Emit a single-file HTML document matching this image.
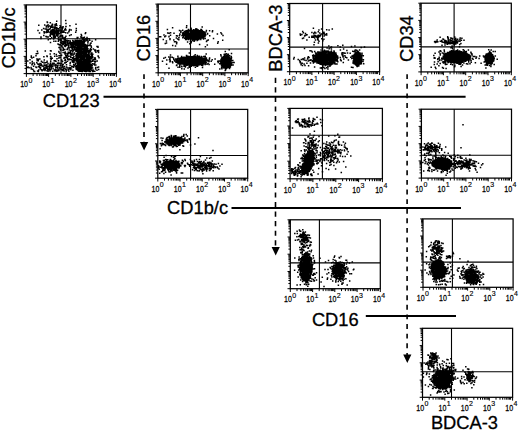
<!DOCTYPE html><html><head><meta charset="utf-8"><style>html,body{margin:0;padding:0;background:#fff;}svg{display:block}text{font-family:"Liberation Sans",sans-serif;fill:#000}</style></head><body>
<svg width="520" height="430" viewBox="0 0 520 430">
<rect x="26.4" y="4.9" width="90" height="68.7" fill="none" stroke="#000" stroke-width="1.25"/>
<path d="M61 4.9V73.6M26.4 38.8H116.4" stroke="#000" stroke-width="1.1"/>
<path d="M26.4 73.6v3.3M26.4 73.6h-2.8M33.1 73.6v2.4M26.4 68.4h-1.9M37 73.6v2.4M26.4 65.4h-1.9M39.8 73.6v2.4M26.4 63.3h-1.9M42 73.6v2.4M26.4 61.6h-1.9M43.7 73.6v2.4M26.4 60.2h-1.9M45.2 73.6v2.4M26.4 59.1h-1.9M46.5 73.6v2.4M26.4 58.1h-1.9M47.6 73.6v2.4M26.4 57.2h-1.9M48.6 73.6v3.3M26.4 56.4h-2.8M55.3 73.6v2.4M26.4 51.3h-1.9M59.3 73.6v2.4M26.4 48.2h-1.9M62 73.6v2.4M26.4 46.1h-1.9M64.2 73.6v2.4M26.4 44.4h-1.9M66 73.6v2.4M26.4 43.1h-1.9M67.5 73.6v2.4M26.4 41.9h-1.9M68.7 73.6v2.4M26.4 40.9h-1.9M69.9 73.6v2.4M26.4 40h-1.9M70.9 73.6v3.3M26.4 39.2h-2.8M77.6 73.6v2.4M26.4 34.1h-1.9M81.5 73.6v2.4M26.4 31.1h-1.9M84.3 73.6v2.4M26.4 28.9h-1.9M86.5 73.6v2.4M26.4 27.2h-1.9M88.2 73.6v2.4M26.4 25.9h-1.9M89.7 73.6v2.4M26.4 24.7h-1.9M91 73.6v2.4M26.4 23.7h-1.9M92.1 73.6v2.4M26.4 22.9h-1.9M93.2 73.6v3.3M26.4 22.1h-2.8M99.8 73.6v2.4M26.4 16.9h-1.9M103.8 73.6v2.4M26.4 13.9h-1.9M106.5 73.6v2.4M26.4 11.7h-1.9M108.7 73.6v2.4M26.4 10.1h-1.9M110.5 73.6v2.4M26.4 8.7h-1.9M112 73.6v2.4M26.4 7.6h-1.9M113.2 73.6v2.4M26.4 6.6h-1.9M114.4 73.6v2.4M26.4 5.7h-1.9M116.4 73.6v3.3M26.4 4.9h-2.8" stroke="#000" stroke-width="1"/>
<text transform="translate(28.0 87.3) scale(0.8 1)" font-size="8.8" text-anchor="end" stroke="#000" stroke-width="0.25">10</text>
<text x="28.4" y="82.7" font-size="7" stroke="#000" stroke-width="0.15">0</text>
<text transform="translate(50.2 87.3) scale(0.8 1)" font-size="8.8" text-anchor="end" stroke="#000" stroke-width="0.25">10</text>
<text x="50.6" y="82.7" font-size="7" stroke="#000" stroke-width="0.15">1</text>
<text transform="translate(72.5 87.3) scale(0.8 1)" font-size="8.8" text-anchor="end" stroke="#000" stroke-width="0.25">10</text>
<text x="72.9" y="82.7" font-size="7" stroke="#000" stroke-width="0.15">2</text>
<text transform="translate(94.8 87.3) scale(0.8 1)" font-size="8.8" text-anchor="end" stroke="#000" stroke-width="0.25">10</text>
<text x="95.2" y="82.7" font-size="7" stroke="#000" stroke-width="0.15">3</text>
<text transform="translate(117.0 87.3) scale(0.8 1)" font-size="8.8" text-anchor="end" stroke="#000" stroke-width="0.25">10</text>
<text x="117.4" y="82.7" font-size="7" stroke="#000" stroke-width="0.15">4</text>
<rect x="158.2" y="4.1" width="90" height="68.7" fill="none" stroke="#000" stroke-width="1.25"/>
<path d="M190.5 4.1V72.8M158.2 49H248.2" stroke="#000" stroke-width="1.1"/>
<path d="M158.2 72.8v3.3M158.2 72.8h-2.8M164.9 72.8v2.4M158.2 67.6h-1.9M168.8 72.8v2.4M158.2 64.6h-1.9M171.6 72.8v2.4M158.2 62.5h-1.9M173.8 72.8v2.4M158.2 60.8h-1.9M175.5 72.8v2.4M158.2 59.4h-1.9M177 72.8v2.4M158.2 58.3h-1.9M178.3 72.8v2.4M158.2 57.3h-1.9M179.4 72.8v2.4M158.2 56.4h-1.9M180.4 72.8v3.3M158.2 55.6h-2.8M187.1 72.8v2.4M158.2 50.5h-1.9M191.1 72.8v2.4M158.2 47.4h-1.9M193.8 72.8v2.4M158.2 45.3h-1.9M196 72.8v2.4M158.2 43.6h-1.9M197.8 72.8v2.4M158.2 42.3h-1.9M199.3 72.8v2.4M158.2 41.1h-1.9M200.5 72.8v2.4M158.2 40.1h-1.9M201.7 72.8v2.4M158.2 39.2h-1.9M202.7 72.8v3.3M158.2 38.4h-2.8M209.4 72.8v2.4M158.2 33.3h-1.9M213.3 72.8v2.4M158.2 30.3h-1.9M216.1 72.8v2.4M158.2 28.1h-1.9M218.3 72.8v2.4M158.2 26.4h-1.9M220 72.8v2.4M158.2 25.1h-1.9M221.5 72.8v2.4M158.2 23.9h-1.9M222.8 72.8v2.4M158.2 22.9h-1.9M223.9 72.8v2.4M158.2 22.1h-1.9M224.9 72.8v3.3M158.2 21.3h-2.8M231.6 72.8v2.4M158.2 16.1h-1.9M235.6 72.8v2.4M158.2 13.1h-1.9M238.3 72.8v2.4M158.2 10.9h-1.9M240.5 72.8v2.4M158.2 9.3h-1.9M242.3 72.8v2.4M158.2 7.9h-1.9M243.8 72.8v2.4M158.2 6.8h-1.9M245 72.8v2.4M158.2 5.8h-1.9M246.2 72.8v2.4M158.2 4.9h-1.9M248.2 72.8v3.3M158.2 4.1h-2.8" stroke="#000" stroke-width="1"/>
<text transform="translate(159.8 86.5) scale(0.8 1)" font-size="8.8" text-anchor="end" stroke="#000" stroke-width="0.25">10</text>
<text x="160.2" y="81.9" font-size="7" stroke="#000" stroke-width="0.15">0</text>
<text transform="translate(182.0 86.5) scale(0.8 1)" font-size="8.8" text-anchor="end" stroke="#000" stroke-width="0.25">10</text>
<text x="182.4" y="81.9" font-size="7" stroke="#000" stroke-width="0.15">1</text>
<text transform="translate(204.3 86.5) scale(0.8 1)" font-size="8.8" text-anchor="end" stroke="#000" stroke-width="0.25">10</text>
<text x="204.7" y="81.9" font-size="7" stroke="#000" stroke-width="0.15">2</text>
<text transform="translate(226.5 86.5) scale(0.8 1)" font-size="8.8" text-anchor="end" stroke="#000" stroke-width="0.25">10</text>
<text x="226.9" y="81.9" font-size="7" stroke="#000" stroke-width="0.15">3</text>
<text transform="translate(248.8 86.5) scale(0.8 1)" font-size="8.8" text-anchor="end" stroke="#000" stroke-width="0.25">10</text>
<text x="249.2" y="81.9" font-size="7" stroke="#000" stroke-width="0.15">4</text>
<rect x="289.7" y="3.5" width="89.9" height="68.2" fill="none" stroke="#000" stroke-width="1.25"/>
<path d="M322.6 3.5V71.7M289.7 47.1H379.6" stroke="#000" stroke-width="1.1"/>
<path d="M289.7 71.7v3.3M289.7 71.7h-2.8M296.4 71.7v2.4M289.7 66.6h-1.9M300.3 71.7v2.4M289.7 63.6h-1.9M303.1 71.7v2.4M289.7 61.4h-1.9M305.2 71.7v2.4M289.7 59.8h-1.9M307 71.7v2.4M289.7 58.4h-1.9M308.5 71.7v2.4M289.7 57.3h-1.9M309.8 71.7v2.4M289.7 56.3h-1.9M310.9 71.7v2.4M289.7 55.4h-1.9M311.9 71.7v3.3M289.7 54.7h-2.8M318.6 71.7v2.4M289.7 49.5h-1.9M322.5 71.7v2.4M289.7 46.5h-1.9M325.3 71.7v2.4M289.7 44.4h-1.9M327.5 71.7v2.4M289.7 42.7h-1.9M329.2 71.7v2.4M289.7 41.4h-1.9M330.7 71.7v2.4M289.7 40.2h-1.9M332 71.7v2.4M289.7 39.3h-1.9M333.1 71.7v2.4M289.7 38.4h-1.9M334.1 71.7v3.3M289.7 37.6h-2.8M340.8 71.7v2.4M289.7 32.5h-1.9M344.8 71.7v2.4M289.7 29.5h-1.9M347.5 71.7v2.4M289.7 27.3h-1.9M349.7 71.7v2.4M289.7 25.7h-1.9M351.4 71.7v2.4M289.7 24.3h-1.9M352.9 71.7v2.4M289.7 23.2h-1.9M354.2 71.7v2.4M289.7 22.2h-1.9M355.4 71.7v2.4M289.7 21.3h-1.9M356.4 71.7v3.3M289.7 20.5h-2.8M363.1 71.7v2.4M289.7 15.4h-1.9M367 71.7v2.4M289.7 12.4h-1.9M369.8 71.7v2.4M289.7 10.3h-1.9M371.9 71.7v2.4M289.7 8.6h-1.9M373.7 71.7v2.4M289.7 7.3h-1.9M375.2 71.7v2.4M289.7 6.1h-1.9M376.4 71.7v2.4M289.7 5.2h-1.9M377.6 71.7v2.4M289.7 4.3h-1.9M379.6 71.7v3.3M289.7 3.5h-2.8" stroke="#000" stroke-width="1"/>
<text transform="translate(291.3 85.4) scale(0.8 1)" font-size="8.8" text-anchor="end" stroke="#000" stroke-width="0.25">10</text>
<text x="291.7" y="80.8" font-size="7" stroke="#000" stroke-width="0.15">0</text>
<text transform="translate(313.5 85.4) scale(0.8 1)" font-size="8.8" text-anchor="end" stroke="#000" stroke-width="0.25">10</text>
<text x="313.9" y="80.8" font-size="7" stroke="#000" stroke-width="0.15">1</text>
<text transform="translate(335.8 85.4) scale(0.8 1)" font-size="8.8" text-anchor="end" stroke="#000" stroke-width="0.25">10</text>
<text x="336.1" y="80.8" font-size="7" stroke="#000" stroke-width="0.15">2</text>
<text transform="translate(358.0 85.4) scale(0.8 1)" font-size="8.8" text-anchor="end" stroke="#000" stroke-width="0.25">10</text>
<text x="358.4" y="80.8" font-size="7" stroke="#000" stroke-width="0.15">3</text>
<text transform="translate(380.2 85.4) scale(0.8 1)" font-size="8.8" text-anchor="end" stroke="#000" stroke-width="0.25">10</text>
<text x="380.6" y="80.8" font-size="7" stroke="#000" stroke-width="0.15">4</text>
<rect x="421.1" y="3.2" width="90.2" height="68.7" fill="none" stroke="#000" stroke-width="1.25"/>
<path d="M454.1 3.2V71.9M421.1 46.9H511.3" stroke="#000" stroke-width="1.1"/>
<path d="M421.1 71.9v3.3M421.1 71.9h-2.8M427.8 71.9v2.4M421.1 66.7h-1.9M431.7 71.9v2.4M421.1 63.7h-1.9M434.5 71.9v2.4M421.1 61.6h-1.9M436.7 71.9v2.4M421.1 59.9h-1.9M438.5 71.9v2.4M421.1 58.5h-1.9M439.9 71.9v2.4M421.1 57.4h-1.9M441.2 71.9v2.4M421.1 56.4h-1.9M442.4 71.9v2.4M421.1 55.5h-1.9M443.4 71.9v3.3M421.1 54.7h-2.8M450.1 71.9v2.4M421.1 49.6h-1.9M454 71.9v2.4M421.1 46.5h-1.9M456.8 71.9v2.4M421.1 44.4h-1.9M459 71.9v2.4M421.1 42.7h-1.9M460.8 71.9v2.4M421.1 41.4h-1.9M462.2 71.9v2.4M421.1 40.2h-1.9M463.5 71.9v2.4M421.1 39.2h-1.9M464.7 71.9v2.4M421.1 38.3h-1.9M465.7 71.9v3.3M421.1 37.6h-2.8M472.4 71.9v2.4M421.1 32.4h-1.9M476.3 71.9v2.4M421.1 29.4h-1.9M479.1 71.9v2.4M421.1 27.2h-1.9M481.3 71.9v2.4M421.1 25.5h-1.9M483.1 71.9v2.4M421.1 24.2h-1.9M484.5 71.9v2.4M421.1 23h-1.9M485.8 71.9v2.4M421.1 22h-1.9M487 71.9v2.4M421.1 21.2h-1.9M488 71.9v3.3M421.1 20.4h-2.8M494.7 71.9v2.4M421.1 15.2h-1.9M498.6 71.9v2.4M421.1 12.2h-1.9M501.4 71.9v2.4M421.1 10h-1.9M503.6 71.9v2.4M421.1 8.4h-1.9M505.4 71.9v2.4M421.1 7h-1.9M506.8 71.9v2.4M421.1 5.9h-1.9M508.1 71.9v2.4M421.1 4.9h-1.9M509.3 71.9v2.4M421.1 4h-1.9M511.3 71.9v3.3M421.1 3.2h-2.8" stroke="#000" stroke-width="1"/>
<text transform="translate(422.7 85.6) scale(0.8 1)" font-size="8.8" text-anchor="end" stroke="#000" stroke-width="0.25">10</text>
<text x="423.1" y="81.0" font-size="7" stroke="#000" stroke-width="0.15">0</text>
<text transform="translate(445.0 85.6) scale(0.8 1)" font-size="8.8" text-anchor="end" stroke="#000" stroke-width="0.25">10</text>
<text x="445.4" y="81.0" font-size="7" stroke="#000" stroke-width="0.15">1</text>
<text transform="translate(467.3 85.6) scale(0.8 1)" font-size="8.8" text-anchor="end" stroke="#000" stroke-width="0.25">10</text>
<text x="467.7" y="81.0" font-size="7" stroke="#000" stroke-width="0.15">2</text>
<text transform="translate(489.6 85.6) scale(0.8 1)" font-size="8.8" text-anchor="end" stroke="#000" stroke-width="0.25">10</text>
<text x="490.0" y="81.0" font-size="7" stroke="#000" stroke-width="0.15">3</text>
<text transform="translate(511.9 85.6) scale(0.8 1)" font-size="8.8" text-anchor="end" stroke="#000" stroke-width="0.25">10</text>
<text x="512.3" y="81.0" font-size="7" stroke="#000" stroke-width="0.15">4</text>
<rect x="157.8" y="109.4" width="89.9" height="68.8" fill="none" stroke="#000" stroke-width="1.25"/>
<path d="M190.6 109.4V178.2M157.8 155.5H247.7" stroke="#000" stroke-width="1.1"/>
<path d="M157.8 178.2v3.3M157.8 178.2h-2.8M164.5 178.2v2.4M157.8 173h-1.9M168.4 178.2v2.4M157.8 170h-1.9M171.2 178.2v2.4M157.8 167.8h-1.9M173.3 178.2v2.4M157.8 166.2h-1.9M175.1 178.2v2.4M157.8 164.8h-1.9M176.6 178.2v2.4M157.8 163.7h-1.9M177.9 178.2v2.4M157.8 162.7h-1.9M179 178.2v2.4M157.8 161.8h-1.9M180 178.2v3.3M157.8 161h-2.8M186.7 178.2v2.4M157.8 155.8h-1.9M190.6 178.2v2.4M157.8 152.8h-1.9M193.4 178.2v2.4M157.8 150.6h-1.9M195.6 178.2v2.4M157.8 149h-1.9M197.3 178.2v2.4M157.8 147.6h-1.9M198.8 178.2v2.4M157.8 146.5h-1.9M200.1 178.2v2.4M157.8 145.5h-1.9M201.2 178.2v2.4M157.8 144.6h-1.9M202.2 178.2v3.3M157.8 143.8h-2.8M208.9 178.2v2.4M157.8 138.6h-1.9M212.9 178.2v2.4M157.8 135.6h-1.9M215.6 178.2v2.4M157.8 133.4h-1.9M217.8 178.2v2.4M157.8 131.8h-1.9M219.5 178.2v2.4M157.8 130.4h-1.9M221 178.2v2.4M157.8 129.3h-1.9M222.3 178.2v2.4M157.8 128.3h-1.9M223.5 178.2v2.4M157.8 127.4h-1.9M224.5 178.2v3.3M157.8 126.6h-2.8M231.2 178.2v2.4M157.8 121.4h-1.9M235.1 178.2v2.4M157.8 118.4h-1.9M237.9 178.2v2.4M157.8 116.2h-1.9M240 178.2v2.4M157.8 114.6h-1.9M241.8 178.2v2.4M157.8 113.2h-1.9M243.3 178.2v2.4M157.8 112.1h-1.9M244.5 178.2v2.4M157.8 111.1h-1.9M245.7 178.2v2.4M157.8 110.2h-1.9M247.7 178.2v3.3M157.8 109.4h-2.8" stroke="#000" stroke-width="1"/>
<text transform="translate(159.4 191.9) scale(0.8 1)" font-size="8.8" text-anchor="end" stroke="#000" stroke-width="0.25">10</text>
<text x="159.8" y="187.3" font-size="7" stroke="#000" stroke-width="0.15">0</text>
<text transform="translate(181.6 191.9) scale(0.8 1)" font-size="8.8" text-anchor="end" stroke="#000" stroke-width="0.25">10</text>
<text x="182.0" y="187.3" font-size="7" stroke="#000" stroke-width="0.15">1</text>
<text transform="translate(203.8 191.9) scale(0.8 1)" font-size="8.8" text-anchor="end" stroke="#000" stroke-width="0.25">10</text>
<text x="204.2" y="187.3" font-size="7" stroke="#000" stroke-width="0.15">2</text>
<text transform="translate(226.1 191.9) scale(0.8 1)" font-size="8.8" text-anchor="end" stroke="#000" stroke-width="0.25">10</text>
<text x="226.5" y="187.3" font-size="7" stroke="#000" stroke-width="0.15">3</text>
<text transform="translate(248.3 191.9) scale(0.8 1)" font-size="8.8" text-anchor="end" stroke="#000" stroke-width="0.25">10</text>
<text x="248.7" y="187.3" font-size="7" stroke="#000" stroke-width="0.15">4</text>
<rect x="290.1" y="108.4" width="92.3" height="70.4" fill="none" stroke="#000" stroke-width="1.25"/>
<path d="M322.4 108.4V178.8M290.1 135.3H382.4" stroke="#000" stroke-width="1.1"/>
<path d="M290.1 178.8v3.3M290.1 178.8h-2.8M297 178.8v2.4M290.1 173.5h-1.9M301 178.8v2.4M290.1 170.4h-1.9M303.8 178.8v2.4M290.1 168.2h-1.9M306.1 178.8v2.4M290.1 166.5h-1.9M307.9 178.8v2.4M290.1 165.1h-1.9M309.4 178.8v2.4M290.1 163.9h-1.9M310.7 178.8v2.4M290.1 162.9h-1.9M311.9 178.8v2.4M290.1 162h-1.9M312.9 178.8v3.3M290.1 161.2h-2.8M319.8 178.8v2.4M290.1 155.9h-1.9M323.8 178.8v2.4M290.1 152.8h-1.9M326.7 178.8v2.4M290.1 150.6h-1.9M328.9 178.8v2.4M290.1 148.9h-1.9M330.7 178.8v2.4M290.1 147.5h-1.9M332.2 178.8v2.4M290.1 146.3h-1.9M333.5 178.8v2.4M290.1 145.3h-1.9M334.7 178.8v2.4M290.1 144.4h-1.9M335.8 178.8v3.3M290.1 143.6h-2.8M342.6 178.8v2.4M290.1 138.3h-1.9M346.6 178.8v2.4M290.1 135.2h-1.9M349.5 178.8v2.4M290.1 133h-1.9M351.7 178.8v2.4M290.1 131.3h-1.9M353.5 178.8v2.4M290.1 129.9h-1.9M355 178.8v2.4M290.1 128.7h-1.9M356.4 178.8v2.4M290.1 127.7h-1.9M357.5 178.8v2.4M290.1 126.8h-1.9M358.6 178.8v3.3M290.1 126h-2.8M365.4 178.8v2.4M290.1 120.7h-1.9M369.5 178.8v2.4M290.1 117.6h-1.9M372.3 178.8v2.4M290.1 115.4h-1.9M374.5 178.8v2.4M290.1 113.7h-1.9M376.3 178.8v2.4M290.1 112.3h-1.9M377.9 178.8v2.4M290.1 111.1h-1.9M379.2 178.8v2.4M290.1 110.1h-1.9M380.4 178.8v2.4M290.1 109.2h-1.9M382.4 178.8v3.3M290.1 108.4h-2.8" stroke="#000" stroke-width="1"/>
<text transform="translate(291.7 192.5) scale(0.8 1)" font-size="8.8" text-anchor="end" stroke="#000" stroke-width="0.25">10</text>
<text x="292.1" y="187.9" font-size="7" stroke="#000" stroke-width="0.15">0</text>
<text transform="translate(314.5 192.5) scale(0.8 1)" font-size="8.8" text-anchor="end" stroke="#000" stroke-width="0.25">10</text>
<text x="314.9" y="187.9" font-size="7" stroke="#000" stroke-width="0.15">1</text>
<text transform="translate(337.4 192.5) scale(0.8 1)" font-size="8.8" text-anchor="end" stroke="#000" stroke-width="0.25">10</text>
<text x="337.8" y="187.9" font-size="7" stroke="#000" stroke-width="0.15">2</text>
<text transform="translate(360.2 192.5) scale(0.8 1)" font-size="8.8" text-anchor="end" stroke="#000" stroke-width="0.25">10</text>
<text x="360.6" y="187.9" font-size="7" stroke="#000" stroke-width="0.15">3</text>
<text transform="translate(383.0 192.5) scale(0.8 1)" font-size="8.8" text-anchor="end" stroke="#000" stroke-width="0.25">10</text>
<text x="383.4" y="187.9" font-size="7" stroke="#000" stroke-width="0.15">4</text>
<rect x="421.4" y="109.2" width="90.1" height="68.9" fill="none" stroke="#000" stroke-width="1.25"/>
<path d="M454.2 109.2V178.1M421.4 155.3H511.5" stroke="#000" stroke-width="1.1"/>
<path d="M421.4 178.1v3.3M421.4 178.1h-2.8M428.1 178.1v2.4M421.4 172.9h-1.9M432 178.1v2.4M421.4 169.9h-1.9M434.8 178.1v2.4M421.4 167.7h-1.9M437 178.1v2.4M421.4 166.1h-1.9M438.7 178.1v2.4M421.4 164.7h-1.9M440.2 178.1v2.4M421.4 163.5h-1.9M441.5 178.1v2.4M421.4 162.5h-1.9M442.7 178.1v2.4M421.4 161.7h-1.9M443.7 178.1v3.3M421.4 160.9h-2.8M450.4 178.1v2.4M421.4 155.7h-1.9M454.3 178.1v2.4M421.4 152.7h-1.9M457.1 178.1v2.4M421.4 150.5h-1.9M459.2 178.1v2.4M421.4 148.8h-1.9M461 178.1v2.4M421.4 147.5h-1.9M462.5 178.1v2.4M421.4 146.3h-1.9M463.8 178.1v2.4M421.4 145.3h-1.9M464.9 178.1v2.4M421.4 144.4h-1.9M465.9 178.1v3.3M421.4 143.7h-2.8M472.7 178.1v2.4M421.4 138.5h-1.9M476.6 178.1v2.4M421.4 135.4h-1.9M479.4 178.1v2.4M421.4 133.3h-1.9M481.5 178.1v2.4M421.4 131.6h-1.9M483.3 178.1v2.4M421.4 130.2h-1.9M484.8 178.1v2.4M421.4 129.1h-1.9M486.1 178.1v2.4M421.4 128.1h-1.9M487.2 178.1v2.4M421.4 127.2h-1.9M488.2 178.1v3.3M421.4 126.4h-2.8M494.9 178.1v2.4M421.4 121.2h-1.9M498.9 178.1v2.4M421.4 118.2h-1.9M501.6 178.1v2.4M421.4 116.1h-1.9M503.8 178.1v2.4M421.4 114.4h-1.9M505.6 178.1v2.4M421.4 113h-1.9M507 178.1v2.4M421.4 111.9h-1.9M508.3 178.1v2.4M421.4 110.9h-1.9M509.5 178.1v2.4M421.4 110h-1.9M511.5 178.1v3.3M421.4 109.2h-2.8" stroke="#000" stroke-width="1"/>
<text transform="translate(423.0 191.8) scale(0.8 1)" font-size="8.8" text-anchor="end" stroke="#000" stroke-width="0.25">10</text>
<text x="423.4" y="187.2" font-size="7" stroke="#000" stroke-width="0.15">0</text>
<text transform="translate(445.3 191.8) scale(0.8 1)" font-size="8.8" text-anchor="end" stroke="#000" stroke-width="0.25">10</text>
<text x="445.7" y="187.2" font-size="7" stroke="#000" stroke-width="0.15">1</text>
<text transform="translate(467.6 191.8) scale(0.8 1)" font-size="8.8" text-anchor="end" stroke="#000" stroke-width="0.25">10</text>
<text x="467.9" y="187.2" font-size="7" stroke="#000" stroke-width="0.15">2</text>
<text transform="translate(489.8 191.8) scale(0.8 1)" font-size="8.8" text-anchor="end" stroke="#000" stroke-width="0.25">10</text>
<text x="490.2" y="187.2" font-size="7" stroke="#000" stroke-width="0.15">3</text>
<text transform="translate(512.1 191.8) scale(0.8 1)" font-size="8.8" text-anchor="end" stroke="#000" stroke-width="0.25">10</text>
<text x="512.5" y="187.2" font-size="7" stroke="#000" stroke-width="0.15">4</text>
<rect x="290.3" y="219.8" width="90" height="68.9" fill="none" stroke="#000" stroke-width="1.25"/>
<path d="M319.4 219.8V288.7M290.3 262.9H380.3" stroke="#000" stroke-width="1.1"/>
<path d="M290.3 288.7v3.3M290.3 288.7h-2.8M297 288.7v2.4M290.3 283.5h-1.9M300.9 288.7v2.4M290.3 280.5h-1.9M303.7 288.7v2.4M290.3 278.3h-1.9M305.9 288.7v2.4M290.3 276.7h-1.9M307.6 288.7v2.4M290.3 275.3h-1.9M309.1 288.7v2.4M290.3 274.1h-1.9M310.4 288.7v2.4M290.3 273.1h-1.9M311.5 288.7v2.4M290.3 272.3h-1.9M312.6 288.7v3.3M290.3 271.5h-2.8M319.2 288.7v2.4M290.3 266.3h-1.9M323.2 288.7v2.4M290.3 263.3h-1.9M325.9 288.7v2.4M290.3 261.1h-1.9M328.1 288.7v2.4M290.3 259.4h-1.9M329.9 288.7v2.4M290.3 258.1h-1.9M331.4 288.7v2.4M290.3 256.9h-1.9M332.6 288.7v2.4M290.3 255.9h-1.9M333.8 288.7v2.4M290.3 255h-1.9M334.8 288.7v3.3M290.3 254.2h-2.8M341.5 288.7v2.4M290.3 249.1h-1.9M345.4 288.7v2.4M290.3 246h-1.9M348.2 288.7v2.4M290.3 243.9h-1.9M350.4 288.7v2.4M290.3 242.2h-1.9M352.1 288.7v2.4M290.3 240.8h-1.9M353.6 288.7v2.4M290.3 239.7h-1.9M354.9 288.7v2.4M290.3 238.7h-1.9M356 288.7v2.4M290.3 237.8h-1.9M357.1 288.7v3.3M290.3 237h-2.8M363.7 288.7v2.4M290.3 231.8h-1.9M367.7 288.7v2.4M290.3 228.8h-1.9M370.4 288.7v2.4M290.3 226.7h-1.9M372.6 288.7v2.4M290.3 225h-1.9M374.4 288.7v2.4M290.3 223.6h-1.9M375.9 288.7v2.4M290.3 222.5h-1.9M377.1 288.7v2.4M290.3 221.5h-1.9M378.3 288.7v2.4M290.3 220.6h-1.9M380.3 288.7v3.3M290.3 219.8h-2.8" stroke="#000" stroke-width="1"/>
<text transform="translate(291.9 302.4) scale(0.8 1)" font-size="8.8" text-anchor="end" stroke="#000" stroke-width="0.25">10</text>
<text x="292.3" y="297.8" font-size="7" stroke="#000" stroke-width="0.15">0</text>
<text transform="translate(314.2 302.4) scale(0.8 1)" font-size="8.8" text-anchor="end" stroke="#000" stroke-width="0.25">10</text>
<text x="314.6" y="297.8" font-size="7" stroke="#000" stroke-width="0.15">1</text>
<text transform="translate(336.4 302.4) scale(0.8 1)" font-size="8.8" text-anchor="end" stroke="#000" stroke-width="0.25">10</text>
<text x="336.8" y="297.8" font-size="7" stroke="#000" stroke-width="0.15">2</text>
<text transform="translate(358.7 302.4) scale(0.8 1)" font-size="8.8" text-anchor="end" stroke="#000" stroke-width="0.25">10</text>
<text x="359.1" y="297.8" font-size="7" stroke="#000" stroke-width="0.15">3</text>
<text transform="translate(380.9 302.4) scale(0.8 1)" font-size="8.8" text-anchor="end" stroke="#000" stroke-width="0.25">10</text>
<text x="381.3" y="297.8" font-size="7" stroke="#000" stroke-width="0.15">4</text>
<rect x="423" y="218.9" width="90.1" height="68.4" fill="none" stroke="#000" stroke-width="1.25"/>
<path d="M452.4 218.9V287.3M423 262.1H513.1" stroke="#000" stroke-width="1.1"/>
<path d="M423 287.3v3.3M423 287.3h-2.8M429.7 287.3v2.4M423 282.2h-1.9M433.6 287.3v2.4M423 279.1h-1.9M436.4 287.3v2.4M423 277h-1.9M438.6 287.3v2.4M423 275.3h-1.9M440.3 287.3v2.4M423 274h-1.9M441.8 287.3v2.4M423 272.8h-1.9M443.1 287.3v2.4M423 271.9h-1.9M444.3 287.3v2.4M423 271h-1.9M445.3 287.3v3.3M423 270.2h-2.8M452 287.3v2.4M423 265.1h-1.9M455.9 287.3v2.4M423 262h-1.9M458.7 287.3v2.4M423 259.9h-1.9M460.8 287.3v2.4M423 258.2h-1.9M462.6 287.3v2.4M423 256.9h-1.9M464.1 287.3v2.4M423 255.7h-1.9M465.4 287.3v2.4M423 254.8h-1.9M466.5 287.3v2.4M423 253.9h-1.9M467.6 287.3v3.3M423 253.1h-2.8M474.3 287.3v2.4M423 248h-1.9M478.2 287.3v2.4M423 244.9h-1.9M481 287.3v2.4M423 242.8h-1.9M483.1 287.3v2.4M423 241.1h-1.9M484.9 287.3v2.4M423 239.8h-1.9M486.4 287.3v2.4M423 238.6h-1.9M487.7 287.3v2.4M423 237.7h-1.9M488.8 287.3v2.4M423 236.8h-1.9M489.8 287.3v3.3M423 236h-2.8M496.5 287.3v2.4M423 230.9h-1.9M500.5 287.3v2.4M423 227.8h-1.9M503.2 287.3v2.4M423 225.7h-1.9M505.4 287.3v2.4M423 224h-1.9M507.2 287.3v2.4M423 222.7h-1.9M508.6 287.3v2.4M423 221.5h-1.9M509.9 287.3v2.4M423 220.6h-1.9M511.1 287.3v2.4M423 219.7h-1.9M513.1 287.3v3.3M423 218.9h-2.8" stroke="#000" stroke-width="1"/>
<text transform="translate(424.6 301.0) scale(0.8 1)" font-size="8.8" text-anchor="end" stroke="#000" stroke-width="0.25">10</text>
<text x="425.0" y="296.4" font-size="7" stroke="#000" stroke-width="0.15">0</text>
<text transform="translate(446.9 301.0) scale(0.8 1)" font-size="8.8" text-anchor="end" stroke="#000" stroke-width="0.25">10</text>
<text x="447.3" y="296.4" font-size="7" stroke="#000" stroke-width="0.15">1</text>
<text transform="translate(469.2 301.0) scale(0.8 1)" font-size="8.8" text-anchor="end" stroke="#000" stroke-width="0.25">10</text>
<text x="469.6" y="296.4" font-size="7" stroke="#000" stroke-width="0.15">2</text>
<text transform="translate(491.4 301.0) scale(0.8 1)" font-size="8.8" text-anchor="end" stroke="#000" stroke-width="0.25">10</text>
<text x="491.8" y="296.4" font-size="7" stroke="#000" stroke-width="0.15">3</text>
<text transform="translate(513.7 301.0) scale(0.8 1)" font-size="8.8" text-anchor="end" stroke="#000" stroke-width="0.25">10</text>
<text x="514.1" y="296.4" font-size="7" stroke="#000" stroke-width="0.15">4</text>
<rect x="422.5" y="328.3" width="90.1" height="69" fill="none" stroke="#000" stroke-width="1.25"/>
<path d="M451.5 328.3V397.3M422.5 371.8H512.6" stroke="#000" stroke-width="1.1"/>
<path d="M422.5 397.3v3.3M422.5 397.3h-2.8M429.2 397.3v2.4M422.5 392.1h-1.9M433.1 397.3v2.4M422.5 389.1h-1.9M435.9 397.3v2.4M422.5 386.9h-1.9M438.1 397.3v2.4M422.5 385.2h-1.9M439.8 397.3v2.4M422.5 383.9h-1.9M441.3 397.3v2.4M422.5 382.7h-1.9M442.6 397.3v2.4M422.5 381.7h-1.9M443.8 397.3v2.4M422.5 380.8h-1.9M444.8 397.3v3.3M422.5 380.1h-2.8M451.5 397.3v2.4M422.5 374.9h-1.9M455.4 397.3v2.4M422.5 371.8h-1.9M458.2 397.3v2.4M422.5 369.7h-1.9M460.3 397.3v2.4M422.5 368h-1.9M462.1 397.3v2.4M422.5 366.6h-1.9M463.6 397.3v2.4M422.5 365.5h-1.9M464.9 397.3v2.4M422.5 364.5h-1.9M466 397.3v2.4M422.5 363.6h-1.9M467.1 397.3v3.3M422.5 362.8h-2.8M473.8 397.3v2.4M422.5 357.6h-1.9M477.7 397.3v2.4M422.5 354.6h-1.9M480.5 397.3v2.4M422.5 352.4h-1.9M482.6 397.3v2.4M422.5 350.7h-1.9M484.4 397.3v2.4M422.5 349.4h-1.9M485.9 397.3v2.4M422.5 348.2h-1.9M487.2 397.3v2.4M422.5 347.2h-1.9M488.3 397.3v2.4M422.5 346.3h-1.9M489.3 397.3v3.3M422.5 345.6h-2.8M496 397.3v2.4M422.5 340.4h-1.9M500 397.3v2.4M422.5 337.3h-1.9M502.7 397.3v2.4M422.5 335.2h-1.9M504.9 397.3v2.4M422.5 333.5h-1.9M506.7 397.3v2.4M422.5 332.1h-1.9M508.1 397.3v2.4M422.5 331h-1.9M509.4 397.3v2.4M422.5 330h-1.9M510.6 397.3v2.4M422.5 329.1h-1.9M512.6 397.3v3.3M422.5 328.3h-2.8" stroke="#000" stroke-width="1"/>
<text transform="translate(424.1 411.0) scale(0.8 1)" font-size="8.8" text-anchor="end" stroke="#000" stroke-width="0.25">10</text>
<text x="424.5" y="406.4" font-size="7" stroke="#000" stroke-width="0.15">0</text>
<text transform="translate(446.4 411.0) scale(0.8 1)" font-size="8.8" text-anchor="end" stroke="#000" stroke-width="0.25">10</text>
<text x="446.8" y="406.4" font-size="7" stroke="#000" stroke-width="0.15">1</text>
<text transform="translate(468.7 411.0) scale(0.8 1)" font-size="8.8" text-anchor="end" stroke="#000" stroke-width="0.25">10</text>
<text x="469.1" y="406.4" font-size="7" stroke="#000" stroke-width="0.15">2</text>
<text transform="translate(490.9 411.0) scale(0.8 1)" font-size="8.8" text-anchor="end" stroke="#000" stroke-width="0.25">10</text>
<text x="491.3" y="406.4" font-size="7" stroke="#000" stroke-width="0.15">3</text>
<text transform="translate(513.2 411.0) scale(0.8 1)" font-size="8.8" text-anchor="end" stroke="#000" stroke-width="0.25">10</text>
<text x="513.6" y="406.4" font-size="7" stroke="#000" stroke-width="0.15">4</text>
<path transform="scale(0.1)" d="M791 470h0m42-30h0m-4 89h0m-60 52h0m-6-22h0m70 110h0m-67-174h0m100 206h0m-30-163h0m35-37h0m-54 167h0m-28-68h0m55-71h0m-26-90h0m34 106h0m-44 54h0m7-88h0m64 112h0m-81-26h0m51 84h0m4-178h0m-24 145h0m-48-74h0m-8 55h0m97-42h0m4-80h0m-13 87h0m-22-39h0m-6 64h0m-55 19h0m88-138h0m-45 122h0m-59-54h0m6-66h0m62 180h0m-60-119h0m83 120h0m36-11h0m-93-123h0m30 138h0m-52-190h0m18 74h0m40-73h0m-17 94h0m86 26h0m-64-13h0m-1-171h0m61 211h0m-3 6h0m-83-109h0m-30 76h0m-5-143h0m13-35h0m-20 97h0m62-74h0m-42 66h0m6-68h0m30 105h0m-27-63h0m63-40h0m-42 1h0m-3-35h0m38 283h0m35-91h0m-98-86h0m4 122h0m51-5h0m-51-161h0m97 163h0m-8-19h0m-91-54h0m-3-148h0m15 199h0m86-87h0m-4-24h0m-107-27h0m-4-6h0m88 199h0m12-130h0m-12 99h0m-85-30h0m120 20h0m-35-87h0m-66 103h0m21 1h0m72-133h0m-56 175h0m12-237h0m-52 206h0m16-87h0m91 18h0m-50 93h0m-16-16h0m27-204h0m-76 35h0m11 88h0m-5-50h0m15 9h0m50 128h0m-22 8h0m-4-117h0m-19-152h0m-5 50h0m-25 92h0m81 13h0m-57-3h0m43 74h0m-72-57h0m8-87h0m82 58h0m-19 79h0m36-101h0m-39 24h0m-6 58h0m-15-46h0m20 121h0m28-24h0m-16 23h0m5-245h0m-87 104h0m-15-59h0m18 128h0m108 53h0m-95-41h0m46-180h0m-22 107h0m-35-12h0m45-34h0m-45 0h0m55 29h0m13 20h0m-83-63h0m18-44h0m53 230h0m28-202h0m-16 136h0m5-84h0m8 113h0m-44-134h0m38 173h0m-73-232h0m41 28h0m-27 24h0m61-13h0m-40-29h0m47 107h0m-78-12h0m85-25h0m-28 126h0m-28-96h0m7 98h0m42-66h0m-54-79h0m-29 123h0m1-175h0m106 138h0m-99-115h0m11 64h0m-20-1h0m117 14h0m-99-44h0m29 40h0m-38 6h0m-20-29h0m23-54h0m51 83h0m28 35h0m5 66h0m-69-157h0m60 87h0m23-8h0m-15 58h0m-94-74h0m64 85h0m41-8h0m-28 24h0m5-61h0m-90-88h0m70 71h0m12 14h0m-47-198h0m74 215h0m-50-58h0m2-142h0m18 54h0m-91 17h0m88-31h0m-25 57h0m11 90h0m37-25h0m-40-158h0m-61 62h0m85 3h0m-37-83h0m-60 86h0m103 114h0m-16-120h0m-15 55h0m-22-102h0m63 16h0m-111 94h0m52-65h0m-20 98h0m-12-16h0m94-18h0m17 57h0m-83 70h0m-1-264h0m-47 148h0m54-65h0m-41 19h0m45 144h0m79-50h0m-21-125h0m-69 41h0m0 10h0m10 153h0m-33-199h0m34-27h0m12 230h0m65-53h0m-31 35h0m28-114h0m-33-25h0m11 57h0m-89-168h0m38 84h0m-8 121h0m31-137h0m-9 30h0m-64-62h0m48 11h0m-10-23h0m-17-12h0m-7 51h0m72 181h0m5-145h0m-42 40h0m-13-55h0m-46-12h0m76 96h0m32-129h0m-80 21h0m26 56h0m70-2h0m-51 145h0m57-30h0m-49-45h0m59 3h0m-39 19h0m-35-60h0m-16 114h0m32-191h0m-74-5h0m89 122h0m-20-32h0m-34-104h0m21-67h0m-23 139h0m99 42h0m-18-49h0m-99-55h0m54 122h0m-28-123h0m62 194h0m-67-143h0m39-73h0m38 158h0m-63-153h0m45 2h0m-61 169h0m18 55h0m-4-231h0m-28 74h0m84 149h0m-95-155h0m-12 2h0m118-36h0m-35 20h0m-43-9h0m-12 8h0m31 138h0m48-124h0m-106 27h0m64 126h0m-48-161h0m49 128h0m47-174h0m3 194h0m-83-179h0m100 91h0m-92 43h0m-11-132h0m98 95h0m-101-34h0m12-70h0m16 71h0m62 66h0m4 10h0m-48-128h0m-39 15h0m0 119h0m-31-56h0m12-144h0m-6 126h0m83-27h0m-67 0h0m64 69h0m25 49h0m-42-214h0m32 48h0m-35 29h0m16-55h0m-66 23h0m50 18h0m-14-27h0m59 120h0m-39 55h0m-76-180h0m135 100h0m-15-61h0m-5 24h0m-71 109h0m40-53h0m-63-68h0m-17-47h0m32 115h0m39-125h0m3-6h0m-50 13h0m81 93h0m-55 8h0m14-141h0m-40 189h0m16-128h0m14 201h0m-15-115h0m0-45h0m-9-65h0m51-5h0m-16 189h0m0 19h0m-23-215h0m-45 124h0m102 94h0m-89-75h0m34-40h0m-40-61h0m79 183h0m-76-121h0m-3-110h0m37-27h0m75 90h0m7 70h0m-30-135h0m-3 19h0m-27 193h0m31-206h0m-75 77h0m41-11h0m-61-33h0m111 182h0m-109-87h0m77-14h0m-6-73h0m-18 86h0m4 23h0m-6-66h0m-51 62h0m48-123h0m61 156h0m-67-172h0m-1-22h0m-34 103h0m-5 4h0m41-128h0m19 10h0m43 205h0m-61-211h0m12 97h0m50 125h0m-27 47h0m-84-172h0m87-70h0m25 31h0m-17-37h0m-11 237h0m-68-190h0m43 11h0m48 168h0m-75-23h0m-18-74h0m65-61h0m41 53h0m-27 103h0m-13-146h0m17-42h0m40 89h0m-79 68h0m-13-176h0m55 16h0m-15 126h0m-6-69h0m5 139h0m-80-191h0m1 39h0m26 65h0m35-120h0m16 80h0m-66-89h0m0 148h0m113 28h0m-86-145h0m25 22h0m16 26h0m52 81h0m-88 64h0m-44-107h0m38-94h0m-41 101h0m28 13h0m44 4h0m23-145h0m-65 47h0m83 114h0m-15-73h0m-1-4h0m-86-93h0m42 189h0m53 22h0m-21-173h0m-15 54h0m36 21h0m-68 46h0m-17-121h0m71 18h0m19-2h0m-65 184h0m45-71h0m-16 47h0m32 0h0m-41-34h0m1-126h0m-37 100h0m-1-145h0m68 139h0m5 31h0m-93-32h0m50 62h0m-61-177h0m128 166h0m-29 8h0m-23-160h0m14-27h0m-51 74h0m7 87h0m-5-119h0m90 43h0m-10 36h0m-123-45h0m72 99h0m-16-18h0m6-149h0m38-19h0m-100 111h0m80 81h0m-55-83h0m37 97h0m-35-183h0m70 77h0m-76 52h0m87 33h0m-27-126h0m-30 16h0m-33-36h0m107 58h0m-57 123h0m-38-122h0m54 81h0m26-36h0m-69-88h0m-5 158h0m66-40h0m-81-81h0m89 30h0m-94-22h0m95-81h0m-93 32h0m94 151h0m-105-193h0m20 48h0m31-54h0m-26 12h0m-23 62h0m90 3h0m-66 71h0m-31-127h0m32-56h0m33 224h0m29-92h0m-10-9h0m-62 51h0m42 35h0m57-102h0m-33 102h0m-43-152h0m69 188h0m-1-55h0m10-8h0m-38-62h0m-39 58h0m-38-58h0m107 74h0m-40-135h0m-20 65h0m25-17h0m29 153h0m-79-72h0m71-90h0m-16 179h0m-80-119h0m27 68h0m97-93h0m-114 33h0m67 34h0m-7-23h0m39-41h0m-41 135h0m-38-75h0m28 20h0m-35-209h0m4 104h0m-36 10h0m68 75h0m-27-127h0m2 144h0m90-78h0m-88 96h0m-1-178h0m-13 172h0m89-55h0m-51-15h0m-13 25h0m72 44h0m-70-148h0m4-52h0m49 62h0m-1-26h0m-66 5h0m4-21h0m-2 171h0m3 29h0m21 18h0m36-33h0m40 51h0m-40-64h0m-68 63h0m18-75h0m42 76h0m-65-11h0m53 6h0m4-57h0m-52-15h0m42-10h0m-4 10h0m4 43h0m-4 8h0m-15-18h0m42 26h0m-97-3h0m77-15h0m33 17h0m-56-18h0m25 35h0m-50-40h0m34 14h0m64-31h0m0 13h0m-51-15h0m-28 5h0m-5 32h0m54 24h0m40-29h0m-134-29h0m139 37h0m-42 22h0m41-22h0m-47 2h0m12-3h0m-2-46h0m-2 29h0m15-43h0m-17 32h0m27 50h0m-42-63h0m-42 20h0m3 1h0m-42 16h0m121 1h0m17-15h0m-145-8h0m155 11h0m-91-45h0m37 13h0m12 4h0m2-7h0m0-12h0m-16 75h0m-51 3h0m28-81h0m-19 62h0m11 12h0m-12-4h0m43-27h0m-39 44h0m29-59h0m-38 38h0m43-36h0m-36 45h0m69-48h0m-61 36h0m24-37h0m-37-23h0m-23 80h0m65-9h0m-23-56h0m-33 65h0m86-35h0m-3-27h0m18 35h0m-66 8h0m-46-48h0m-1 61h0m29-16h0m6-6h0m-47 14h0m109-57h0m-30 22h0m-13-39h0m56 56h0m-48-27h0m34 20h0m-93-29h0m64 26h0m-55 20h0m66-21h0m-35-28h0m-31 23h0m85 43h0m-18-49h0m-13 55h0m-78-52h0m24-24h0m36 5h0m-39-3h0m77 6h0m-93 31h0m113 21h0m-63-34h0m60 16h0m-31-40h0m13 49h0m-71-17h0m-18-16h0m109 7h0m-107 19h0m80-34h0m-31 9h0m-35-10h0m-25 11h0m100 0h0m13 6h0m4 22h0m-103-11h0m116-26h0m-55-9h0m-62 75h0m85-68h0m-17 35h0m-53-34h0m54 60h0m32-15h0m-13-21h0m-2-42h0m15 33h0m-51-38h0m67 55h0m-6-25h0m-81-12h0m0 51h0m-58-9h0m70 0h0m-52 24h0m32-1h0m10 5h0m92-31h0m-71 5h0m4-62h0m26 21h0m-109 49h0m89-9h0m20-51h0m27 74h0m-60-26h0m-34-45h0m20 1h0m-41 53h0m95-49h0m-57 30h0m72 13h0m-10-22h0m-86-1h0m-29 22h0m31-11h0m61-7h0m-16-36h0m-16 53h0m81 15h0m-47-44h0m6 1h0m-10-3h0m-16 22h0m69-17h0m-103 43h0m-30-7h0m134-9h0m-110-6h0m42-38h0m-38 31h0m-1-20h0m-32 37h0m120 7h0m-43 5h0m-59 7h0m42-19h0m24-10h0m-48-27h0m-15 32h0m26 9h0m77-41h0m-49 30h0m-42 34h0m92-40h0m-129-6h0m60 41h0m-53-61h0m8 13h0m31 41h0m75-19h0m-13 27h0m4-32h0m4 28h0m-3-15h0m-31-20h0m5-4h0m-25 9h0m-55-268h0m-41 57h0m18-10h0m53-85h0m-81 72h0m88 8h0m29 3h0m-76-24h0m67-19h0m10-37h0m-16 46h0m-149 61h0m129-52h0m-84 0h0m151-37h0m-295 51h0m138-2h0m44-32h0m-16 63h0m-31 33h0m37-100h0m87 35h0m-107 25h0m-56-41h0m179-11h0m-139 48h0m128-39h0m-163 19h0m138 9h0m79-45h0m-137 31h0m95-44h0m-3-55h0m-19 67h0m-13 44h0m-101-6h0m87 5h0m-77-35h0m-40 115h0m87-100h0m-70 48h0m59 5h0m74-56h0m-13-32h0m-59 26h0m-53 28h0m74 30h0m-201-29h0m145-19h0m84 12h0m-28-22h0m32 19h0m-141 6h0m23-32h0m96 21h0m-7-27h0m-19 2h0m43 41h0m84 3h0m-160-24h0m-4 24h0m175-19h0m-258-14h0m63 43h0m76-20h0m99-52h0m-141 110h0m56-94h0m-144 3h0m-16 51h0m152 2h0m-20-48h0m-22 83h0m-69-40h0m108-6h0m-26 1h0m68-32h0m-75 12h0m-30 5h0m41 5h0m103 16h0m-109-3h0m44-3h0m-18-11h0m-35-26h0m90 47h0m-17-23h0m-28-22h0m-115 54h0m111-56h0m-59 66h0m-47 23h0m147-8h0m-93-56h0m14 3h0m13-30h0m75-14h0m-86 56h0m-7-29h0m53-8h0m-93 25h0m70 43h0m-56-13h0m12-42h0m30 13h0m78 32h0m-91 3h0m94-32h0m-103 21h0m35-23h0m-7 10h0m84 0h0m-79 10h0m88-75h0m-1-12h0m-45 67h0m54-19h0m-122-12h0m-37 55h0m52-55h0m45-9h0m-55 19h0m133 35h0m-123-71h0m35 44h0m7 14h0m-38 18h0m65-33h0m-78-8h0m62-30h0m-48 20h0m-66 52h0m78-31h0m45-54h0m-46 62h0m46-50h0m-1 40h0m43 21h0m-42 38h0m-46-71h0m-23-11h0m14-31h0m8 68h0m60-34h0m22-13h0m-97-20h0m-31 39h0m138 15h0m-150 27h0m88-39h0m15 152h0m-39-143h0m135 146h0m-149 6h0m112 55h0m-101 1h0m26 15h0m-14-194h0m32 218h0m-80-84h0m136-27h0m-3 137h0m-170-150h0m50-15h0m76-123h0m31 242h0m-74-2h0m83-22h0m-85-14h0m-4 84h0m8-54h0m37-40h0m107-14h0m-20 88h0m-7-96h0m-26 89h0m-105-47h0m33-29h0m97-67h0m-202-98h0m83 106h0m32 117h0m118-25h0m-88-101h0m60-117h0m-35 44h0m-77 201h0m49-135h0m-88 171h0m61-64h0m-91-86h0m136-85h0m94 7h0m-222 139h0m114 67h0m-57-91h0m9-35h0m-158 147h0m191-77h0m-59 9h0m41-31h0m75-158h0m-57 63h0m-90 92h0m33 101h0m-26-253h0m101 128h0m-56 138h0m-39-140h0m70 76h0m-45 59h0m186-138h0m-25-164h0m-31 170h0m-86 0h0m-52-90h0m120 90h0m-112-34h0m80 78h0m-78-109h0m121 173h0m-152 20h0m-10-33h0m9-102h0m98 82h0m35-122h0m-69 125h0m-51-60h0m-37 24h0m153 69h0m-88-100h0m1 43h0m-107 53h0m25-123h0m106 0h0m111 40h0m-6 122h0m-139-75h0m120-70h0m-81-22h0m-2 20h0m2 130h0m88-83h0m-80 69h0m-33-184h0m94 12h0m-12-3h0m60-7h0m-178-69h0m104 236h0m-63-309h0m10 213h0m-21 1h0m-95-26h0m96-14h0m51 170h0m22-214h0m-38 125h0m86 102h0m-126-77h0m91-126h0m-109-81h0m58 164h0m-33 53h0m-120-50h0m148-24h0m-36-64h0m-11 99h0m80-92h0m28-15h0m-11 139h0m-74-57h0m50 99h0m-122-57h0m40 35h0m142-56h0m-99 13h0m-192 56h0m237-58h0m-65-86h0m-146 26h0m191 43h0m-130-63h0m196-60h0m-151 19h0m30 167h0m77-257h0m58 138h0m-103-62h0m-38 49h0m-25 38h0m127 66h0m-126-23h0m69 62h0m-24-29h0m164-35h0m-215 23h0m19-68h0m67 68h0m-32 49h0m6-206h0m72 90h0m23-28h0m-44 93h0m-219-173h0m54 231h0m200-40h0m-28-96h0m-46 70h0m29 46h0m-42-135h0m-24 106h0m-74-159h0m84 67h0m10-203h0m-5 232h0m75-166h0m-73 236h0m54 69h0m38-216h0m-28 69h0m-85-50h0m15 0h0m95 119h0m26 3h0m-135 61h0m-3-145h0m33 48h0m91-62h0m-56 55h0m-109-102h0m70 144h0m37 7h0m-19-89h0m26-54h0m-120 65h0m-5-18h0m46-3h0m47-24h0m-26-88h0m39 80h0m17-188h0m-81 296h0m-111-58h0m171 45h0m-107 12h0m111-116h0m40 89h0m-49-38h0m36 52h0m40 35h0m-119-66h0m104-13h0m-36 85h0m-38-275h0m21 246h0m0-94h0m73 60h0m-124-56h0m66-36h0m65 207h0m3-44h0m-8-11h0m9-95h0m-84 123h0m-15 31h0m12-39h0m0-210h0m-100 47h0m-21 175h0m-84-155h0m36 177h0m-58-66h0m79-72h0m-4 135h0m-66 0h0m27-32h0m90-189h0m-101-49h0m-52 279h0m25-55h0m-9-179h0m105-25h0m-62 261h0m68-11h0m47-268h0m-134 240h0m82-238h0m-33 61h0m-14-40h0m-20 244h0m-35-123h0m2-19h0m8 81h0m-5 17h0m63-198h0m-26 121h0m101-46h0m-6 120h0m-110-174h0m-1-34h0m-40 138h0m65 15h0m-8-172h0m59 203h0m-26-33h0m59 53h0m-85-126h0m-2 21h0m4-76h0m106-43h0m-71 290h0m-63-100h0m22-116h0m-32-39h0m116 210h0m12-231h0m-39 86h0m-9 71h0m-116 62h0m154-74h0m-112 37h0m92-79h0m-6 5h0m-33 69h0m27-92h0m-9 70h0m-73 22h0m8 93h0m37-59h0m9-77h0m-54-105h0m127 122h0m-73-1h0m52-91h0m-115 184h0m52-57h0m66 80h0m7-268h0m-87 248h0m78-223h0m-119 40h0m-9 33h0m126 52h0m-63-136h0m43 114h0m-39 109h0m51-204h0m-15 69h0m-28-41h0m-27 32h0m2-101h0m-33 174h0m-26-124h0m119 30h0m-71-10h0m92-47h0m-35 242h0m-79-138h0m107 62h0m-76-181h0m13 102h0m48-23h0m-55 111h0m73-93h0m-77 71h0m97-122h0m9 164h0m-108-14h0m-8-188h0m77 98h0m-41 36h0m67 82h0m-157-51h0m78-41h0m68-15h0m-66 149h0m-6-125h0m13 105h0m29-27h0m-49-220h0m50 161h0m16 69h0m-117-173h0m-7 188h0m4-230h0m118 150h0m-126 37h0m118-63h0m-118 66h0m65-34h0m105 73h0m-23-211h0m-97 117h0m-11-80h0m7-3h0m99 95h0m-63-43h0m-83-36h0m147 157h0m-2-172h0m-118-65h0m61 102h0m-13 36h0m21-39h0m39-52h0m21 112h0m-156-76h0m87 30h0m6-27h0m-53 149h0m3-27h0m92-37h0m-62 107h0m-2-17h0m-70-140h0m105-122h0m40 8h0m-48 34h0m59 120h0m-22-20h0m-23 56h0m-68-147h0m98-20h0m14 19h0m-147-35h0m57 178h0m-205 21h0m150 43h0m35-2h0m-183 8h0m-51-45h0m21 8h0m116-10h0m-40 0h0m49-88h0m-95 114h0m-76 32h0m178-14h0m-97-67h0m-6 24h0m41 0h0m244-44h0m-164 44h0m-123 54h0m21-83h0m36 39h0m-215 16h0m87-37h0m134 41h0m-6-36h0m-15 19h0m-213-56h0m176 50h0m-33 49h0m39-24h0m-28-21h0m-112-15h0m67-3h0m189 35h0m0 23h0m-26 6h0m-133-8h0m25-51h0m100-13h0m-48 47h0m9-28h0m-144 15h0m186 29h0m-18 12h0m-143-44h0m116 41h0m-16-19h0m-203-21h0m404 10h0m-374-4h0m35-31h0m164 52h0m48-18h0m-162-12h0m103-7h0m-87-3h0m-72-25h0m122 25h0m34 13h0m-128-41h0m135 8h0m4-7h0m-25 38h0m74-12h0m-118 24h0m10-30h0m-6 39h0m48 9h0m139-28h0m-264 7h0m141-92h0m-35 29h0m89-1h0m30 93h0m-151-16h0m162-32h0m-132-9h0m101-61h0m23 46h0m-43-26h0m-161 40h0m153-39h0m-20 38h0m56 12h0m-66 5h0m113-7h0m-148 40h0m-71-18h0m-132-4h0m140-62h0m-67 102h0m160-102h0m120 31h0m-189 36h0m-66-71h0m180 1h0m22 62h0m-61 1h0m-7-41h0m-115 12h0m47 51h0m-23-47h0m116 40h0m-90-58h0m-58-21h0m186 104h0m63-23h0m-133 10h0m53-39h0m-229-44h0m64 83h0m186-42h0m-45 11h0m-32-19h0m-28 21h0m-155 21h0m157 16h0m92-7h0m-22-67h0m35 0h0m7 63h0m-198 19h0m27-74h0m-75 21h0m222-18h0m72 53h0m-207-74h0m-95 69h0m255-63h0m-78-121h0m-127 24h0m188 177h0m-243-71h0m130-127h0m-55 165h0m74-110h0m37 2h0m-66 31h0m130 53h0m-52 7h0m-28 3h0m-130-124h0m90 156h0m65-112h0m-196 39h0m221-83h0m-41 2h0m-128-27h0m-5 77h0m-33-17h0m227-27h0m-187 57h0m-63-42h0m85 30h0m171-28h0m-228 151h0m74-17h0m56-14h0m-97-147h0m133 75h0m-59 47h0m58-93h0m-67 3h0m30-7h0m42-51h0m17 123h0m-168-76h0m-59 72h0m205 30h0m-102 31h0m-91-118h0m157 91h0m42-70h0m50 81h0m-179-82h0m139-10h0m-186 123h0m104-83h0m41 90h0m-161-132h0m-20 17h0m131 103h0m49-64h0m-79-1h0m116-258h0m34-132h0m18 107h0m-38-83h0m76-4h0m-81-20h0m-51 7h0m103 98h0m-66-86h0m15 59h0m-64-52h0m63 63h0m7-9h0m-58-100h0m69 54h0m-19 18h0m26-13h0m42 27h0m-40 20h0m23-7h0m-123-35h0m159 37h0m-57 0h0m-53-39h0m0 63h0m44 21h0m6 4h0m-2-106h0m57 53h0m-25-5h0m-66-1h0m-35-47h0m10 23h0m-21 14h0m73 74h0m68-72h0m-42-6h0m-22 7h0m-41 4h0m-41 12h0m52-52h0m-3 56h0m-14-3h0m55 38h0m-73-58h0m71 56h0m-11-26h0m-77-46h0m139 10h0m22-15h0m-108-30h0m40 64h0m62-3h0m-101-55h0m7 82h0m37 9h0m5-44h0m-11 8h0m-86 53h0m76-95h0m0 46h0m27 40h0m-179-31h0m203-52h0m-151 43h0m98 2h0m-64-28h0m58 42h0m89-16h0m-125-92h0m75 77h0m-53-29h0m38-28h0m-28 66h0m8 41h0m-17-42h0m42-57h0m-51 56h0m56-30h0m-7 41h0m-102-64h0m2 56h0m73 20h0m28-44h0m11 47h0m-27-11h0m-78-4h0m11-54h0m30 46h0m14-16h0m-43 17h0m12-55h0m37 100h0m-22-88h0m80 97h0m-75-67h0m22 110h0m-3-68h0m14-98h0m-69 20h0m68 47h0m61-13h0m-66 12h0m-8 78h0m7-30h0m45-72h0m-27 8h0m-26 19h0m-4-22h0m69 7h0m-11 104h0m-5-29h0m53 3h0m23-113h0m17 65h0m-259-30h0m25 28h0m-7-44h0m125 52h0m-77-18h0m49 14h0m7-13h0m61-62h0m-95 78h0m6-31h0m-3 34h0m118-17h0m-106 24h0m2-103h0m36 70h0m-59 45h0m43-53h0m-155-52h0m153 72h0m30 15h0m-64-67h0m-44 51h0m-3 40h0m-13-115h0m79 1h0m128 35h0m-118 34h0m-53-69h0m-73 119h0m201 58h0m-173-72h0m101 13h0m-35-6h0m99-5h0m38-35h0m7-24h0m9-92h0m-116 88h0m-1 82h0m50-42h0m69-70h0m-176 134h0m80-161h0m1 40h0m79 104h0m-141 7h0m-20-17h0m99-47h0m-141-7h0m-60-12h0m30 80h0m62-164h0m109 126h0m-76 78h0m89-92h0m43-22h0m21 139h0m-38-96h0m39 9h0m-28 68h0m101 31h0m-89-26h0m90 7h0m-161-91h0m-1-3h0m57 67h0m21 1h0m-37-6h0m75 46h0m52-11h0m-136 3h0m45-22h0m-42-1h0m21-55h0m15 25h0m56 28h0m-47-16h0m19-5h0m58 1h0m-103-25h0m56 51h0m-6-15h0m-66-57h0m17 28h0m27 42h0m50 8h0m-97-77h0m33 63h0m122 51h0m-33 40h0m-170-101h0m137 68h0m-68-44h0m-17-42h0m9 65h0m-5-29h0m39-37h0m-6 42h0m-60-29h0m19-41h0m51 45h0m-59-73h0m40 80h0m-30-15h0m-70-27h0m125 55h0m-63-36h0m35 49h0m19-18h0m-71-13h0m138 19h0m-44 6h0m-24-63h0m122 37h0m-111-2h0m54 23h0m-83-4h0m41-19h0m2 32h0m31-16h0m-67-27h0m-58-6h0m64 69h0m-34-50h0m100 30h0m-72-25h0m-33-53h0m99 85h0m-57-74h0m-18 71h0m-55-93h0m114 129h0m53-40h0m-58-34h0m-9 8h0m235 202h0m67-144h0m-68-13h0m22 29h0m-25 171h0m39 53h0m-18-73h0m-17-56h0m39-73h0m21-4h0m17 71h0m-68-14h0m2 73h0m-32-82h0m14 127h0m-16-62h0m26-43h0m30 72h0m-42-132h0m1-29h0m37 125h0m37-147h0m-66 31h0m36 80h0m-18 122h0m25-8h0m30-166h0m-2 39h0m-89 142h0m5-251h0m19 76h0m68 163h0m-55-96h0m43 78h0m-20-82h0m-53-76h0m54 96h0m14 88h0m16-198h0m-88 197h0m49-200h0m12 21h0m-45 31h0m28 87h0m-45 18h0m55-76h0m5 92h0m-66-91h0m67 66h0m-3-149h0m31 170h0m-73-99h0m73-63h0m-6 7h0m-349-248h0m-79-18h0m137 69h0m-32 9h0m36-23h0m-140 16h0m204 2h0m6-38h0m-219 59h0m39-35h0m38-7h0m-8-20h0m-148 84h0m195-131h0m-109 27h0m16-49h0m129 144h0m-80-30h0m83-69h0m61-15h0m-176 46h0m179 16h0m-135-32h0m21 29h0m63 47h0m0-47h0m-87 54h0m35-56h0m156 55h0m-120-58h0m1204 51h0m-3-10h0m38-16h0m35 44h0m-87 9h0m112-45h0m-57-15h0m105 37h0m-57-17h0m6-16h0m19 57h0m-168-21h0m23 12h0m147 8h0m-138-70h0m104 48h0m-126-38h0m107-8h0m12 13h0m-90 18h0m66 30h0m-75-43h0m101 40h0m-6 21h0m-99-59h0m110-5h0m-121-3h0m147 60h0m6-52h0m-115 41h0m-63-11h0m110-46h0m-12 5h0m-82 31h0m96-15h0m47 17h0m14-42h0m-169 28h0m99-14h0m44-3h0m-84 26h0m95 29h0m-82-32h0m59-35h0m-39 54h0m-78-17h0m118-17h0m-133 45h0m169-31h0m-164-5h0m-9-10h0m172-15h0m-145 39h0m161-36h0m-158 59h0m60-42h0m-72-10h0m32 50h0m51 22h0m32-67h0m-33 43h0m64-59h0m-95 12h0m-20 22h0m144-15h0m-164 42h0m41-55h0m18 63h0m107-25h0m-61 33h0m82-57h0m-24 49h0m-140-45h0m26-2h0m1-24h0m-36 80h0m44-27h0m114 12h0m-154 16h0m116-17h0m20-50h0m-38 13h0m45-25h0m-73 21h0m68 1h0m6 50h0m-41-20h0m-31-19h0m-50 32h0m107 9h0m-137-53h0m9-24h0m131 13h0m-13-3h0m-67 20h0m-37 23h0m141-16h0m1 26h0m-141 14h0m63-76h0m3 72h0m-17-35h0m-24 40h0m60-67h0m-73 15h0m143 34h0m-222-11h0m96 13h0m-1-63h0m23 73h0m63-46h0m-136 38h0m139-52h0m-88 16h0m66 55h0m-122-63h0m31 43h0m-34-18h0m75 12h0m71-49h0m27 37h0m-36 32h0m-95 5h0m34-2h0m2 3h0m11-79h0m17 66h0m-49-20h0m-40-32h0m39 23h0m11-42h0m60 66h0m-115-49h0m67-8h0m21 72h0m-97-31h0m125 16h0m-2-4h0m-106 13h0m162-40h0m-36 24h0m-157-22h0m47 31h0m-22-57h0m-20 21h0m109-11h0m-109-8h0m37 28h0m-32-2h0m62 49h0m11-3h0m-4-74h0m29-6h0m-45 21h0m5 0h0m64 4h0m-29-38h0m67 72h0m-119-10h0m136-23h0m-117-10h0m29 36h0m-98-29h0m169 42h0m-62-11h0m-60 26h0m50-54h0m-88-28h0m171 68h0m-100-30h0m-28 40h0m-3-37h0m139 11h0m-109-31h0m-21 28h0m96-35h0m-100 13h0m-2 52h0m42-63h0m-49 54h0m-42-13h0m-3-46h0m141 49h0m-44 20h0m-28-73h0m76 67h0m-87-77h0m117 66h0m-67 23h0m27-35h0m-127-2h0m44 37h0m17-59h0m-43-16h0m108-5h0m-126-3h0m41 59h0m-70-21h0m91 26h0m33-34h0m74 15h0m-131-20h0m139 16h0m-186-38h0m58 51h0m97-18h0m-90 16h0m38 6h0m-39 23h0m50-64h0m-58-5h0m127 52h0m-28 3h0m-113-6h0m-13-15h0m-25 25h0m79-58h0m-81 48h0m102 15h0m3-48h0m45-33h0m-120 1h0m143 33h0m-35-18h0m1 39h0m-152-16h0m150-28h0m-16 7h0m-68 64h0m13-35h0m92 19h0m-85 10h0m-13 9h0m17-83h0m67 2h0m-17-9h0m74 49h0m-59-41h0m-25 25h0m-93 43h0m-52-33h0m103-1h0m61 26h0m-90 20h0m-38-79h0m152-2h0m-151 38h0m36-34h0m142 31h0m-34-22h0m30-3h0m-1 39h0m-67-8h0m54-9h0m-12 24h0m-14-45h0m-68 59h0m-72-14h0m94-27h0m-93-27h0m73 35h0m-49-12h0m69 39h0m8-60h0m72 21h0m-179 21h0m198-19h0m-101-8h0m-101-3h0m121 28h0m77 13h0m-141 26h0m65-41h0m55 13h0m-121-7h0m47-39h0m-11-9h0m79 55h0m-37 26h0m-152-50h0m159 2h0m-58 3h0m-105 35h0m17-63h0m135 32h0m9 49h0m63-10h0m-126 20h0m-39-64h0m113-3h0m-67-5h0m89-63h0m-6 106h0m-80-15h0m-54 16h0m242-61h0m-100 26h0m-104-13h0m9-23h0m-70 88h0m80-33h0m20-3h0m-111-42h0m130 58h0m-107-47h0m5 37h0m85-19h0m-60 9h0m41-32h0m18 2h0m37 39h0m-98-1h0m45-39h0m-59-29h0m-13 60h0m140-29h0m-62 29h0m37 3h0m27 10h0m-120-11h0m-95-17h0m142 22h0m-19 8h0m97-50h0m-112 33h0m62-4h0m21-39h0m-3 70h0m20-22h0m-81-1h0m10-60h0m-32 47h0m5-27h0m17 17h0m18 10h0m6 31h0m-2-18h0m-81-100h0m49 108h0m4-39h0m-54 46h0m42-20h0m100 9h0m67-20h0m-78 25h0m-96-20h0m5-32h0m52 8h0m83 1h0m-134 25h0m2-1h0m-5-45h0m-109 4h0m236 52h0m-82-27h0m-18 23h0m-74-33h0m30 62h0m-10-3h0m35 47h0m23-81h0m86 25h0m-25-58h0m12 82h0m-74-65h0m-59 46h0m83-31h0m-92 49h0m127-50h0m36-28h0m-36-1h0m32 22h0m-12-4h0m-49 46h0m-78-31h0m4 23h0m14-37h0m24 46h0m-50-36h0m42-15h0m-27 11h0m59-41h0m2 10h0m-13 104h0m-59-70h0m43 31h0m-13-83h0m-69 59h0m112 27h0m-47-12h0m-32 19h0m60-59h0m15 72h0m-62-89h0m-10 2h0m58 46h0m-7-5h0m81-15h0m-146-60h0m90 49h0m-30 32h0m43-59h0m-85 49h0m48 32h0m-21-96h0m100 13h0m-128 61h0m-6 63h0m78-59h0m-40 51h0m58-89h0m43-29h0m-110 60h0m43-38h0m87 73h0m-151-33h0m18-24h0m97 17h0m-66-1h0m-63 34h0m25 2h0m18-53h0m116 20h0m-127-22h0m74 72h0m1-68h0m-104-8h0m60 27h0m-32 31h0m-18-59h0m87 35h0m-53 15h0m-61 20h0m215 10h0m-124 0h0m-4-19h0m-15-34h0m43-58h0m-43 104h0m-163-40h0m230-2h0m-43 32h0m8-99h0m-77 48h0m66-4h0m-15 63h0m-170-15h0m232-17h0m-55-16h0m21 5h0m-65 16h0m-7-24h0m29-34h0m57 33h0m-106 0h0m-13 45h0m114 17h0m-65-39h0m-24-47h0m53 38h0m60-20h0m11 37h0m-118-34h0m-3 56h0m22-25h0m88-34h0m-84 18h0m-17-48h0m-12 48h0m69 43h0m-120-38h0m40 20h0m111-31h0m46-15h0m-120-20h0m-7 34h0m79 35h0m-56-60h0m-4 9h0m-8 1h0m-51 15h0m28-5h0m-69 13h0m156 20h0m-90-71h0m-59-2h0m52 35h0m-90 39h0m19-54h0m65 60h0m203-47h0m-168-2h0m6 9h0m212-36h0m-205 12h0m37 10h0m18-22h0m121 51h0m-307 20h0m103-74h0m72 26h0m23-2h0m14 28h0m-44 0h0m-57-20h0m65 42h0m-68 60h0m166-133h0m-48 42h0m-68-28h0m113-2h0m-137 4h0m159 79h0m-257-68h0m133 1h0m-57-25h0m48-1h0m46 138h0m-92-30h0m55-91h0m-253 3h0m32 74h0m56-43h0m-146 9h0m198 16h0m-120-105h0m-26 116h0m-35 36h0m26-98h0m-1 34h0m109-21h0m-192 22h0m159 71h0m-113-2h0m124-46h0m-100-59h0m-13 80h0m81 6h0m110-46h0m-128 84h0m-87-105h0m65 3h0m35-20h0m70-23h0m-136-14h0m-41 100h0m140-35h0m15 36h0m-98-29h0m65 91h0m-55-72h0m68 37h0m-9-7h0m-102-58h0m-60 9h0m457 99h0m42-160h0m131 96h0m-53-64h0m56 16h0m-13-14h0m-35 76h0m-47-31h0m-70 30h0m144-88h0m-32 104h0m-104 19h0m-234 122h0m2 0h0m76 15h0m-61 19h0m23 29h0m112-61h0m-126 0h0m118 60h0m-91 14h0m-6-56h0m38 12h0m-24 29h0m126-26h0m-209-6h0m228 0h0m-74 13h0m-63 2h0m-70-2h0m40 29h0m83-22h0m69-15h0m-228-15h0m186 39h0m-163-8h0m145 1h0m-203-19h0m97 14h0m4-42h0m107 14h0m38 2h0m-78 45h0m-138-7h0m81-50h0m8 29h0m7-34h0m34 16h0m143 7h0m-171-13h0m68 54h0m-81-7h0m-37-58h0m-75 30h0m266-22h0m-139 51h0m-53-55h0m78 24h0m-90 12h0m57-47h0m9 79h0m-45-29h0m130-47h0m-131 58h0m-90-30h0m35 9h0m125-31h0m97 26h0m-182-16h0m157-13h0m64 28h0m-111 41h0m31-25h0m9-28h0m-72-8h0m-19 8h0m47 2h0m-99 31h0m71-37h0m-122 25h0m124 19h0m-41-28h0m166-12h0m-204 48h0m114-55h0m63 32h0m-203-27h0m141-6h0m-49 47h0m-117-5h0m2-16h0m175 19h0m99-27h0m-171-1h0m87 33h0m-15-31h0m-26 10h0m136-4h0m-49-20h0m-31 42h0m43-40h0m-29 19h0m-152-10h0m156 43h0m14-16h0m-216-46h0m128 5h0m-74-10h0m-58 56h0m22 11h0m33 0h0m-8-52h0m29-23h0m13 33h0m-107 30h0m154-19h0m-107-19h0m231 8h0m-51 29h0m-83 10h0m-127-24h0m36-13h0m-24 28h0m122 6h0m18-16h0m-20-25h0m116 4h0m-264-3h0m193 54h0m-19-24h0m-64-18h0m100-13h0m-208 27h0m224-34h0m-40 58h0m-61-50h0m-15 41h0m59-55h0m-178 25h0m-18 2h0m126 43h0m0-10h0m118-23h0m-174-26h0m81 9h0m50 9h0m-104 10h0m32 20h0m133-22h0m-82-52h0m-63 23h0m76-18h0m-25 28h0m-17 2h0m-124 30h0m223-12h0m-219 0h0m244 6h0m-193 23h0m-9-31h0m42-25h0m123 28h0m-138-6h0m191 2h0m-5 0h0m-145-1h0m52-7h0m4 5h0m23 37h0m-19-13h0m-131-38h0m-4 29h0m97-8h0m-65-2h0m61-18h0m-54 37h0m-55-22h0m102 34h0m-106-8h0m75-27h0m-22-35h0m-62 13h0m181 25h0m-185 20h0m123-59h0m101 61h0m-4-53h0m-14 49h0m-42 5h0m-103-13h0m119 14h0m-38-51h0m-100 24h0m204-27h0m-62 39h0m-184 9h0m206-42h0m-214-3h0m216 17h0m14-28h0m-227 17h0m-11 37h0m6-8h0m-2-38h0m185 57h0m-81-39h0m-121-9h0m67 40h0m152 0h0m-59-8h0m-129-28h0m53-10h0m143-6h0m-133 6h0m172 32h0m-122-23h0m-10 17h0m132-28h0m-193-14h0m78 60h0m-111-30h0m267 4h0m-195 33h0m163-42h0m-245 23h0m197 26h0m-26-55h0m-46-2h0m-22 16h0m153 1h0m-1 15h0m-16-21h0m-8 37h0m-151 1h0m-52-7h0m82-31h0m-87 35h0m171-64h0m-114 29h0m64 43h0m118-23h0m-185-47h0m-95 37h0m165-7h0m127-3h0m-202 1h0m77 11h0m-53-26h0m-35 21h0m42 44h0m37-69h0m-69 51h0m174-49h0m-35 19h0m-78 8h0m42 14h0m-92 21h0m140-56h0m-241 23h0m188-30h0m-195 24h0m186-19h0m-57-4h0m-84-5h0m202 25h0m-32-10h0m29 23h0m-49-19h0m-29-18h0m-10 40h0m-138-27h0m42 46h0m-70-36h0m274 30h0m-48-43h0m-156 36h0m22 2h0m16 3h0m71 5h0m-9-38h0m72-7h0m-179 43h0m109-3h0m-19-65h0m90 17h0m-164 40h0m162-3h0m-103 9h0m72-47h0m-43 35h0m62-36h0m-134 13h0m-68 0h0m202 21h0m-178 14h0m-18 2h0m44-22h0m5 34h0m214-54h0m-60 37h0m-60-40h0m-77-5h0m35 63h0m150-56h0m-220-14h0m50 0h0m-60 12h0m127 17h0m-87 7h0m150 18h0m-138 18h0m143-32h0m-101-21h0m43-21h0m-119 39h0m191-16h0m-108 28h0m-97-4h0m74 32h0m-76-24h0m109-48h0m85-7h0m-55 68h0m-158-57h0m204 22h0m53-12h0m-171 56h0m-17 1h0m175-69h0m-110 67h0m73-18h0m-56-58h0m59 56h0m-149-3h0m29 6h0m-8 4h0m28 1h0m-55-24h0m-88-5h0m209-6h0m8 27h0m-31-64h0m102 38h0m-106 34h0m105-49h0m-228-11h0m220 47h0m-100-48h0m-55 73h0m137-19h0m-255-3h0m144-19h0m-112 2h0m211-34h0m23 26h0m-195-16h0m62 36h0m35 22h0m-18-34h0m-64-35h0m34-8h0m161 41h0m-14 19h0m-47 5h0m-137-2h0m-31-16h0m125 20h0m-137-39h0m210 41h0m-197-62h0m165 57h0m-25 3h0m-42-19h0m130 7h0m-85-5h0m-52 15h0m25-56h0m-47 26h0m2 12h0m-22-15h0m21-2h0m-11 7h0m63-7h0m-98 9h0m13-37h0m-27 18h0m146 49h0m-73-37h0m-75 37h0m-38-19h0m110-40h0m-128 53h0m194-23h0m-16-34h0m-9 29h0m-108 46h0m154-73h0m-161 20h0m110-2h0m-42 44h0m-83-8h0m48 20h0m199-56h0m-111-19h0m-63 46h0m73-25h0m-25-16h0m-81 41h0m190-10h0m-207 7h0m7 17h0m-38-46h0m90 58h0m-87-65h0m-11 2h0m64 17h0m137 0h0m-91 0h0m96 45h0m-112 2h0m32-22h0m-46-37h0m-7 39h0m32-16h0m-81-31h0m42 45h0m66-61h0m53 39h0m-205-16h0m46 51h0m108-45h0m-96-3h0m10 5h0m163 40h0m-30 9h0m-14-70h0m-126 38h0m180 5h0m-125-31h0m-29-18h0m100 28h0m75-5h0m-78 34h0m-116-36h0m-76 30h0m98-38h0m28 67h0m-61-69h0m122 44h0m-38-43h0m-107 6h0m108 21h0m13 22h0m109-23h0m-240 12h0m204-42h0m-156 65h0m127-67h0m-1 61h0m-89-57h0m80 15h0m-168-14h0m79 38h0m-48 15h0m-1-32h0m99-2h0m-113 68h0m234-104h0m-122 12h0m16 0h0m24 49h0m99 19h0m-190-7h0m0-29h0m-4-45h0m97-7h0m-74 69h0m31-57h0m-67 62h0m154 24h0m-257-30h0m118 8h0m-106-25h0m210-14h0m-94-9h0m130-9h0m-178 27h0m52 67h0m52-81h0m27 32h0m-26-11h0m16-30h0m-147 20h0m9 31h0m268 15h0m-132-25h0m-99-44h0m108-5h0m-21 36h0m39 5h0m-57-17h0m-160 7h0m212 38h0m60-56h0m-203 46h0m42 51h0m68-111h0m-77 84h0m-111-39h0m38 40h0m83-72h0m-111 9h0m-75 6h0m417 16h0m-215-35h0m53 19h0m-105 51h0m114-62h0m91 23h0m-86 5h0m60 13h0m-135 3h0m-3-16h0m178-33h0m-235 18h0m47 47h0m-96 27h0m279-75h0m-123 2h0m43 28h0m7 3h0m104-26h0m-108 0h0m-59 11h0m-8 3h0m-70-13h0m22-28h0m-9 18h0m49-29h0m-10 12h0m-49 36h0m170 3h0m-141-20h0m161-32h0m-18 3h0m-156 42h0m37 44h0m63-46h0m40 2h0m-155 30h0m203 4h0m-235 17h0m66-31h0m142 44h0m-247-93h0m246 42h0m-131-94h0m66 75h0m-269 78h0m10-88h0m220 21h0m66-13h0m-145-3h0m-106-21h0m359 12h0m-181 71h0m100-49h0m-28-10h0m-145 34h0m92 17h0m-35-54h0m53 5h0m-57-19h0m49 33h0m139-10h0m-316 14h0m357-25h0m-273 7h0m-181-4h0m235-32h0m68 17h0m-214 4h0m219 73h0m54-48h0m-155-12h0m130-7h0m-48 40h0m-117-42h0m120 16h0m-51-14h0m5 65h0m126-95h0m-116 47h0m-1-41h0m-14 42h0m-49 5h0m-155-50h0m224 52h0m-24-24h0m31 43h0m63-32h0m-120 31h0m89-5h0m-72-48h0m41 7h0m85 40h0m-295-5h0m311 10h0m-160-52h0m128 52h0m-81-60h0m-140 39h0m62-26h0m112 48h0m-221-47h0m297 17h0m-145 19h0m-71-52h0m103 77h0m88-43h0m-1-11h0m-193-35h0m128 71h0m9-26h0m-68 31h0m31-69h0m125 21h0m-86 18h0m58 7h0m15-1h0m-149-20h0m99-9h0m24 16h0m-164-17h0m69 73h0m81-48h0m-148 51h0m55-52h0m-12 37h0m53-50h0m0-14h0m-109 23h0m-161 36h0m430-62h0m-189-13h0m28 49h0m50-43h0m-118 19h0m31 81h0m4-64h0m-27 23h0m272 10h0m-92-61h0m-41 30h0m17 28h0m-53-75h0m-46 32h0m28 15h0m53-45h0m-158 42h0m93-9h0m-31 13h0m96-5h0m-72-47h0m-253 10h0m264-23h0m4 60h0m-36-17h0m-37 43h0m69-24h0m-75 7h0m148-7h0m-137-31h0m41 7h0m-136 49h0m72-80h0m-9 107h0m55-87h0m-89 56h0m134-14h0m-53 7h0m153 0h0m-151-51h0m54 81h0m18-78h0m-41 71h0m-72-22h0m163 31h0m-248-93h0m174 67h0m-64-20h0m-5 34h0m-160-26h0m83-26h0m-23-6h0m134 26h0m160-7h0m-127 16h0m-8 30h0m-11-36h0m-22-4h0m5 27h0m7-25h0m-6 19h0m-38 5h0m-9-7h0m221-13h0m-178-39h0m74 33h0m15-18h0m-35 68h0m-10-59h0m-152 9h0m174 17h0m-157-45h0m12 0h0m63 35h0m195-2h0m-42-51h0m8 68h0m-98 1h0m16 30h0m17-101h0m-227 93h0m148-8h0m-23-55h0m0 27h0m47-26h0m31 34h0m-130-48h0m-92 23h0m175-11h0m-55 15h0m57 20h0m71-4h0m25-39h0m-45 37h0m-147-29h0m132 21h0m-151-17h0m248 38h0m-129 14h0m-88-42h0m166-4h0m-184 25h0m241-86h0m-128 35h0m-41-4h0m258 20h0m-227-1h0m-92 7h0m106 61h0m8-5h0m-121-41h0m56-45h0m371 36h0m-310-14h0m-73-8h0m142 18h0m-104 16h0m-96 1h0m94 6h0m-79-6h0m80 31h0m-107 0h0m-27-38h0m100 11h0m-234-37h0m206 62h0m-47 19h0m-97-46h0m208-2h0m-25 29h0m-95-11h0m167-27h0m-301-31h0m130 4h0m114 9h0m183 45h0m-337-28h0m252 31h0m-227 12h0m49 38h0m-7-53h0m99-33h0m-64 52h0m58-40h0m-4 59h0m43-41h0m-54-67h0m-17 35h0m53-4h0m-25-14h0m40 10h0m-83 43h0m-26-19h0m123 58h0m-255-87h0m221 60h0m-102-28h0m25 71h0m-1-113h0m-120-3h0m254 29h0m57 34h0m-139 0h0m36 9h0m-157-48h0m38 21h0m27-43h0m-40 98h0m251-86h0m-155 27h0m-109 24h0m69 31h0m47-64h0m-276 7h0m310-20h0m4 45h0m-236-28h0m186 31h0m-15-25h0m-45-9h0m31-26h0m57 24h0m-11-6h0m-9 21h0m42 11h0m4-20h0m-88-4h0m-107 5h0m209 29h0m-173-15h0m143-54h0m-36 55h0m36-3h0m-222-74h0m331 53h0m-63 54h0m-105-78h0m114 36h0m-76 17h0m311 3h0m55 33h0m-40 1h0m-17-10h0m87-30h0m-32 7h0m18-13h0m-72-38h0m59-19h0m-60 23h0m76 38h0m-49 54h0m25-94h0m-2 80h0m-21-55h0m23 72h0m6-104h0m-6 18h0m-12 51h0m-50-27h0m33 12h0m55-17h0m-21-23h0m-41 28h0m31-37h0m25 36h0m-45-32h0m-31 49h0m67-38h0m-26 45h0m-31-42h0m69 41h0m-23-75h0m-40 20h0m-21 50h0m60 37h0m-2-1h0m-9-52h0m-21-7h0m72 3h0m-81 18h0m34-19h0m21 16h0m-5-13h0m-68-6h0m88 19h0m8-7h0m-82 21h0m53 13h0m-61-45h0m79-16h0m-82 28h0m98 8h0m-42-56h0m-26-5h0m14-13h0m21 78h0m28 16h0m-40 22h0m-6-111h0m23 12h0m31 47h0m-9-6h0m-63 22h0m42-26h0m-48-5h0m49-25h0m-62 33h0m55-54h0m-43 91h0m5-89h0m19 102h0m24-32h0m-24 5h0m4-62h0m20-7h0m-43 94h0m29-45h0m15-2h0m-36 8h0m58 13h0m-83 26h0m14-6h0m41-26h0m10-44h0m10 36h0m-9 38h0m-55-56h0m12-43h0m56 79h0m-42-18h0m-15 18h0m20-24h0m-31-36h0m46 15h0m-17-30h0m-17-4h0m15 114h0m29-77h0m-54 74h0m75-37h0m-62-29h0m24 13h0m19 16h0m-14-74h0m-32 51h0m30-53h0m-8 88h0m-45 3h0m62-28h0m12 34h0m-22-18h0m-49-43h0m16 68h0m50-74h0m-79 5h0m32 7h0m55 19h0m-25-12h0m-18 67h0m-20-56h0m22-50h0m-37 48h0m72-10h0m-83 28h0m11-50h0m30 64h0m2-44h0m-4 14h0m-23-51h0m39 29h0m14 1h0m28-8h0m-54 2h0m11-4h0m15 17h0m4-16h0m-28 34h0m29 13h0m-32-74h0m-27 13h0m53 20h0m27-14h0m-73-6h0m-11 65h0m48-56h0m25 55h0m-42-9h0m25-22h0m-62-10h0m94 2h0m-34-38h0m15 101h0m-44-64h0m15-15h0m-33-16h0m53 49h0m20 14h0m-28-23h0m-21-38h0m13 17h0m3 78h0m-31-39h0m-2 33h0m-7-24h0m38-42h0m-52 21h0m49 43h0m-36-82h0m12 80h0m-8-22h0m52-17h0m-66-4h0m91-10h0m-42 4h0m-5-49h0m41 69h0m-59-38h0m55 12h0m-27 23h0m15-51h0m-19-19h0m10 78h0m-15-78h0m48 62h0m-13-2h0m-68-9h0m-16 23h0m16 15h0m-5-1h0m49 3h0m37-55h0m-30 14h0m9 26h0m-55 40h0m8-11h0m38 2h0m13-50h0m-45 44h0m29-33h0m-71-10h0m24-43h0m58 71h0m-38-10h0m16 45h0m-5-53h0m-5-16h0m25-40h0m0 107h0m8-50h0m-45-58h0m-29 57h0m10 27h0m69-35h0m5-38h0m-57 43h0m43-9h0m-47 55h0m10-58h0m-18 8h0m53-16h0m-5 17h0m-41 7h0m-15 40h0m40-106h0m-27 61h0m-11-26h0m81 18h0m-74 20h0m-14-10h0m59-56h0m-11 28h0m22 40h0m18-1h0m-80-55h0m57 81h0m-70-51h0m24 7h0m65 12h0m-14 26h0m-51-19h0m10-18h0m17 25h0m-39 22h0m-1-68h0m22 83h0m44-103h0m-70 25h0m-5 15h0m29 35h0m-59-26h0m88-25h0m45-22h0m-89 23h0m47 50h0m-9-5h0m-24-49h0m24-29h0m2 37h0m14-24h0m-35 17h0m5-17h0m3-13h0m23 78h0m-16-33h0m-25-30h0m19 2h0m-28 42h0m34-23h0m-23 14h0m3-14h0m26 44h0m17-51h0m13-22h0m-41 95h0m75-45h0m-80-19h0m-25 8h0m23-23h0m47-1h0m15 63h0m-31-56h0m-33-54h0m22 67h0m4-16h0m3-32h0m-78 76h0m95-140h0m6 109h0m-42-46h0m-25 87h0m8-29h0m17 78h0m30-128h0m-39 7h0m-27 18h0m72 28h0m-12-7h0m-32 8h0m10 72h0m55-60h0m-35-92h0m-41 109h0m59-47h0m-42-3h0m30 19h0m20 45h0m-53-70h0m3-10h0m-6 31h0m38-58h0m-66 31h0m32 48h0m-14 40h0m7-66h0m17 53h0m7-44h0m-24 6h0m27-20h0m-12-58h0m-15 117h0m57-49h0m-104 74h0m50-32h0m-5 14h0m51-94h0m-40-6h0m14 32h0m-51-26h0m50-18h0m25 76h0m-37 37h0m-21-27h0m-13-40h0m58-8h0m-22 46h0m47 26h0m-30-61h0m-55 77h0m96-151h0m-30 82h0m-4 14h0m-26-12h0m4 45h0m-6-66h0m26 46h0m-6-14h0m30 32h0m-37-51h0m13-65h0m-34 46h0m20 12h0m66 44h0m-71-41h0m36 44h0m-9 15h0m-37-73h0m-10 30h0m49-45h0m-44-11h0m73 83h0m-51-78h0m-36 22h0m30-24h0m-7 96h0m7-43h0m-61-15h0m56-16h0m-36 24h0m11-18h0m-17 17h0m73-29h0m-17-26h0m7 80h0m-28 13h0m-14-32h0m74-3h0m-81 46h0m48-56h0m-68-62h0m8 131h0m53-91h0m24 90h0m-57-38h0m-23-4h0m100-70h0m-51 30h0m-4 28h0m10 32h0m7 6h0m15 2h0m-49-27h0m9-49h0m67 44h0m-55-93h0m-17 120h0m2-65h0m72 12h0m-78 10h0m4 56h0m35-54h0m-40-8h0m88-4h0m-44-62h0m-15 111h0m41-19h0m-30 1h0m-16-56h0m17 35h0m2 43h0m-21-59h0m7-40h0m-2 18h0m8 49h0m-29-65h0m12 26h0m-9 67h0m47-97h0m0 129h0m8-52h0m-52 71h0m-10-159h0m17 88h0m-48-73h0m130 65h0m-52-34h0m-99 19h0m123-24h0m-135 25h0m65 9h0m-32-16h0m21 58h0m30 0h0m-9-147h0m991 112h0m-83-46h0m155 37h0m-89-85h0m143 61h0m-77-37h0m-135 32h0m73 45h0m65-19h0m-24-1h0m3-21h0m31 18h0m-9-66h0m-45 72h0m38 19h0m-138-19h0m112-98h0m-29 84h0m22 17h0m108-63h0m-183-28h0m3 39h0m122 72h0m-37 2h0m-33-41h0m95-76h0m-127 58h0m56-70h0m-103 91h0m73-82h0m19 39h0m18 82h0m56-118h0m-59 34h0m16-14h0m-42 38h0m-14 5h0m-72-20h0m224-3h0m-121 49h0m77-2h0m-108-3h0m-45-14h0m-6-37h0m110 69h0m81-55h0m-40 28h0m-1-70h0m-173 52h0m131 23h0m-107-16h0m123-18h0m-63 3h0m-35-41h0m155 27h0m-6 28h0m-41-16h0m-117 16h0m17 37h0m-67-27h0m74-30h0m51 79h0m-4-59h0m-83 31h0m72-3h0m109-20h0m-56-10h0m-141-13h0m212-11h0m-211 8h0m-19 24h0m42-55h0m102 100h0m-13-62h0m-41-66h0m-17 71h0m-3 45h0m118-7h0m-80-41h0m0-7h0m-22 6h0m-75 36h0m104-82h0m-82 44h0m19 44h0m17 19h0m-7-11h0m-51-25h0m95-63h0m-91 3h0m154 47h0m-151-41h0m156 26h0m-137-30h0m-4 52h0m101-15h0m44 1h0m-114 20h0m43-74h0m65 40h0m23 34h0m30-13h0m-91 55h0m52-89h0m32 46h0m4-8h0m-51-2h0m0-20h0m-155 15h0m35-41h0m153 50h0m-32 27h0m-78-51h0m-1-13h0m87 74h0m-120-24h0m96 9h0m9-64h0m10 73h0m-81-80h0m-15 36h0m38-33h0m-117 47h0m164 9h0m-80 23h0m-94-42h0m126-46h0m0-31h0m33 70h0m-29 47h0m25 14h0m10-4h0m-90 1h0m109-74h0m-58 55h0m-117-35h0m128 26h0m-56-16h0m98-32h0m-14 73h0m-78-52h0m29 43h0m-54-77h0m31 51h0m28 11h0m-23-98h0m-7 76h0m51-16h0m-63 27h0m-40-23h0m24 11h0m104-6h0m16 14h0m-167 5h0m100 14h0m113-57h0m-21-17h0m-7 30h0m-92 8h0m-21-38h0m80 56h0m60-48h0m-160 41h0m20 52h0m-37-109h0m55 16h0m58 84h0m-141-81h0m5 17h0m58 42h0m14-12h0m-72-5h0m2-62h0m190 75h0m-70-95h0m29 108h0m-29-60h0m-73 63h0m160-63h0m-135 11h0m-29 39h0m168-35h0m-32-10h0m-108 56h0m70 4h0m-43-62h0m-131 20h0m88 36h0m78-16h0m-46-81h0m86 94h0m-89-28h0m82-10h0m-82-1h0m65 35h0m-100 6h0m10-15h0m0 32h0m1-77h0m13 36h0m-100-9h0m215 4h0m-43 25h0m-75-88h0m75 13h0m-55 42h0m-34-3h0m23 68h0m43 0h0m36-84h0m-44 26h0m36-37h0m-16 10h0m27 17h0m28 4h0m-62 43h0m61-62h0m24 1h0m-65 61h0m-91-57h0m1-11h0m11 71h0m95-41h0m-37-36h0m30 80h0m-96-52h0m-40-35h0m158 55h0m-101 0h0m-23-9h0m-43-5h0m35-39h0m104 14h0m1 54h0m-92-101h0m117 73h0m-66 19h0m-8 31h0m17-70h0m-5-56h0m7 57h0m-13 58h0m-65-81h0m-11 39h0m5-22h0m88-2h0m7-29h0m-156 60h0m170-62h0m-169 75h0m161-72h0m-71-14h0m-80 41h0m166 40h0m-42-17h0m18-2h0m-65 47h0m-24-60h0m95 78h0m-84-74h0m14-32h0m-11 82h0m-42-44h0m24 14h0m122-65h0m-71 10h0m40 69h0m-107-63h0m21 14h0m122 9h0m-84-27h0m1 105h0m-92-78h0m26 63h0m26-50h0m-62 29h0m116 15h0m51-8h0m-114-69h0m83-28h0m85 94h0m-111-50h0m-104 27h0m174-62h0m-168 80h0m92 15h0m-14 27h0m115-93h0m-84 37h0m-21 33h0m63 0h0m-113-44h0m73 11h0m-24-60h0m102 56h0m-29 26h0m-29 24h0m-142-81h0m27 42h0m-7-65h0m101 40h0m-19-62h0m16 33h0m-94 21h0m4 9h0m-1 38h0m178-58h0m-198 46h0m168-23h0m-9 59h0m-71-55h0m103-19h0m-161-33h0m181 23h0m-144 93h0m85-75h0m-147-10h0m47 82h0m32 3h0m92-53h0m-126 34h0m36 21h0m33-6h0m93-79h0m-60 49h0m-1 5h0m-155-31h0m166-16h0m-137 0h0m106 61h0m71-76h0m-51 46h0m29 23h0m-45 1h0m11-102h0m-125 77h0m35 41h0m-7-63h0m56 64h0m-50-7h0m105-45h0m6-4h0m-24-60h0m-2 33h0m-64 66h0m113-10h0m-98-30h0m40-64h0m-123 81h0m20 13h0m123-82h0m28 43h0m-26-54h0m-81 87h0m-2-76h0m23-3h0m5-6h0m63 16h0m-24 60h0m-108-2h0m87-2h0m-91-19h0m163 20h0m-148-40h0m59 25h0m-6-31h0m-1-34h0m77 21h0m-111-17h0m0 62h0m109-2h0m-46-65h0m-108 88h0m105-11h0m-109-36h0m62 56h0m104-6h0m-151-32h0m42 21h0m86-21h0m-41 53h0m-108-34h0m55 22h0m100-48h0m-141 49h0m137-28h0m-114 18h0m141-60h0m24 7h0m13 38h0m-44-30h0m-80 30h0m86-24h0m24-28h0m-95-10h0m-87 21h0m-31 39h0m143-25h0m44 21h0m-28-64h0m-131 107h0m-6-36h0m60 11h0m124 22h0m-118 22h0m91-99h0m-109 34h0m141 21h0m-75-37h0m-53 0h0m84 5h0m-1 61h0m26-66h0m-97 27h0m-35 39h0m116-87h0m-87 22h0m76-18h0m-88 31h0m-30-11h0m128 11h0m-173-22h0m129-17h0m-46 46h0m-6-52h0m47 50h0m-36 12h0m119-43h0m-1 39h0m-31-29h0m-108 42h0m61 31h0m-102-80h0m133 79h0m-56-17h0m-90-20h0m55 7h0m-8-71h0m-7 75h0m111 27h0m-75-119h0m99 27h0m-23 32h0m-68-64h0m-54 101h0m58 18h0m87-48h0m-102 0h0m-63 6h0m31-28h0m48-12h0m-73 52h0m114-82h0m-101 28h0m35 30h0m53 18h0m-80-37h0m47 74h0m83-57h0m-177-17h0m187 11h0m-106 28h0m-88 2h0m161-75h0m-67 104h0m-38-46h0m20 3h0m12-29h0m133 49h0m-114-46h0m100 0h0m-47-26h0m-34 13h0m92 13h0m10 28h0m-153-2h0m148 20h0m-27-18h0m-51-59h0m53 70h0m-46-47h0m29 31h0m2 21h0m17 2h0m-114 37h0m130-40h0m-117-24h0m99 13h0m-92 30h0m-111-57h0m58 29h0m26 0h0m135-28h0m-15 9h0m-99-62h0m-30 62h0m63-35h0m18 58h0m-87-75h0m-2 16h0m-3 74h0m134 7h0m-197-29h0m207 7h0m-62-29h0m55 15h0m-118-6h0m30-43h0m50 91h0m-67-10h0m-68-36h0m138 4h0m5-52h0m-26 50h0m31-57h0m37 10h0m-38 27h0m-5 45h0m-73 35h0m8-68h0m69-44h0m45 26h0m-193 36h0m29-21h0m-10 39h0m134-5h0m-38-85h0m33 66h0m-15 39h0m-37-75h0m-112 57h0m151-9h0m-38-25h0m102-11h0m-40 72h0m56-64h0m-207 8h0m84-15h0m74-19h0m-126 81h0m-13-15h0m10-44h0m49-22h0m-111 27h0m179 15h0m-14-40h0m-71-28h0m-2 96h0m-19-79h0m56 99h0m26-110h0m-53 17h0m95 27h0m-92 64h0m-37-60h0m61 28h0m-51-3h0m21 28h0m34-14h0m4-4h0m-46-77h0m-6 25h0m40 21h0m45-58h0m-145 91h0m96 35h0m88-78h0m-129 4h0m106 4h0m-5 7h0m-1-3h0m-41-10h0m-3 19h0m-116 1h0m168-43h0m-16 3h0m-29 70h0m-18-75h0m-54 44h0m108-53h0m-26 31h0m32 46h0m-99-19h0m-56 2h0m126-52h0m5-14h0m76 58h0m-12 17h0m-177 9h0m100-50h0m19 53h0m-3-75h0m-61 99h0m-61-96h0m74-14h0m-63 83h0m-54-17h0m97 13h0m-37-32h0m151-16h0m-142 120h0m-14-60h0m106-5h0m47-95h0m-29-32h0m-61 106h0m66 33h0m-133-60h0m52-19h0m-45 2h0m134 89h0m-27 14h0m-45-122h0m-50 57h0m114 44h0m-131-11h0m25-16h0m99 39h0m-99-54h0m65-30h0m-23 45h0m-118-55h0m269 49h0m-195-101h0m-27 104h0m111-3h0m-6-47h0m69-23h0m-74 38h0m-151 52h0m97-9h0m106-24h0m-132-17h0m40 74h0m63 6h0m-6-104h0m11 77h0m-71-23h0m-14-76h0m16 90h0m-19-133h0m-29 147h0m69 1h0m-66-68h0m-17-15h0m103 40h0m-68 7h0m-56-30h0m-13-49h0m9 17h0m200 110h0m-21-87h0m-44-24h0m-79 61h0m-72-2h0m151-101h0m-208 80h0m158 18h0m-69 19h0m85-57h0m104 43h0m-62 71h0m-84-92h0m-84 0h0m148 121h0m8-102h0m-124-47h0m-40-23h0m133 74h0m-69-23h0m7 37h0m98-52h0m-74-29h0m-1 151h0m31-59h0m40 27h0m-61-105h0m93 81h0m-116 8h0m44-51h0m126 26h0m-104-38h0m-8 61h0m18-81h0m-1 29h0m-9-4h0m-170-63h0m123-26h0m-77 188h0m150-111h0m-25-79h0m-5 144h0m-4-102h0m53 34h0m-105 33h0m18 82h0m11 5h0m41-151h0m-31 57h0m98 55h0m76-87h0m-204 134h0m-31-88h0m171-61h0m-134 12h0m60 51h0m-39 11h0m-51-46h0m86 107h0m-35-87h0m93 0h0m-1 8h0m-10-3h0m-142-46h0m92 122h0m98-98h0m44-36h0m-229 92h0m-46-1h0m130-13h0m-109-11h0m147-19h0m6 3h0m-47-15h0m-116 7h0m127-27h0m-168-35h0m224 59h0m-143 65h0m41-122h0m-18 27h0m17-1h0m18 62h0m-44-30h0m28 46h0m-38-3h0m135-43h0m-152-5h0m-56-10h0m40 16h0m56 31h0m34-4h0m-11-6h0m-75 17h0m167 20h0m-181-31h0m-20 15h0m98-55h0m-37 10h0m51-32h0m4 55h0m32-14h0m-36 106h0m69-89h0m-164 13h0m134-147h0m-50 136h0m14-13h0m-14 58h0m37-75h0m-42 107h0m-43-118h0m81 31h0m-1 54h0m57-42h0m-75-22h0m-19 48h0m-71-92h0m56 4h0m-20 97h0m-104-28h0m65-37h0m51-34h0m-63 48h0m-102-98h0m177 144h0m155-62h0m-183 0h0m87 55h0m-98-21h0m64 30h0m-26-60h0m-31-51h0m78 92h0m59-20h0m-110-53h0m-48 8h0m103 37h0m-181-9h0m138-42h0m19 71h0m-70-85h0m49 73h0m4 58h0m28-115h0m44 16h0m-6 33h0m37-49h0m-35 64h0m-112 13h0m219-16h0m-210-23h0m143 19h0m13-41h0m-12-42h0m-102 58h0m-23 68h0m-7-39h0m170 21h0m-157-70h0m-111 50h0m201 33h0m-45 47h0m37-201h0m-115 140h0m34 2h0m205-72h0m-24 30h0m-256 8h0m165-30h0m47-13h0m-123 81h0m-1-67h0m13 55h0m122 31h0m10-62h0m-246-1h0m87-43h0m-7 42h0m39 44h0m-67 11h0m67-19h0m83-89h0m25 24h0m-84 81h0m37-119h0m-53 121h0m-20-55h0m14 78h0m-43-116h0m-39 18h0m60 40h0m11-93h0m-104 108h0m160-92h0m15-49h0m97 137h0m-278-4h0m113-43h0m-23 10h0m-179 29h0m-23 34h0m54-44h0m-51 67h0m61 2h0m-104-62h0m-40-21h0m89 21h0m-35 8h0m45 35h0m37-59h0m46 32h0m-124 7h0m30-31h0m98 19h0m-108 25h0m114-1h0m-129-1h0m100-1h0m-23-20h0m-36-28h0m-32 13h0m36 60h0m-113-64h0m66 28h0m105-16h0m-97 46h0m58-16h0m23-29h0m-31 2h0m511-52h0m30 51h0m-37-30h0m-16-25h0m43 15h0m-53 10h0m32 84h0m-6-82h0m6 0h0m-21-35h0m23 69h0m-33-23h0m6 17h0m15 9h0m39-36h0m-36-46h0m-15 76h0m54-68h0m-40 56h0m28-29h0m-28 55h0m11-40h0m7-45h0m-9 25h0m-27 32h0m48 1h0m-18 20h0m-7 43h0m13-40h0m-17-41h0m-3-22h0m40 87h0m-46-42h0m16-61h0m25 56h0m15-37h0m-71 76h0m0-17h0m6 3h0m62-27h0m-37 64h0m30-104h0m-7 22h0m-22-10h0m-22-2h0m5-16h0m54 27h0m-29 61h0m11-92h0m15 24h0m-1 44h0m-72-37h0m60 23h0m-32 51h0m-23-57h0m32-60h0m17 100h0m-37-76h0m49 40h0m16-35h0m-59 24h0m54 50h0m-45-20h0m-2-4h0m44-63h0m-70 14h0m45 52h0m-26-20h0m4 9h0m-20 6h0m9-9h0m-2-16h0m7 28h0m46 28h0m18-54h0m-39-15h0m-23 22h0m41-26h0m-13-8h0m11 32h0m-37-6h0m8 31h0m3-12h0m15-70h0m-8 93h0m25-2h0m-10-85h0m-24 53h0m-28 8h0m15-56h0m62 64h0m-20-2h0m-15 37h0m-45-69h0m14 31h0m15 45h0m-14-91h0m62 63h0m-44-49h0m27-31h0m-1 11h0m-39 80h0m26-77h0m10 23h0m3-24h0m-27 62h0m-5-60h0m14 97h0m-38-98h0m34 103h0m15-119h0m-39 0h0m26 120h0m42-88h0m-6 45h0m-35-24h0m-30-4h0m52 10h0m20-3h0m-22 9h0m13-37h0m-37 67h0m-19-62h0m53 39h0m-32-89h0m25 56h0m-48-4h0m-9 64h0m49-95h0m-48 1h0m12 63h0m14-63h0m-30 49h0m22-3h0m-21-20h0m35-38h0m0 106h0m8-100h0m4-6h0m-9 13h0m-23-8h0m36 96h0m-21-31h0m-10 33h0m32-104h0m1 9h0m-20 6h0m1 66h0m22-46h0m-61 17h0m77 14h0m-26 30h0m1 26h0m16-113h0m-49 80h0m28 21h0m18-75h0m-55 46h0m-5-23h0m15-13h0m34 33h0m-3-81h0m24 91h0m2-13h0m-24 38h0m9-35h0m-2 30h0m-30-90h0m5 89h0m28-100h0m-50 11h0m49 6h0m13 23h0m-63 0h0m-15 0h0m32-53h0m43 54h0m0 43h0m-26-30h0m13 12h0m17 22h0m-41 13h0m-14-64h0m26 81h0m-30-17h0m37 10h0m-32-36h0m36 25h0m-6-41h0m-40-4h0m-13-30h0m18 75h0m-6-11h0m2-59h0m34-10h0m9-2h0m25 10h0m-1 43h0m-3 15h0m-48-76h0m46 65h0m-49-83h0m27-2h0m-43 97h0m10 7h0m41-22h0m-12-70h0m-6 6h0m-40 10h0m17 38h0m45-31h0m3 64h0m-15-103h0m-4 85h0m-2-70h0m19 44h0m-38 48h0m-3 20h0m0-43h0m-7 13h0m15 10h0m-2-129h0m21 104h0m0 54h0m-34-139h0m30 33h0m-11 31h0m-21 49h0m21 31h0m11-33h0m-17-76h0m-7-10h0m30 45h0m-46-74h0m6-13h0m0 14h0m47 16h0m-38 46h0m18 24h0m22 10h0m-33 27h0m21-87h0m34-22h0m-31 109h0m-10-40h0m0 14h0m3-30h0m14-84h0m-13 71h0m51 26h0m-78 16h0m8-82h0m3 76h0m44 24h0m-29-54h0m-1 61h0m-10-2h0m-19-52h0m46 31h0m-17-54h0m-59 4h0m28 1h0m72-16h0m-22 33h0m-58 6h0m55-58h0m-56 36h0m56-10h0m-9 48h0m-12-1h0m37-28h0m-28-39h0m-31 43h0m45-26h0m-65 71h0m111-156h0m-101 121h0m46-48h0m-5 91h0m-18-16h0m12-74h0m-22 14h0m57 79h0m-32-121h0m-21 51h0m-43 17h0m66-58h0m-21 39h0m67 50h0m-32-26h0m-61 37h0m18-126h0m42 70h0m-22 38h0m-7-5h0m45-32h0m-48 15h0m29-19h0m-16-12h0m-5 54h0m-22-32h0m-19-23h0m45 55h0m-32-28h0m3 18h0m35 6h0m-14-83h0m-10 4h0m-4 57h0m52-27h0m-55 38h0m-37 79h0m15-43h0m74-2h0m-32-10h0m-7 10h0m-9-79h0m30 16h0m9-18h0m-12-5h0m-55-30h0m-20 60h0m125-14h0m-27 16h0m6-98h0m-80 133h0m63-37h0m-13 45h0m-26 27h0m-19-14h0m69-33h0m-49-13h0m-73 16h0m31-134h0m85 65h0m-16 57h0m-82-56h0m58 81h0m13-103h0m-23 81h0m-29-32h0m28-99h0m88 177h0m-85 4h0m-22 34h0m26-82h0m-8-2h0m35-4h0m-465-215h0m87-22h0m31-22h0m15 17h0m15-8h0m-112 19h0m85 37h0m-98-64h0m77 58h0m-4-47h0m36 9h0m-69 19h0m-47-85h0m50 88h0m14-5h0m-18 15h0m-3 13h0m-4-20h0m-38-15h0m62-5h0m70-3h0m-26 9h0m-2-37h0m-92 56h0m-28-17h0m87-6h0m-8 10h0m-43-4h0m-17-25h0m-68 10h0m-7 4h0m120-33h0m-9 41h0m-26-36h0m15 39h0m65 45h0m-182-47h0m151-29h0m-7 81h0m-13-22h0m60-53h0m-212 47h0m242-86h0m-109 31h0m25 23h0m59-19h0m49-34h0m-107 130h0m-20-60h0m-24 79h0m86-108h0m-176 16h0m166-66h0m-77 77h0m-120-23h0m8-30h0m155 85h0m58-62h0m-51-38h0m-153 80h0m83-54h0m-114 27h0m318-62h0m-254 109h0m-67-60h0m153 60h0m-11 24h0m4-67h0m36 16h0m-150-45h0m98 45h0m-77-37h0m37 37h0m337 192h0m40-60h0m-33-13h0m19 81h0m-53-102h0m73 59h0m-26 29h0m19 19h0m-40-124h0m-2 75h0m4 28h0m8 35h0m-19-51h0m14 84h0m-29-124h0m28 70h0m19-37h0m-72-75h0m61 73h0m96 24h0m944 6h0m126 30h0m-98 1h0m169-26h0m-140 26h0m129 0h0m-54-57h0m-150 16h0m223-6h0m-172 76h0m12-12h0m-78-59h0m48 63h0m56-1h0m11-57h0m-40-39h0m31 108h0m-97-61h0m199-35h0m-202 71h0m-9-5h0m200-63h0m-163 58h0m-5-27h0m85 13h0m-35-56h0m53 11h0m-60 96h0m86-36h0m-11-56h0m-71 0h0m84 78h0m-132-78h0m90 1h0m2 94h0m-130-68h0m48-31h0m104 94h0m-32-47h0m62 36h0m72-63h0m-98 66h0m-123-11h0m-7-52h0m79 36h0m141-27h0m-97-3h0m-53-17h0m92 64h0m-10-43h0m-74-30h0m48 25h0m-15 11h0m-65-9h0m37 58h0m125-73h0m-118-8h0m7-26h0m-6 54h0m11 2h0m-53-51h0m6 36h0m-60 30h0m31-8h0m75 12h0m107 7h0m-15-3h0m-165 18h0m143-40h0m41-15h0m-99 53h0m-101-36h0m70-46h0m137 47h0m-21-28h0m-106-3h0m34 55h0m-4-15h0m-71 44h0m145-84h0m26 25h0m-101 23h0m13 28h0m76-68h0m-2 0h0m-56-19h0m-13 17h0m-67 79h0m-74-25h0m93-76h0m48 51h0m-17 9h0m-84-56h0m17-14h0m-34 56h0m51 31h0m-67-66h0m103 57h0m-56-57h0m-51 19h0m68 52h0m-37-55h0m136-16h0m46 13h0m-170 17h0m-20 39h0m182-9h0m-131 16h0m72-80h0m-69 68h0m-32-81h0m60 1h0m-16 93h0m33-70h0m-99 35h0m81 41h0m-92-52h0m75-11h0m-71 1h0m97-23h0m-60 40h0m167-5h0m-161-54h0m47 37h0m-109 16h0m135-15h0m32 34h0m-56-3h0m8-45h0m-57 58h0m14-23h0m-45 12h0m67-75h0m75 96h0m-14-40h0m-118 28h0m41-45h0m-81 34h0m160 19h0m-151-67h0m131-9h0m-2 15h0m-18 61h0m-59-14h0m69 31h0m48-29h0m-63 27h0m16-24h0m-79-70h0m67 14h0m91 13h0m-190 29h0m115-57h0m-83 1h0m49 50h0m-48 18h0m35 17h0m63-67h0m74 33h0m-43-18h0m26 46h0m-106-58h0m12 29h0m-95 1h0m-30-28h0m160-18h0m-40-2h0m97 9h0m-54-17h0m-155 34h0m59 55h0m-85-32h0m102-56h0m143 70h0m-80-64h0m-39 93h0m22-31h0m-27-34h0m100-18h0m5 21h0m2-17h0m-150 34h0m-21-32h0m136 64h0m-101-39h0m63 15h0m90-3h0m12-11h0m-140-54h0m-32 55h0m-85-5h0m28-21h0m0 39h0m100-65h0m-51 58h0m35 4h0m-97 6h0m147-51h0m-12 89h0m88-38h0m-100 16h0m-18-5h0m-22-18h0m97 3h0m-35-24h0m-68 33h0m25-26h0m-18-18h0m67 70h0m-116-27h0m90-2h0m36-28h0m-38 28h0m109 3h0m-74-37h0m38-26h0m25 43h0m-117 24h0m25 36h0m14-92h0m-18 8h0m-45-8h0m-30-11h0m29-3h0m52 105h0m-30-66h0m-117 17h0m62 37h0m-4 0h0m30-9h0m103 15h0m-38-69h0m-84-15h0m-43 8h0m58 63h0m-84-39h0m135-41h0m50 6h0m14-5h0m36 17h0m-182-21h0m46 31h0m102-38h0m-115 12h0m-38 68h0m214-41h0m-72 7h0m-137-17h0m37-8h0m12 58h0m62-10h0m-114-54h0m109-13h0m66 90h0m-150-84h0m62 73h0m-106-45h0m111-9h0m52 25h0m-21-21h0m-48 26h0m-13-13h0m85 50h0m-117-94h0m-22 51h0m146 28h0m-125-81h0m49 33h0m15 53h0m51-31h0m-77 52h0m96-45h0m-7-3h0m-121-51h0m70 89h0m-8-46h0m-58-44h0m-19 99h0m63-53h0m-118-9h0m0 28h0m38 4h0m116-58h0m-46 26h0m-77-3h0m-31 37h0m245-20h0m-154-3h0m-69 27h0m148-77h0m-85 3h0m124 8h0m-83 62h0m-102 1h0m75-66h0m9 93h0m21-7h0m-18-76h0m58 5h0m44-16h0m-52 45h0m-17 47h0m-7-14h0m41-40h0m-136 48h0m92 14h0m88-29h0m-44-70h0m29 66h0m-197-60h0m179 66h0m-18-48h0m-127 9h0m9 35h0m155 1h0m-138-19h0m-2-4h0m58-48h0m85 79h0m-18-86h0m-147 79h0m155-16h0m34-23h0m-191 6h0m20-11h0m130-7h0m-19 32h0m-186-10h0m228 17h0m-4-1h0m-115-53h0m89 11h0m-24 44h0m-175-5h0m84-44h0m85 46h0m-116 9h0m142-17h0m-57-4h0m-25-40h0m27 27h0m22-41h0m-23 5h0m1 83h0m37-42h0m53 3h0m-221 22h0m94-33h0m-6-15h0m-64 45h0m102-26h0m63 8h0m-159-28h0m107 48h0m20 10h0m-74 2h0m60-61h0m-123 44h0m186 24h0m-61-70h0m-79 74h0m-6-45h0m74-56h0m-118 22h0m185 70h0m1-24h0m19 18h0m-209 4h0m228-57h0m-129 28h0m25 5h0m-9-56h0m-5 11h0m-19 63h0m87-67h0m-34 3h0m-5 8h0m-145 49h0m163 37h0m-164-26h0m178 19h0m-184-60h0m74-26h0m84-6h0m6-1h0m-105 38h0m76-40h0m33 68h0m-23-36h0m-10 19h0m-83-19h0m96 0h0m-38-29h0m29 96h0m55-42h0m-130 10h0m141-56h0m-156 24h0m100 58h0m-2-75h0m36-14h0m-40 51h0m-31-3h0m-74-41h0m107 23h0m-23 62h0m-9-21h0m-110-30h0m35-13h0m30-9h0m-62 7h0m193 22h0m29 8h0m-67-23h0m52 3h0m-188-27h0m11 48h0m135-19h0m-8-6h0m-17-45h0m-48 112h0m44-76h0m13 76h0m-42-67h0m96 52h0m-161-22h0m20-38h0m136 2h0m30 14h0m-138-54h0m22 52h0m131-10h0m-179-30h0m59 72h0m84-8h0m-197-2h0m206-21h0m-120 20h0m-64-50h0m-20 53h0m105-75h0m-92 32h0m143-21h0m-86 58h0m125-51h0m-75 50h0m-2-1h0m-46-43h0m77 76h0m4-26h0m-29 20h0m-17-1h0m-83-51h0m210 8h0m-118 17h0m82-17h0m14 30h0m-135-11h0m-27-68h0m50-1h0m-50 96h0m-36-59h0m77-25h0m96 2h0m-72 14h0m29-19h0m-42 88h0m48-73h0m-49 59h0m30-80h0m-81-2h0m90 18h0m40 69h0m-1 7h0m-107-13h0m17 31h0m92-64h0m-21 16h0m-130-39h0m129 79h0m-20-19h0m2-73h0m-103 52h0m135-20h0m-16-10h0m-103-20h0m27 50h0m-18 43h0m92-68h0m35 35h0m-102-1h0m65-40h0m-131 39h0m101-72h0m-110 46h0m-20 11h0m83-28h0m96 54h0m-185-17h0m42-33h0m3-20h0m6 41h0m150 33h0m-47-61h0m-136-2h0m46 66h0m147 5h0m-102-94h0m-64 10h0m23-11h0m-6 97h0m-15-42h0m131 4h0m19-53h0m45 57h0m-89-44h0m22-3h0m-184 47h0m74-28h0m151 27h0m-202 16h0m163-16h0m62-11h0m-82-50h0m-94 29h0m35 25h0m-85 22h0m127-80h0m-69 94h0m109-52h0m-153 45h0m68-24h0m74-42h0m35 49h0m-37 7h0m-105-47h0m21 64h0m60-64h0m83 29h0m-46-21h0m70 17h0m-86-10h0m-41-27h0m-42 29h0m102-31h0m-148 58h0m75 29h0m-123-53h0m219 38h0m-129-29h0m29 0h0m56 12h0m-14-33h0m-59 69h0m-15-105h0m11 89h0m169-28h0m-190 17h0m73 22h0m17-16h0m-1-13h0m-111-22h0m197 57h0m-50-36h0m-84-2h0m-17 28h0m1-70h0m-102 88h0m67-92h0m91 101h0m21-81h0m-8-18h0m-64 32h0m21 29h0m41 42h0m23-83h0m-45-21h0m-68 19h0m127-13h0m-201-12h0m28 31h0m70-37h0m-38 28h0m93 39h0m72-33h0m-54 13h0m-134-27h0m256 18h0m-42 37h0m1-38h0m-57-4h0m-159-33h0m121-17h0m-6 28h0m-1-19h0m39 43h0m-185-45h0m124-8h0m20 80h0m-76 35h0m163-41h0m-77 6h0m-55 32h0m-22-145h0m44 112h0m62-59h0m44 11h0m-59 59h0m-35 15h0m-52 35h0m76-94h0m164 16h0m-327 54h0m245-76h0m-196 65h0m81-79h0m-42 39h0m113 56h0m-124-1h0m-69-31h0m106-10h0m-23-44h0m56 70h0m-193-41h0m140-42h0m-73 60h0m147 4h0m-197-82h0m107 42h0m184 2h0m-127 52h0m120-24h0m-103 59h0m-58-141h0m-27 56h0m160 24h0m-9-8h0m-89-26h0m-99 41h0m123 3h0m-69-38h0m71 39h0m124-56h0m-77 67h0m-97-29h0m16 53h0m201-46h0m-216 24h0m58-43h0m20 40h0m-89-1h0m-143-81h0m149 55h0m-88 50h0m83-50h0m26 23h0m-41-1h0m-20-84h0m104 62h0m29-79h0m-60 49h0m-23 9h0m-15-10h0m108-40h0m-208 78h0m285-42h0m-226-15h0m-9 91h0m132-13h0m-26-25h0m-72-46h0m93 131h0m-76-46h0m-26-46h0m186-5h0m-82-18h0m96-26h0m-102 38h0m-28 23h0m86 19h0m-20-19h0m-164 37h0m201-33h0m-57-27h0m-173 46h0m55 36h0m110-74h0m-101 5h0m-31-18h0m202 3h0m19 7h0m-110-31h0m-56 18h0m-84 91h0m153-77h0m-130 4h0m3-38h0m67 119h0m-121-61h0m93-131h0m-67 105h0m114-24h0m133 49h0m-187-83h0m63 38h0m65-15h0m14 23h0m-78 7h0m33 54h0m-90-78h0m189 70h0m1 0h0m-138 26h0m-62-78h0m21 42h0m-35-33h0m0-2h0m153 51h0m-104 55h0m-38-79h0m18-102h0m-55 131h0m-37 65h0m119-102h0m107-9h0m-147-24h0m-23 44h0m36-1h0m-80-36h0m277 30h0m-168 31h0m29 14h0m-112-30h0m8-3h0m274 32h0m-258-42h0m102-43h0m-17-14h0m57 76h0m-88-9h0m198-32h0m-331 19h0m110-43h0m106 68h0m-24 24h0m-96-78h0m82-87h0m-245 116h0m196-11h0m-58 7h0m156-33h0m-38 18h0m-56 11h0m130 15h0m-64-14h0m-221 30h0m166-32h0m-38-63h0m155 129h0m6-140h0m-79 25h0m-57 25h0m-34-9h0m10 59h0m163 6h0m-126-41h0m-18 4h0m-29-6h0m114-2h0m-130 4h0m71 2h0m-28 30h0m17-66h0m48 12h0m16 58h0m-23-19h0m-142-19h0m114 32h0m-97-31h0m-32 13h0m126-2h0m123 23h0m-145-50h0m-19 52h0m106-49h0m-81 2h0m63 24h0m-110-41h0m158-20h0m-243-64h0m301 97h0m-93 43h0m-1 22h0m-102-45h0m114 22h0m-137-50h0m-54 39h0m72-69h0m-2 71h0m58-20h0m-6 39h0m-147-70h0m234 74h0m-256-70h0m308 71h0m-173 13h0m164 19h0m-298-130h0m95 60h0m17 14h0m198 41h0m-53-53h0m72 22h0m-153-23h0m-225 104h0m196-60h0m248-52h0m-371 58h0m152-94h0m78 46h0m-206-122h0m-6 139h0m-4 29h0m351-32h0m-214-19h0m68 6h0m20 66h0m-20-114h0m-21 34h0m-38 58h0m-106-36h0m231-50h0m-180 75h0m-4 14h0m-85-120h0m151 65h0m-7 52h0m80-62h0m-156-76h0m-64 104h0m130-83h0m61 69h0m35-15h0m-15-36h0m-306 15h0m277 58h0m-281-13h0m278 73h0m12-56h0m-257-6h0m-42-32h0m174-32h0m-70 39h0m173-24h0m-30 65h0m-36 57h0m-31-126h0m-173 86h0m281-60h0m-40 3h0m-22-149h0m-32-1h0m-55-37h0m71 17h0m-7 32h0m73-24h0m-86 29h0m-40-26h0m55 45h0m31-19h0m-101-5h0m104-33h0m-56 19h0m32-27h0m3 30h0m-48-36h0m-90 27h0m135 16h0m5-36h0m-27 52h0m-87-12h0m41-2h0m41-37h0m-57 50h0m46-1h0m23-6h0m-37-11h0m1 12h0m-10 3h0m107-40h0m-87 30h0m97 11h0m-84-49h0m37 19h0m-32 17h0m-79 11h0m115-8h0m-16-4h0m-98-15h0m109 3h0m-39 12h0m3-2h0m20-4h0m-79-5h0m102-6h0m-24 16h0m-67-53h0m43 35h0m-30 29h0m-7-10h0m44-3h0m92-36h0m-51 31h0m-61-9h0m16 12h0m-48 27h0m9-30h0m-26 5h0m80 15h0m31-26h0m31 6h0m-3 31h0m-96-47h0m46 42h0m-7-5h0m10-4h0m36-20h0m-135 3h0m31-18h0m30 32h0m-82-38h0m130 11h0m-59 38h0m75-17h0m-29-52h0m-125 50h0m-76-2h0m73-3h0m13 9h0m-29-10h0m-49 13h0m24-8h0m83 4h0m-111-8h0m22-14h0m-3 21h0m45-8h0m99-31h0m-65 28h0m108-4h0m-67 18h0m113-45h0m-64 41h0m-42 2h0m-132-6h0m120-36h0m75 32h0m-82 24h0m-40-41h0m121 45h0m82-38h0m-239-29h0m493 212h0m19-33h0m-10 33h0m-26 0h0m-11 16h0m-6-22h0m-5 10h0m22 46h0m3-89h0m30 11h0m13 26h0m-49 12h0m-4-36h0m-13-3h0m13-9h0m17 32h0m17 12h0m7 7h0m-19 26h0m-29-64h0m66 15h0m-3 17h0m-46-31h0m7 74h0m5-65h0m-40 2h0m81 4h0m-11 53h0m12-18h0m-39-48h0m13 43h0m-46-40h0m29-8h0m0-27h0m30 45h0m-46-18h0m3 38h0m36-19h0m0 16h0m9 17h0m-41-67h0m43 5h0m8 20h0m-69 39h0m3-37h0m22 30h0m8 3h0m9-26h0m-11-9h0m30 22h0m-12 30h0m0 8h0m-22-21h0m39-23h0m-6-23h0m-60 63h0m36 12h0m4-78h0m-31-10h0m25 61h0m4-74h0m18 69h0m-41 27h0m16-17h0m-37-50h0m60 41h0m-5 1h0m-36-21h0m-18-8h0m4-10h0m18-25h0m-13 86h0m18 6h0m-8-47h0m19-12h0m42-1h0m-17 12h0m-41 37h0m23-10h0m-8-39h0m19-27h0m-22 5h0m35 64h0m-42 0h0m13-14h0m-27 13h0m2-41h0m46-16h0m-1 65h0m-54-13h0m11-50h0m6 56h0m25-44h0m4 47h0m-43 6h0m29-25h0m30-46h0m-35 54h0m-41-35h0m48 6h0m-4 43h0m-35-13h0m15-70h0m17 5h0m-1 5h0m-1-4h0m0 51h0m21-52h0m15 27h0m-69 6h0m49-7h0m10-6h0m-28 25h0m-4-39h0m19-7h0m-38 33h0m72 28h0m-29 27h0m-6-20h0m-10 7h0m16-80h0m10 40h0m-56 45h0m10 6h0m13-38h0m5 23h0m-8-28h0m-11-19h0m-11-8h0m15 47h0m-12-59h0m75 54h0m-20-4h0m19-8h0m-79-8h0m42 41h0m-41-52h0m-5 25h0m12-40h0m13 2h0m-2-2h0m4 40h0m20 15h0m0-46h0m-32 11h0m66 21h0m-36 11h0m29 7h0m-36 18h0m-35-31h0m4-24h0m1-14h0m-7 26h0m3-32h0m62 5h0m-18 63h0m5-5h0m26-55h0m-63 60h0m0-10h0m-9-30h0m41 6h0m12 33h0m-17-68h0m25 21h0m-48 38h0m45 6h0m-25-89h0m-42 59h0m1 7h0m9 17h0m31-28h0m33-26h0m-43 35h0m37 16h0m-8 12h0m-46-49h0m26 46h0m-19-25h0m44-28h0m-23 39h0m-20-47h0m29 63h0m-15-14h0m-8-32h0m21 50h0m41-42h0m-33 80h0m11-88h0m-13-41h0m-73 25h0m40-22h0m52 34h0m-28 20h0m-9-47h0m63-31h0m-58 102h0m-5-31h0m15 13h0m-18 32h0m24 17h0m-12-134h0m-51 57h0m62-43h0m-30 110h0m26-75h0m-13 32h0m-9-17h0m-6 21h0m65 47h0m-83 33h0m33-142h0m-40 59h0m50-30h0m-30 16h0m31 34h0m9-116h0m-34 100h0m28 21h0m-54 29h0m9-67h0m21-11h0m-9 49h0m46-17h0m-61-38h0m36 39h0m-15-25h0m93 13h0m-85-96h0m-13 155h0m46-107h0m-2 52h0m-46 24h0m6-42h0m18 19h0m-13 4h0m13-4h0m11-32h0m-51 21h0m75 16h0m-29-41h0m-40-19h0m7 33h0m-18 10h0m-1 29h0m45-92h0m-15 76h0m27 21h0m-22-35h0m4 26h0m-14-27h0m25-7h0m-36 65h0m46-86h0m43 5h0m-83 15h0m41 71h0m24-36h0m-38 5h0m-24-52h0m38 34h0m-9-46h0m1-17h0m19 56h0m-45-19h0m-2 70h0m-64-9h0m85-33h0m-28-60h0m34 33h0m8 58h0m-18-20h0m9-12h0m-20 0h0m27-6h0m-26-58h0m-17 115h0m60-48h0m-21-17h0m16 51h0m-40-31h0m52-90h0m-82 48h0m-10 7h0m14 2h0m58-38h0m-17 122h0m4-124h0m-34 114h0m14-86h0m46-4h0m-83 64h0m50-61h0m19 84h0m-428-19h0m-30 15h0m-94 45h0m40-85h0m-8-15h0m93 37h0m-81-70h0m36 67h0m-58-1h0m-38 28h0m29-6h0m64-100h0m-59 56h0m92 48h0m-8 41h0m-44-83h0m-76-20h0m117 7h0m-69 69h0m-77 16h0m181-121h0m-39 68h0m21-13h0m-50 67h0m-23-38h0m-2709 767h0m119 28h0m-59-28h0m-51 27h0m99-39h0m-14 46h0m-50-45h0m62 26h0m-67 6h0m-22-15h0m93-9h0m-103 22h0m90-5h0m35-16h0m-63 6h0m55-9h0m-98 3h0m93 26h0m-102 5h0m96-9h0m-27-31h0m-46 40h0m64-7h0m-66 14h0m88-26h0m14-14h0m-12 32h0m-72-11h0m-24-30h0m33 19h0m0 16h0m-49 5h0m23-27h0m92 23h0m-27 4h0m-49-30h0m16 34h0m-56-10h0m48 16h0m38-1h0m-48-32h0m-26-17h0m10 1h0m50 24h0m18 12h0m37-15h0m-56 0h0m-23-13h0m-26 0h0m31 7h0m7 15h0m70-5h0m-61 0h0m-25-9h0m5-7h0m-28 40h0m5-25h0m13 6h0m22-9h0m-6-17h0m36 3h0m-66 22h0m60 13h0m40-19h0m-146 7h0m50-4h0m-29-14h0m11 19h0m113-21h0m-71 18h0m41-19h0m-79 20h0m7-10h0m51 4h0m55-14h0m-122 4h0m4 25h0m73-42h0m15 48h0m4-35h0m1-6h0m-68 3h0m68 31h0m-46-15h0m-38 3h0m106-9h0m-79 9h0m-13 23h0m-27-30h0m77 18h0m-62-43h0m61 1h0m31 46h0m-60 6h0m44-15h0m-83-40h0m66 42h0m43-22h0m-93 33h0m8-5h0m-33-17h0m87 12h0m-9-43h0m20 32h0m-32-23h0m27 37h0m-86 11h0m26-5h0m-29-33h0m-14-15h0m60 23h0m19 2h0m-58-7h0m102 1h0m-66 34h0m-16-5h0m-53-10h0m8-29h0m124 35h0m-63-46h0m3 53h0m11-59h0m20 40h0m-113-12h0m108 22h0m-57-41h0m-8 5h0m45 3h0m-52 23h0m35-36h0m-10 13h0m66-3h0m-26 30h0m-35-43h0m19 4h0m-48 56h0m105-44h0m-88 4h0m46-2h0m-26 23h0m-31-35h0m61 35h0m30-4h0m-103-13h0m62 32h0m11-36h0m9-5h0m-33 25h0m43-26h0m-3 20h0m-21-31h0m-16 0h0m17 48h0m-40-25h0m39 9h0m10-14h0m-101 22h0m27 2h0m68 11h0m-94-26h0m44-10h0m-13 34h0m32-20h0m-54 1h0m82-30h0m-47 10h0m34-13h0m69 21h0m-37 35h0m-50-36h0m30-4h0m-61 41h0m64-28h0m-29 20h0m44-35h0m-68 9h0m-41 1h0m9 16h0m35-23h0m-18-5h0m2 43h0m36-23h0m-22 28h0m45-53h0m-62 17h0m112 24h0m-20-14h0m-94 5h0m61-34h0m-84 26h0m138-14h0m-45-15h0m-54 42h0m70-20h0m-72-21h0m86 42h0m-95-5h0m45-6h0m-15 0h0m23-17h0m-31-11h0m42 45h0m-64-16h0m25-28h0m57-3h0m-74 26h0m-13 4h0m44-24h0m33 29h0m43-21h0m-28 19h0m-33-40h0m-42 27h0m41-13h0m-6 11h0m-41 4h0m1 33h0m30-55h0m45 2h0m0 42h0m29-18h0m-28 19h0m10-13h0m13 10h0m-82-26h0m-1 38h0m67-16h0m-73-28h0m-8 28h0m28-32h0m-51 40h0m8-43h0m54-8h0m-20 10h0m72 24h0m-58-6h0m11 21h0m50-35h0m-71-11h0m6 60h0m38-36h0m-63-17h0m19 6h0m9 19h0m-13 1h0m1-6h0m12 23h0m65-17h0m-22-19h0m-95 0h0m-4 31h0m125-8h0m-112-35h0m88 30h0m-97-15h0m60 19h0m-62-25h0m52 45h0m-46-37h0m76 29h0m-56-51h0m32 5h0m24 19h0m24-6h0m-117 12h0m67 23h0m-41-27h0m92 15h0m-93-19h0m85 12h0m-9 10h0m21-10h0m-59 16h0m-70 21h0m86-36h0m21 14h0m-170 3h0m120-41h0m58 41h0m-30-37h0m-16-8h0m139 7h0m-94 55h0m-100-52h0m-79 7h0m52 10h0m64-4h0m15-11h0m4 9h0m-48-6h0m9-23h0m31-13h0m32 43h0m-21 28h0m45-38h0m-35 39h0m-29-19h0m33-34h0m-8 16h0m-31 19h0m53-32h0m-52 17h0m-40 14h0m43-26h0m65 15h0m-120 0h0m56 9h0m140 6h0m-47-17h0m-56 16h0m-33-6h0m-20 10h0m-26 25h0m45-32h0m16-48h0m16 18h0m-13 11h0m-27-26h0m-60 23h0m14 19h0m-19-1h0m112-23h0m-87 10h0m100 41h0m79-31h0m-88 2h0m-37-30h0m-19 52h0m100-40h0m-173 59h0m95-34h0m-12-54h0m28 20h0m-34 8h0m1 72h0m102-104h0m-175 35h0m50 30h0m128-36h0m-57 13h0m-147 33h0m214-48h0m-64 8h0m-41 1h0m-3 12h0m-27 5h0m-39 13h0m19-63h0m103 36h0m-78 30h0m28 24h0m27-80h0m-54 18h0m12 56h0m173 1h0m-130-28h0m-16-66h0m70 100h0m-110-48h0m-11-4h0m-9-22h0m120-19h0m-11 19h0m-74-21h0m53 24h0m106 2h0m-130 38h0m-70-36h0m-5 33h0m78 11h0m-100-46h0m76 11h0m25 38h0m-10-46h0m-10 2h0m-35 61h0m76-1h0m-51-45h0m-61 8h0m115 10h0m-109-14h0m120-13h0m-12-1h0m-41-2h0m-85-6h0m95 13h0m-10-7h0m51 10h0m-28-7h0m52 8h0m-50 55h0m0-89h0m-63 45h0m-37-43h0m68-3h0m70 48h0m-81 19h0m-21-57h0m91 28h0m-65 25h0m5-10h0m21 12h0m19-38h0m55 2h0m13-21h0m-97-23h0m27 85h0m-52-21h0m10 23h0m32-26h0m44-44h0m-24 39h0m35-2h0m-40-2h0m-91-11h0m46-20h0m8 21h0m107 5h0m-97 8h0m32-40h0m-140 76h0m53-59h0m115 28h0m-114 11h0m-18 21h0m47-31h0m17 38h0m-54-48h0m178-47h0m-151 56h0m15 4h0m79-38h0m-104 58h0m150-95h0m-81 88h0m-70-45h0m-26 16h0m-1 22h0m26-5h0m-50 9h0m128 1h0m-23 33h0m40-54h0m37-10h0m-83 48h0m-36-39h0m41 4h0m-28 20h0m138-33h0m-209-2h0m5-19h0m20 55h0m69-8h0m-15 7h0m-17 7h0m74-26h0m-135-31h0m99 1h0m-25 21h0m89-12h0m-71 5h0m-51 21h0m99-44h0m30 87h0m-77-41h0m-69-22h0m78 8h0m61-19h0m-93 34h0m-62-11h0m-3 22h0m66-51h0m-126-2h0m102-25h0m155 45h0m-188 36h0m-14-26h0m172-59h0m-138 42h0m-46 24h0m42 21h0m-62 7h0m11 1h0m138-5h0m-182 45h0m94-111h0m-91 58h0m51-19h0m-8 5h0m157-30h0m-84 47h0m-91-55h0m-17 58h0m81 16h0m15-32h0m-26 4h0m2 15h0m-70 14h0m191-40h0m-81-38h0m-36-8h0m68 51h0m7 37h0m-139-11h0m175 49h0m-127-58h0m-40 3h0m94 28h0m-57-48h0m50-8h0m120-70h0m-105 77h0m-21-53h0m-54 263h0m84 7h0m-12 12h0m-49 3h0m28 4h0m39 15h0m-56-2h0m5 2h0m23-16h0m-1-18h0m-49-15h0m-9 49h0m91-36h0m-35 3h0m1-26h0m-28 53h0m48-19h0m0 19h0m-7 7h0m-44-45h0m26 45h0m6-63h0m-6 72h0m-47-26h0m19-3h0m76-17h0m-94 10h0m21-19h0m27 46h0m14-16h0m-54-4h0m84-16h0m-39 50h0m17-50h0m24 19h0m-54-39h0m8 31h0m-43 4h0m98-18h0m-94 14h0m-35 3h0m155 5h0m-37 8h0m-106-17h0m63-24h0m-56 12h0m43 51h0m-12-5h0m-49-34h0m43 19h0m51-33h0m19 33h0m22-1h0m-124 8h0m91-53h0m34 29h0m-22 35h0m-103-37h0m123 12h0m-54 31h0m-78-50h0m88-9h0m-16 55h0m-43-21h0m78 11h0m26-45h0m-77-12h0m20 60h0m-33 1h0m-6-32h0m64 27h0m45-36h0m-88 32h0m64 2h0m-84 6h0m79-22h0m-68 11h0m-43 1h0m56 2h0m27-32h0m-43 11h0m-29-19h0m80-5h0m45 26h0m-96-28h0m-7 18h0m-22-7h0m80 8h0m-75 19h0m129-17h0m-40 33h0m23-24h0m1-16h0m-8 7h0m-98 31h0m93-15h0m-52-30h0m60 32h0m-28 13h0m-65-23h0m37-38h0m-9 58h0m-46 2h0m105-7h0m-23 9h0m-27-12h0m-6-8h0m-27-31h0m93 28h0m-88-20h0m3 17h0m-29-5h0m31-5h0m3-27h0m83 20h0m-81 4h0m47 47h0m-23-23h0m-68-27h0m56 27h0m-12 7h0m73-39h0m-50-12h0m-33 38h0m82-31h0m-5 38h0m-45-41h0m41 42h0m19-23h0m-108 31h0m19 7h0m-10-1h0m13-21h0m-7 3h0m-41-21h0m48 18h0m71-8h0m-11-7h0m-83-5h0m26 12h0m18 24h0m49-31h0m-4 16h0m18 3h0m-60 22h0m76-26h0m-148-6h0m23-4h0m64-19h0m-86 22h0m99 2h0m-37 4h0m-10-6h0m21-32h0m-42 45h0m13-12h0m12-20h0m-39 4h0m-18-2h0m94 17h0m-51 14h0m3 13h0m80-48h0m-52 10h0m68 21h0m-34-11h0m-4-5h0m-29 18h0m18 14h0m-76-50h0m47 3h0m14 5h0m-22 40h0m34-46h0m-16-8h0m-34-4h0m32 63h0m-7-44h0m4 4h0m-46-11h0m49 13h0m-62 18h0m122-5h0m-87-4h0m-5-9h0m75 2h0m-74-19h0m76-1h0m-36 27h0m27 2h0m-71 34h0m31-63h0m10 28h0m-8 16h0m-21-6h0m-17 7h0m86-15h0m20-10h0m-87 28h0m64-27h0m-53 15h0m-62-7h0m3-2h0m86-10h0m-31 45h0m-39-49h0m14 47h0m57-28h0m36-26h0m-108 51h0m81-34h0m-53 23h0m47-28h0m54 2h0m-115-15h0m-35 18h0m143 22h0m-93-34h0m73 42h0m-79-46h0m-8 45h0m34-11h0m32 10h0m-21-62h0m19 17h0m31 28h0m-27 8h0m26 10h0m-95-5h0m15 0h0m33-14h0m-33-10h0m36 20h0m24-30h0m-14 19h0m-25-4h0m53-9h0m-8 15h0m-117-4h0m68-28h0m-48 1h0m118 29h0m-76 0h0m2-6h0m25 19h0m-67-42h0m36 50h0m32-8h0m-15 16h0m28 2h0m23-32h0m-68-37h0m-20 0h0m38 22h0m33-4h0m32-7h0m-114 0h0m41 0h0m22 0h0m-11 42h0m-17 12h0m-11-66h0m-8 4h0m29 11h0m-20 22h0m2-24h0m-25-2h0m4 35h0m105-11h0m8 17h0m-8-16h0m-76 29h0m78-46h0m-24 37h0m-14-43h0m-99 8h0m35 15h0m14-10h0m-7-21h0m-5 42h0m0 19h0m94-35h0m-92 15h0m-13-35h0m11 14h0m78-8h0m-58-21h0m66 21h0m-1 37h0m-112-36h0m109 31h0m-60-44h0m-40 17h0m52 24h0m60 3h0m-50-13h0m9-38h0m-91 40h0m62 25h0m-32-41h0m37 56h0m10-57h0m-77 43h0m61-81h0m56 92h0m-168-22h0m157 35h0m33-75h0m-44 45h0m-111 22h0m113-19h0m-79 0h0m48-34h0m5 19h0m-90-10h0m109-49h0m76 127h0m-59-78h0m-98-34h0m-11 61h0m20-21h0m25 21h0m99 1h0m-35 4h0m60-58h0m-83 6h0m-13 13h0m4 29h0m-81-101h0m90 111h0m-38 13h0m152-43h0m-142 14h0m57-61h0m-16-17h0m-90 69h0m80-43h0m-16 75h0m-97-22h0m168-57h0m-5 54h0m-86-13h0m15 0h0m-9-23h0m64 74h0m-64-9h0m-33-81h0m81 46h0m-10-37h0m-49 60h0m114-23h0m-69-87h0m-60 119h0m147-65h0m-185 13h0m41 1h0m-21 31h0m73-59h0m-109 103h0m124-57h0m-130 59h0m38-62h0m78-26h0m-12 9h0m-125-29h0m82 26h0m61 67h0m-39 16h0m-11-63h0m12-55h0m9 45h0m-44 29h0m71-32h0m-74 19h0m5-35h0m17 54h0m12-33h0m-2 23h0m9 7h0m1 0h0m-9-48h0m41 16h0m-50 50h0m-2-67h0m9 67h0m-57-8h0m106-47h0m-49-10h0m-97-7h0m36-20h0m55 67h0m-29-28h0m10 4h0m66 43h0m12-26h0m44 11h0m-51-5h0m19-49h0m-97 35h0m-51-11h0m82 18h0m59 30h0m-21 4h0m-55-31h0m27-42h0m23 58h0m-34-26h0m82-9h0m-80 15h0m43 3h0m45 1h0m-139-63h0m63 101h0m8-64h0m13 29h0m55-55h0m-27 45h0m3 27h0m-174-5h0m156-52h0m-36 56h0m-79-5h0m132 26h0m-94-72h0m105 10h0m-34-71h0m114 23h0m-231 72h0m122-40h0m-154 42h0m139-45h0m-6 10h0m-65 39h0m58-20h0m-71-23h0m55 4h0m35 19h0m-32-6h0m36 36h0m-85-2h0m113-5h0m-83-18h0m152-47h0m-72 33h0m47 12h0m-47-23h0m-77 68h0m-44-65h0m58-22h0m50 0h0m-33 31h0m-128 11h0m37-3h0m135 7h0m18 42h0m-22-56h0m-49 25h0m-64-51h0m70 85h0m-63-46h0m23 15h0m61-23h0m32-7h0m-148 72h0m89-55h0m51-34h0m-71 2h0m60 35h0m-22-52h0m-58-4h0m-31 21h0m94 38h0m-119 4h0m123 29h0m28-94h0m-21 53h0m-9-30h0m64 26h0m-116-59h0m19 14h0m-70 92h0m81-20h0m67-8h0m-88-58h0m15 39h0m1-13h0m17-35h0m52 8h0m-54 10h0m71 9h0m-130 6h0m103-26h0m-125 21h0m118-74h0m10 160h0m-63-41h0m2-86h0m-17 77h0m-39-29h0m26 22h0m180-10h0m-217 49h0m58-64h0m45 36h0m-16-13h0m-2-48h0m35 65h0m-90-82h0m10 60h0m116 1h0m-78 1h0m-91-19h0m96 33h0m39 30h0m-87-65h0m14 29h0m163-2h0m-141-46h0m-111 112h0m92-15h0m70-79h0m-44-17h0m29 31h0m12 58h0m-106-18h0m79-55h0m-12 73h0m-9-11h0m14 12h0m-36-66h0m59-81h0m-89 158h0m-17 13h0m181-97h0m-182 37h0m128 56h0m48-102h0m-51 8h0m16 41h0m29-23h0m-48-49h0m-139 73h0m83 16h0m171-63h0m-270-18h0m43 92h0m78-60h0m23 5h0m-32 6h0m-125 35h0m119 59h0m-7-118h0m7-5h0m-17 15h0m29-23h0m-35 21h0m-67 14h0m130 33h0m-30-35h0m50-7h0m-22-60h0m-145 42h0m181 19h0m-52-35h0m93 119h0m-128-101h0m19 18h0m-56-93h0m54 11h0m-57 28h0m195 10h0m-186 69h0m6-5h0m97-37h0m-32 21h0m202 19h0m15 23h0m69-27h0m63-31h0m-114 71h0m96-32h0m-172-12h0m66-20h0m-44-33h0m77 64h0m-5-18h0m37 48h0m-42-38h0m213-5h0m-123-37h0m-120 24h0m264-6h0m-106 4h0m-171-43h0m91 92h0m-61-46h0m-21-10h0m137 6h0m-133 36h0m85-21h0m115 11h0m-58-48h0m-79 78h0m53-11h0m-143-37h0m203 54h0m-308-105h0m288 85h0m-2-113h0m-80 113h0m74-56h0m-11 55h0m-103 25h0m117-21h0m-113-20h0m29 44h0m161-80h0m-29 41h0m-175-36h0m145 33h0m-144-17h0m18 2h0m144-17h0m-139-74h0m54 125h0m102-49h0m-155 7h0m-62 12h0m30-7h0m62 31h0m-6 52h0m18-59h0m12-20h0m29 8h0m-152-21h0m187-34h0m18 54h0m-99 35h0m-2-54h0m-160-4h0m67 41h0m84-51h0m72 57h0m70-19h0m-230-6h0m132 25h0m-138-13h0m133-2h0m-153-27h0m100 7h0m69-5h0m-183-55h0m154 42h0m-35 60h0m-32-36h0m-61-37h0m135 74h0m-83-42h0m66-8h0m-17 1h0m35-3h0m-72-27h0m-19-4h0m42 78h0m-77-58h0m35 41h0m31-24h0m-44 1h0m41-16h0m117 40h0m-105-6h0m164 10h0m-189-20h0m112 15h0m-94-11h0m-57-13h0m48 2h0m118 9h0m-13-2h0m-178 38h0m64-41h0m110 47h0m-63-4h0m-44-19h0m-28 10h0m23-10h0m-42 24h0m189-53h0m-105-21h0m-17-15h0m61 42h0m30 2h0m-93-25h0m58 22h0m-123-43h0m144 43h0m-68-14h0m-31 17h0m48-37h0m152 66h0m-292-27h0m202-22h0m-166 37h0m50-17h0m151 0h0m-21-24h0m-211 12h0m96 33h0m56-82h0m-104 48h0m26-7h0m26 25h0m-78-33h0m39 65h0m50-82h0m44 74h0m-140-66h0m137 39h0m11 48h0m3-19h0m-76 13h0m-14-33h0m-88-23h0m186-16h0m-83-38h0m8 26h0m27 25h0m-50 5h0m19 10h0m9 35h0m89-112h0m19 70h0m-66-21h0m16 46h0m-77-53h0m71 49h0m-94-80h0m-14 78h0m159-42h0m-123-3h0m62 9h0m88 42h0m-125-30h0m80 0h0m-92 15h0m95 41h0m-93-82h0m-37 33h0m103-76h0m0 93h0m-29-57h0m-7 29h0m-69 34h0m145-12h0m-44 24h0m-36-43h0m97-6h0m-119 29h0m-8-39h0m100 28h0m-118-17h0m85 43h0m-25 10h0m-14 13h0m60-83h0m-66 45h0m5-40h0m33 28h0m-129-37h0m72 67h0m23-23h0m65-12h0m-61 4h0m58-17h0m-34-2h0m-67-261h0m-36 63h0m181 65h0m905 184h0m62-50h0m-41-74h0m77 34h0m-17-32h0m-20 65h0m27-113h0m-49 43h0m25 15h0m-26 39h0m27-27h0m-35 43h0m16 47h0m42-143h0m-61 112h0m17 72h0m22-71h0m10-79h0m-10 21h0m-14-40h0m-22 67h0m-26 77h0m20-79h0m38 31h0m12 38h0m-19-91h0m-12 13h0m-25 53h0m-25 18h0m17 26h0m-3-28h0m89-86h0m-58 95h0m50-36h0m-50-4h0m49-114h0m-58 188h0m46-172h0m-71 162h0m66-187h0m-45 109h0m-7-22h0m20 48h0m11-115h0m19 4h0m-5 51h0m42-40h0m-38 13h0m-13 56h0m-5 39h0m59-88h0m-109 102h0m2-38h0m14-33h0m37 84h0m-22-129h0m12-7h0m50-46h0m-33 191h0m25-34h0m-55-106h0m17 112h0m13 12h0m-20-75h0m22 13h0m-23-53h0m57-43h0m-77 177h0m0-88h0m30-93h0m-14 192h0m-20-1h0m7-58h0m86-100h0m-20 20h0m-23-41h0m38 47h0m-85 115h0m19-62h0m3 54h0m-19 18h0m7 0h0m55-99h0m-76 86h0m73-138h0m-28 89h0m-46-32h0m75-63h0m16 52h0m-28-23h0m-56 150h0m29-120h0m-8-17h0m17 126h0m-13 8h0m-36-17h0m64-40h0m-33 2h0m-37-32h0m24-45h0m-24 61h0m49-121h0m12 138h0m7-122h0m-38 8h0m58-36h0m-27 99h0m3-104h0m-42 181h0m42-23h0m-6-136h0m50-7h0m-47 55h0m-30 44h0m3 62h0m4 38h0m4-164h0m22-33h0m-30 80h0m24-45h0m9 111h0m26-38h0m-37 3h0m51-53h0m-19 39h0m-26 62h0m-33-57h0m44-95h0m-59 181h0m50-192h0m11 89h0m15-82h0m-29 72h0m3 7h0m-36 118h0m38-206h0m-22 17h0m-22 38h0m55-31h0m-51 111h0m27 30h0m32-106h0m-34 106h0m17-44h0m8-136h0m0 16h0m-58 147h0m19 37h0m38-32h0m-6-24h0m16-123h0m-57 179h0m19 12h0m-24-28h0m54-73h0m-19-30h0m-6-11h0m-6 57h0m-2-106h0m19 107h0m-10-17h0m-20-2h0m-4 16h0m12-41h0m-19-26h0m21 75h0m12-90h0m-31 157h0m58-29h0m15-52h0m-7-93h0m2 33h0m-14-12h0m-15 36h0m27 40h0m7-65h0m-43 56h0m-11-32h0m-16 62h0m22 14h0m-15-127h0m-14 80h0m7 81h0m57-56h0m-30-43h0m-18 74h0m62-149h0m2 20h0m-45 139h0m31-168h0m-85 119h0m89-49h0m-2 7h0m-49 63h0m24-3h0m-55-5h0m57 32h0m-4-41h0m-8 38h0m13-112h0m-2-34h0m19 96h0m3-102h0m-73 76h0m-3 33h0m-8 70h0m97-190h0m-21 152h0m-42-89h0m10 132h0m-21-27h0m20 9h0m-45-40h0m99-63h0m-1 1h0m0-5h0m-46 60h0m-7-50h0m-7 130h0m62-193h0m-21 142h0m-27-41h0m41-106h0m-67 182h0m-14-98h0m6-25h0m44-17h0m-1-22h0m-48 176h0m-15-42h0m88-67h0m-16 18h0m-11 64h0m-20 32h0m-34-99h0m102-106h0m-70 166h0m42-97h0m-34-42h0m24 133h0m-53 43h0m79-76h0m-24-133h0m-56 60h0m61-60h0m-72 175h0m84-103h0m-12 98h0m-16-25h0m-31-40h0m51-14h0m-61 67h0m38-16h0m22-144h0m-18 164h0m-41-113h0m62-7h0m-36 161h0m53-121h0m-81-27h0m1 84h0m-3 34h0m-8 10h0m85-63h0m11-110h0m-53 34h0m-38 77h0m89-9h0m-68-75h0m63 30h0m-81 112h0m56-102h0m-54 40h0m24 23h0m31 9h0m-64-8h0m47-144h0m-13 69h0m38-56h0m-5 64h0m27 33h0m-37 71h0m-12-39h0m5-121h0m-1-20h0m-19 188h0m-22-15h0m68-46h0m21-74h0m-50 83h0m-25-38h0m53 5h0m7 6h0m12-83h0m-6-17h0m-73 195h0m-15-117h0m21 81h0m56-50h0m-26-6h0m29-71h0m-59 49h0m22 82h0m2-150h0m-56 127h0m31 20h0m38-163h0m-27 14h0m29 136h0m-13 13h0m18-122h0m27 3h0m-2 21h0m-5 63h0m-20-83h0m12 86h0m-39-86h0m0 4h0m45 75h0m-41 30h0m-45-48h0m91-2h0m-72 63h0m9-81h0m-12 51h0m21-52h0m-15 71h0m39-87h0m28 21h0m-92 38h0m22 14h0m48-29h0m-25 72h0m23-117h0m-33-20h0m24 137h0m-3-156h0m-9 41h0m53-78h0m-72 81h0m70-43h0m-66 10h0m5 132h0m8-66h0m-20 16h0m67-40h0m-72 69h0m33-97h0m-7 62h0m1 59h0m34-135h0m-21 125h0m-41 8h0m45-160h0m-47 32h0m53-28h0m-38 130h0m-10-105h0m38 84h0m12-80h0m-63 144h0m55-145h0m11-40h0m-45 193h0m75-164h0m-17-54h0m17 106h0m-58-23h0m45-12h0m-26 42h0m32-51h0m-38 71h0m30-11h0m-58-49h0m22 113h0m-22-106h0m-20 136h0m60-91h0m4-112h0m11 71h0m18 133h0m-34-59h0m-7-149h0m-78 160h0m33 55h0m-71-45h0m131-114h0m16-5h0m-64 78h0m20-14h0m-14 57h0m29-238h0m7-32h0m58 159h0m-88 56h0m-7-70h0m24 48h0m24-14h0m-23-105h0m-71 120h0m81-32h0m79-162h0m-51 107h0m-54 62h0m-12-8h0m3 83h0m63-117h0m-23 37h0m18-9h0m13-22h0m-89 116h0m49 16h0m29 21h0m-65-26h0m-24-17h0m61-61h0m-63 80h0m-17-104h0m24-8h0m43-26h0m-30 81h0m55 134h0m-26-182h0m36-24h0m-109 116h0m24 51h0m89-216h0m-43 145h0m32-141h0m-122 227h0m18-224h0m61 242h0m34-139h0m-34 85h0m-34 1h0m49-72h0m4 10h0m-72 80h0m54-133h0m-33-121h0m65 144h0m-17-27h0m30-14h0m-49-93h0m-19 152h0m69 40h0m-30-162h0m11 152h0m-32 0h0m24-2h0m69-147h0m-88 56h0m-65 186h0m78-104h0m29-45h0m1 3h0m-19 56h0m63-151h0m-91 36h0m-21 87h0m75-38h0m-23 94h0m-50-33h0m92-66h0m-144 43h0m82 29h0m22-49h0m-1-62h0m14 197h0m-18-201h0m-33 190h0m39-186h0m7 90h0m-48-53h0m51-58h0m-47 182h0m26 5h0m19-104h0m-33 98h0m-4-58h0m-11-45h0m28-80h0m-53 33h0m68-2h0m-35 120h0m-39-89h0m59 72h0m49-16h0m-3-63h0m-72-19h0m-15 113h0m58-55h0m-57-6h0m27-35h0m-86 134h0m180-72h0m-5-39h0m11 33h0m-155-41h0m50 155h0m5 6h0m45-256h0m-15 48h0m50-88h0m-82 56h0m-11 177h0m37-182h0m-32 86h0m50 36h0m72-222h0m-180 259h0m42-116h0m42 81h0m2-33h0m-40-130h0m19 57h0m29-50h0m-37 170h0m-31 61h0m33-24h0m-21-65h0m28-166h0m-44 111h0m69 22h0m14 44h0m-36-8h0m0 121h0m-47-138h0m34 3h0m100 9h0m-185 37h0m105-118h0m25 105h0m-85 75h0m43-89h0m3-5h0m-30-123h0m45-67h0m-33 130h0m23 41h0m-33 84h0m-20-136h0m69-9h0m38 73h0m-24 49h0m-56 20h0m9-181h0m61-79h0m-49 167h0m-26-77h0m65 155h0m-51 46h0m-2-8h0m72-129h0m-52 125h0m23-121h0m-15 126h0m-16-57h0m11-19h0m22-48h0m-4 62h0m35 5h0m-21-133h0m50 97h0m-92-30h0m13 18h0m66-12h0m-66-17h0m55-83h0m-15 101h0m-122 118h0m20-58h0m75-92h0m-55-20h0m67 73h0m-67 66h0m40-62h0m1-121h0m-23 132h0m1 2h0m18-41h0m-6 48h0m-66-49h0m78-14h0m5 134h0m15-31h0m-10-53h0m27-57h0m-51 66h0m34-120h0m-17 64h0m-41 74h0m70-24h0m-70-42h0m52-58h0m-40 88h0m-6 23h0m-29 9h0m32-35h0m38-41h0m62-87h0m-81 176h0m1-58h0m-31-8h0m56-29h0m-10 16h0m-41 12h0m-13 75h0m-12 39h0m57-101h0m-34 28h0m33-153h0m61-27h0m-10 125h0m-2 63h0m39-129h0m-107 111h0m0-16h0m1 49h0m115-199h0m-174 223h0m60-12h0m-149 69h0m40 6h0m33-50h0m-35 22h0m-6-5h0m-25 11h0m59-45h0m38 25h0m-63 1h0m34 15h0m-58-24h0m61 39h0m-53 1h0m36-84h0m-45 78h0m111 6h0m-93 15h0m89-20h0m-62-13h0m2-31h0m62 63h0m-16-31h0m-7 37h0m101 3h0m-197-64h0m98 44h0m-20-15h0m-82 3h0m187 20h0m-190-55h0m198 52h0m-177-2h0m11-56h0m29 54h0m70-61h0m11 35h0m-29 27h0m-10-50h0m-20-25h0m70 70h0m-70-11h0m8 4h0m-96-19h0m47 25h0m147-68h0m-8 41h0m-155 11h0m160-34h0m-157 56h0m82-5h0m-51 20h0m-38-21h0m-26-34h0m117 41h0m-72 8h0m209-111h0m-248 83h0m144-58h0m-53 48h0m50 22h0m-136-26h0m51-3h0m-30 46h0m79-23h0m-48-17h0m86 5h0m-75-40h0m-30 53h0m8-5h0m66 23h0m-13-44h0m-80 20h0m52 0h0m-15 40h0m-20-85h0m56 93h0m18-47h0m-87 32h0m98-325h0m43-2h0m-25 10h0m102 11h0m-103-38h0m22-38h0m61 78h0m-38 38h0m37-80h0m-28 17h0m-2 57h0m53-89h0m28-25h0m-91 158h0m39-50h0m-22-26h0m-33 38h0m19-78h0m-53 106h0m0-125h0m81 41h0m51 23h0m-57-55h0m8-25h0m-53 110h0m42-99h0m-37 40h0m39 13h0m21-124h0m-4 43h0m-49 78h0m62-29h0m-98-8h0m66 126h0m-62-114h0m22 64h0m52-50h0m-10 68h0m-25-106h0m13-4h0m8 82h0m-24 2h0m65 36h0m-64-49h0m47 9h0m6-13h0m-10 17h0m-9-13h0m-8-25h0m-86 0h0m76-19h0m-20 70h0m8-137h0m-11 84h0m72 16h0m-29-33h0m-45-41h0m49 63h0m-55 2h0m75 34h0m247 94h0m-75-41h0m-2 37h0m-127 58h0m86-135h0m23 136h0m-28-75h0m105-125h0m-91 93h0m-26 32h0m73-48h0m59 39h0m-163 45h0m20-111h0m-40 192h0m153-73h0m75-76h0m-68 76h0m-88-71h0m111 12h0m-139 2h0m26 168h0m-19-178h0m-16 8h0m68 1h0m-33-166h0m86 255h0m-78-120h0m139-75h0m-68 94h0m-98-34h0m60 53h0m62-161h0m-171 250h0m-104-188h0m208 171h0m-189-84h0m252-100h0m-143 135h0m173-103h0m-57 35h0m-116 99h0m-28 71h0m-14-56h0m-45 8h0m159-138h0m131-22h0m-152-19h0m-12 131h0m99-31h0m-216-27h0m101 132h0m-118-104h0m168-11h0m-37-35h0m51 23h0m-27 40h0m-16-21h0m123-6h0m-91 11h0m43-132h0m-187 207h0m-20-68h0m176-9h0m-70-30h0m-77 48h0m66 11h0m114-85h0m-121 122h0m160-100h0m-138 29h0m-12-42h0m110-9h0m118 42h0m-125 172h0m-105-184h0m-66 96h0m139-108h0m-8 66h0m-64-1h0m86 64h0m14-126h0m-119 66h0m9-21h0m117 18h0m2-103h0m-40 64h0m115 94h0m-28-77h0m-66 10h0m-161 80h0m116-94h0m161 138h0m-168-218h0m18 136h0m56-78h0m-42-47h0m27-107h0m-88 145h0m23 58h0m63 17h0m110-96h0m-212 86h0m-14-50h0m80 80h0m-47-18h0m20 28h0m61-202h0m-11 48h0m-4 58h0m-1-84h0m123 45h0m-147 152h0m115-121h0m-170 3h0m48 146h0m15-126h0m10 84h0m-11-20h0m-150-32h0m141-94h0m75-122h0m-25 201h0m-14-35h0m74 218h0m-104-241h0m-128 254h0m184-111h0m-22-38h0m43-145h0m-199 241h0m209-315h0m-124 174h0m39 28h0m9-7h0m-116-90h0m240-5h0m-143-20h0m39 58h0m7 8h0m79 47h0m-152-41h0m41-101h0m-66 116h0m-24 180h0m60-189h0m-40 77h0m-4-123h0m140 116h0m-175-11h0m248-156h0m-143 213h0m44-74h0m89-72h0m-51 122h0m-223-93h0m105-23h0m-36-71h0m-18 199h0m89-73h0m-27-16h0m-22 142h0m79-271h0m-50 152h0m-11-23h0m-12-123h0m110 105h0m-140 33h0m58-40h0m-30-74h0m62 105h0m24-11h0m-76 21h0m104-64h0m-52 29h0m-21-86h0m27 139h0m-67 19h0m-1-72h0m-61 0h0m142-121h0m-69 46h0m195 38h0m-253 12h0m83 59h0m169-16h0m-221 39h0m102-128h0m-46 145h0m-90-12h0m80-70h0m-36-77h0m93 32h0m155 88h0m-169 94h0m44-225h0m-53 177h0m-81-66h0m-157 13h0m115-15h0m61 35h0m48-73h0m-93 98h0m128-95h0m40-53h0m-14 61h0m75 55h0m-279-88h0m218 28h0m-71-14h0m-24 134h0m30-144h0m-3 62h0m-123 4h0m150-30h0m-125 84h0m242-118h0m-263 74h0m39-46h0m-8 19h0m30-65h0m119 45h0m87-13h0m-78 22h0m-124-44h0m90 33h0m-81 69h0m35-96h0m82-36h0m-42 137h0m-317-366h0m64-1h0m-62-21h0m47 20h0m39 38h0m-55-7h0m-44 23h0m9-47h0m12-10h0m76 13h0m-109 21h0m60-5h0m11-28h0m-130 4h0m59 41h0m43 7h0m163-8h0m5-57h0m-186-3h0m-54-6h0m144 13h0m-79 37h0m-5 26h0m103-22h0m31-5h0m-96 15h0m56-66h0m4 64h0m-217 27h0m156-17h0m-86-32h0m31-28h0m62-16h0m-19 57h0m-47-48h0m85 54h0m22-39h0m-85 51h0m83-28h0m-42-13h0m25 24h0m-37-12h0m-92-11h0m192 10h0m-191-19h0m94 51h0m132-39h0m-147 4h0m-62 32h0m-6-16h0m48-47h0m51 73h0m-100-39h0m34 23h0m-50-63h0m70-1h0m87-5h0m-59 26h0m60 0h0m-76 59h0m54-11h0m50-21h0m-72-58h0m-131 34h0m130 41h0m-68-39h0m183-21h0m-146 27h0m-33 43h0m-57-48h0m-6-11h0m208-35h0m-208 54h0m131-20h0m6 15h0m-54 7h0m104-34h0m-24 39h0m-68-27h0m35 41h0m-82-1h0m62 2h0m16-27h0m-4 22h0m-107-17h0m1440 458h0m0-92h0m-73 54h0m-6 18h0m123-56h0m-69-12h0m21 16h0m70-18h0m-65 31h0m66-1h0m-78-2h0m-5 39h0m-12-23h0m15 17h0m-19 29h0m-16-81h0m40 62h0m61-15h0m-34-4h0m-101 4h0m106 27h0m33-43h0m-31-23h0m-76-14h0m72 16h0m-74 47h0m41-5h0m83-8h0m-62-60h0m74 24h0m-53-25h0m36 15h0m-152 12h0m124 32h0m-78-20h0m-20 27h0m91-63h0m25 79h0m-2-77h0m-139 61h0m8-50h0m59 54h0m-11-47h0m80 9h0m-74-28h0m-19 73h0m-53-26h0m55 15h0m-9-19h0m81 50h0m-102-48h0m96-53h0m-97 22h0m16 25h0m-24 13h0m85-48h0m-3 88h0m-5-53h0m-29 20h0m125-4h0m-123 11h0m38-9h0m-26-56h0m71 23h0m-139 6h0m30 38h0m75-67h0m29 34h0m-28-13h0m-89 5h0m88 71h0m15-53h0m17 28h0m-74-78h0m-43 29h0m107 13h0m-57-30h0m73 64h0m-30 18h0m29-47h0m-79 56h0m81-48h0m-43-50h0m19 21h0m-94-2h0m67 5h0m-30 20h0m-46 5h0m-26-11h0m116 10h0m-116-1h0m177-16h0m-127 50h0m114-3h0m-75-64h0m-70 45h0m7 4h0m-2-24h0m102 22h0m-68-6h0m117 19h0m-89-80h0m36 1h0m67 46h0m-59 52h0m4-72h0m49 4h0m-108 19h0m-23 43h0m38-86h0m-29 72h0m84 12h0m-149-35h0m181 9h0m6 9h0m-138 16h0m49-81h0m-19-11h0m-64 71h0m98-14h0m-52-17h0m23 58h0m25-4h0m3-59h0m-85 19h0m45 18h0m40 9h0m-74 9h0m32-77h0m19 6h0m2 79h0m-13-77h0m68 16h0m-29 49h0m-65-63h0m-30 47h0m134 11h0m40-42h0m-55 23h0m-8-30h0m-77-23h0m5 45h0m81-40h0m-51-5h0m21-9h0m-87 65h0m45 34h0m52-25h0m48-21h0m-89 16h0m-61 14h0m104-65h0m-83 16h0m115 31h0m1 12h0m-8-21h0m-47 9h0m-5-29h0m37 53h0m-3-85h0m-53 40h0m-21-39h0m-51 32h0m78 22h0m83-42h0m-77 61h0m-69-55h0m25 35h0m102 28h0m-77-85h0m-51 37h0m-2-8h0m140 21h0m-98-7h0m79-36h0m25 87h0m-74-79h0m46 72h0m-89-72h0m89-12h0m-112 57h0m91 2h0m-21 28h0m0 5h0m-6-46h0m1-51h0m-5 24h0m-2-20h0m0 36h0m80-6h0m-14 30h0m-28 22h0m-3-81h0m-58 93h0m21-55h0m-25 43h0m47-34h0m70-35h0m-14 64h0m3-25h0m-19-42h0m-22 30h0m-49-31h0m38 56h0m-102-17h0m22-17h0m120 65h0m-129-63h0m83 66h0m76-17h0m-148-4h0m104-79h0m-52 52h0m-46-39h0m30 40h0m-13 0h0m125-6h0m-102 24h0m102-38h0m-109-6h0m88 39h0m-128-37h0m86 58h0m6-18h0m-60 21h0m61-28h0m-66-3h0m7-19h0m124 5h0m-150-4h0m8 33h0m-4 0h0m51-32h0m23 62h0m3-85h0m-55-7h0m63 84h0m-115-70h0m11 28h0m144-41h0m-1 27h0m-59 22h0m89-2h0m-81 1h0m-53-48h0m29 11h0m9 0h0m-20-18h0m31 24h0m-27 67h0m-40-10h0m44-53h0m-10 18h0m-14 11h0m87 30h0m-67-33h0m-54-7h0m146-36h0m-126 20h0m59 2h0m88 19h0m-22-36h0m-126 33h0m15 20h0m39 14h0m93-48h0m-84 1h0m44 36h0m-34 18h0m-58-14h0m99-32h0m-23 28h0m-7 11h0m-122-28h0m61-7h0m96-27h0m-67 52h0m6-22h0m16 46h0m-107-59h0m140-9h0m-120 45h0m101-3h0m13 1h0m-20-45h0m-63 63h0m-18-54h0m71-24h0m41 23h0m31-4h0m-114 5h0m104 36h0m-61-78h0m-90 33h0m114 1h0m-74 9h0m111 18h0m-63 14h0m1-17h0m20 2h0m25-7h0m-100-38h0m-6 23h0m6 18h0m57-23h0m-29 39h0m-80 0h0m143 6h0m-88-74h0m5 83h0m-29-18h0m26 26h0m-67-33h0m55 14h0m49-34h0m90 4h0m-67 20h0m-67-5h0m23 3h0m50-56h0m-82 51h0m121-15h0m-13 15h0m-96-20h0m37 53h0m-84-46h0m149-28h0m-60 74h0m48-73h0m-68 18h0m-1-32h0m94 52h0m-8 13h0m-160-35h0m18-6h0m122 52h0m-31 4h0m-52 4h0m87-41h0m-35-5h0m-104 18h0m105-57h0m-27 19h0m-17 40h0m-25-29h0m39 5h0m-20 25h0m43-59h0m-25 93h0m-28-35h0m127-30h0m-88-3h0m-44 15h0m73 13h0m-113 18h0m73-71h0m-16 94h0m67-2h0m-82-88h0m92 84h0m-98-82h0m109 69h0m-111-7h0m72-72h0m3 29h0m-30 53h0m-71-56h0m59 5h0m46 58h0m34-24h0m-58 3h0m-50 4h0m96 4h0m-59-15h0m-3 7h0m-75-17h0m66 41h0m-26-64h0m-25 54h0m111-62h0m-2 2h0m36 19h0m2 11h0m-153 28h0m57-25h0m36 41h0m-23-41h0m44 45h0m45-47h0m-108-46h0m-43 10h0m60 44h0m-72-9h0m151 34h0m-77-36h0m-10-53h0m88 80h0m-41-58h0m-118 40h0m28-5h0m99-19h0m24 56h0m-69-14h0m-27-2h0m-42-25h0m-11 6h0m18-4h0m106 19h0m-56-5h0m23-27h0m-40 8h0m55-15h0m24 44h0m-51-21h0m69-29h0m-18 13h0m8 52h0m-64-85h0m-88 35h0m121 34h0m-80 4h0m100-33h0m-36-39h0m-83 31h0m79 2h0m63 35h0m-21-8h0m-78-7h0m-22 35h0m32-33h0m70 12h0m-90-21h0m6-28h0m87-16h0m-111 37h0m82 48h0m-64-42h0m41 35h0m-16-22h0m110-21h0m-176 28h0m37-6h0m133-33h0m-130 18h0m-3 8h0m-8 21h0m24-38h0m-55 10h0m17 37h0m2-68h0m98 91h0m-96-59h0m-23-19h0m109 8h0m-77 5h0m132 87h0m-70-106h0m5 4h0m9 49h0m113-54h0m-145-3h0m84-4h0m16 104h0m-211-27h0m281-37h0m-165 72h0m-11-80h0m-49 28h0m157-54h0m-35 49h0m52-23h0m-163 13h0m86-19h0m-99 34h0m-45-68h0m103-7h0m44-10h0m-49 77h0m108-48h0m-75 77h0m-77-31h0m137 28h0m-84-28h0m-46 7h0m80-41h0m139 44h0m-227-23h0m93-40h0m-98 67h0m58-30h0m78-8h0m-177-32h0m94 35h0m-17-26h0m-96 24h0m153 20h0m14 101h0m-126-135h0m94-68h0m37 87h0m175 1h0m-231 3h0m-9-25h0m93 38h0m-54-23h0m-156-8h0m-25-6h0m183 14h0m-19 70h0m33-22h0m-62-51h0m-75 69h0m178-59h0m-48 12h0m64 10h0m-103-59h0m-166-49h0m156 134h0m-34-54h0m94 70h0m-209-67h0m131 37h0m7-97h0m-139 2h0m137 23h0m-68 116h0m-9-87h0m191 12h0m-228 0h0m141 51h0m-56-110h0m30 16h0m42 67h0m-19-26h0m-82-51h0m108 106h0m36 39h0m-128-174h0m67 91h0m-56-82h0m156 0h0m-60 104h0m57-34h0m-27-7h0m-14 60h0m-55-117h0m33-48h0m68 91h0m-138 61h0m102-19h0m-104 9h0m51-41h0m-66 31h0m3 32h0m-74-88h0m140-27h0m119 12h0m-175 37h0m56 69h0m-43-72h0m122 19h0m-36 2h0m-92-25h0m-34-7h0m82 28h0m44 6h0m-27-37h0m-145 72h0m243-50h0m-65-23h0m-127 49h0m126 7h0m18-19h0m-89 1h0m-53-18h0m-55-31h0m174 24h0m-218-22h0m218 40h0m-62 25h0m88-34h0m-65 88h0m26-97h0m-102 3h0m141-60h0m-37 62h0m0 23h0m-157-26h0m-30 13h0m87 41h0m-75-24h0m60-30h0m-51 89h0m105-67h0m179-69h0m-170 31h0m-13 19h0m56 44h0m-31 17h0m-28-94h0m-98 81h0m96-14h0m76-53h0m41 63h0m25-1h0m-199-5h0m91-77h0m53 45h0m-33 73h0m64-79h0m-41 55h0m-41 2h0m30-58h0m59 8h0m-134-5h0m-94 55h0m42-111h0m110-13h0m-44 111h0m45-14h0m-46-50h0m42 66h0m-25 7h0m-168-72h0m-15 19h0m199-32h0m-51 45h0m-19-6h0m127 9h0m6 17h0m-112-14h0m103-24h0m-113 68h0m107-22h0m-98-32h0m66 23h0m34-58h0m2 4h0m-132 20h0m30 58h0m124 41h0m-135-75h0m143-72h0m-36 138h0m12-100h0m-76 34h0m-42-45h0m131 6h0m-7-8h0m-132-46h0m-122 158h0m132-86h0m107-40h0m-61 98h0m58 14h0m-67-115h0m10 78h0m-74-32h0m71 96h0m-45-114h0m34 6h0m17 4h0m-92-7h0m-49 92h0m236-69h0m-84 30h0m8-60h0m-85 65h0m44-15h0m-10 18h0m18-25h0m51-86h0m24 128h0m-99-113h0m62 28h0m-98 94h0m62-101h0m-84 56h0m116 0h0m-105-41h0m80 11h0m6 2h0m-8 20h0m49 42h0m-49-127h0m105 20h0m-84 104h0m27 5h0m-44 34h0m37-148h0m14 51h0m25-15h0m-16-22h0m-80 45h0m101-27h0m-58 74h0m-152 17h0m122-52h0m145-10h0m-87 50h0m53 2h0m-169-35h0m-67-65h0m92 38h0m-21-19h0m183-22h0m-95 2h0m-17 17h0m-164-48h0m233 132h0m-117-57h0m50-56h0m-64-4h0m-11 67h0m22 70h0m76-93h0m-32 5h0m-82 80h0m49-85h0m130 12h0m-34-96h0m-25 61h0m-88 82h0m174-129h0m-34 81h0m-148 54h0m29-65h0m-8 14h0m-23 53h0m176-81h0m-188 31h0m-9 10h0m74-4h0m-71 12h0m-95-178h0m56 12h0m50-6h0m-93 17h0m44 10h0m91 21h0m-85-71h0m13 22h0m-50-38h0m96 16h0m-6 58h0m-99-19h0m43-53h0m-28 46h0m80-25h0m-59 50h0m-10-49h0m-56 32h0m41-40h0m12 6h0m171 6h0m-109-21h0m5 47h0m-62 54h0m-29-95h0m12 29h0m75-1h0m-78-25h0m121 15h0m6 10h0m-107-8h0m44 34h0m-44-9h0m-46-61h0m-16 33h0m47 34h0m16-33h0m2-29h0m-47 96h0m92-95h0m-91 51h0m38-27h0m63-14h0m-104 43h0m16-8h0m140-45h0m-95 37h0m10-1h0m31-15h0m-85 25h0m59-57h0m26 41h0m12 11h0m-112-11h0m97 40h0m-43-11h0m75-10h0m6 10h0m-120-54h0m6 84h0m101-74h0m-61 85h0m-40-59h0m24 24h0m27 8h0m12-21h0m-69-3h0m22 43h0m42-50h0m-8 1h0m-28 16h0m19-43h0m46 46h0m12-33h0m-10 55h0m-14-31h0m-35-57h0m-49 43h0m104 17h0m-80-9h0m21-27h0m4 45h0m-55-36h0m55-17h0m-45 42h0m155-11h0m-134 43h0m34-99h0m-35-1h0m11 97h0m118 52h0m-52-103h0m-82-2h0m-22-15h0m72 30h0m-8-8h0m-84 20h0m75 7h0m7-51h0m40 51h0m-61-2h0m36-34h0m-11-8h0m56 9h0m-20 64h0m-45-32h0m71-73h0m33 71h0m-167-13h0m168-1h0m-38 27h0m-102-20h0m120-33h0m-82 7h0m-32 10h0m265 134h0m74 56h0m-34-4h0m45-47h0m-83 26h0m104 18h0m-34-81h0m76 97h0m-34-35h0m30 4h0m135-10h0m-134 28h0m1-74h0m-8 39h0m-91 36h0m22-15h0m-2 6h0m132-41h0m-139 50h0m-6 4h0m83-56h0m-62 64h0m92-34h0m-41 27h0m-54-21h0m70 28h0m-54-43h0m41-1h0m-33 22h0m-16-24h0m49 12h0m-41-6h0m-54-19h0m32-10h0m144 91h0m-114-62h0m7-8h0m-28 36h0m71-62h0m-20 13h0m27 2h0m-21 0h0m-33 32h0m57-50h0m-80 16h0m-74 30h0m95-15h0m-38 58h0m-5-124h0m34 82h0m-46-12h0m-80-3h0m153-19h0m-75-4h0m37 60h0m41-47h0m-39 39h0m-11-47h0m93 25h0m35-7h0m-104 19h0m32-11h0m-74-20h0m12 5h0m132-12h0m-53 38h0m-130 17h0m115-19h0m-2 18h0m12-47h0m-65-5h0m-10 0h0m65 51h0m-28 2h0m86-10h0m-179-92h0m176 87h0m-161-35h0m106 20h0m-98-1h0m-12-5h0m135 14h0m-77 10h0m162-25h0m-117-33h0m43-5h0m-65 71h0m52-117h0m-90 23h0m33 27h0m164 75h0m-209-42h0m68 36h0m86-9h0m-172-107h0m-18 56h0m150-5h0m33 60h0m-78 1h0m-51 6h0m52-46h0m-57-42h0m30 73h0m-5-27h0m137 94h0m-199-46h0m86-36h0m-51-7h0m73 19h0m-57-27h0m79 58h0m-70-28h0m76-4h0m-108-10h0m66-32h0m-2 31h0m-50 47h0m66-71h0m58 16h0m-143-25h0m135 0h0m-48 46h0m-59 8h0m105-23h0m-68 21h0m5 19h0m45-35h0m-35-14h0m29-9h0m-46-15h0m158 44h0m-152 5h0m-112 28h0m2-24h0m81 4h0m67-14h0m24-16h0m-50 0h0m-60-22h0m69 79h0m-79-63h0m9 26h0m-85-7h0m83-33h0m63 34h0m3 29h0m-110-3h0m126 38h0m55-55h0m-216-7h0m226 16h0m-104-59h0m8-6h0m-55 30h0m78-7h0m-31 18h0m22 18h0m14-26h0m-21-10h0m-90 2h0m78-41h0m52 68h0m-153-40h0m44-36h0m-55 77h0m-17 51h0m222-18h0m-59-11h0m54-62h0m17 6h0m-134-371h0m-20 231h0m-1499 1171h0m-101 14h0m31-73h0m43 118h0m-11 103h0m-49-23h0m54-182h0m40 96h0m-48 113h0m16-104h0m-22-60h0m-36 145h0m79-76h0m-8 42h0m-33 46h0m-16-194h0m12 176h0m16-47h0m3-113h0m14 72h0m-78-122h0m-4 76h0m6 40h0m-5 56h0m90 13h0m-71-34h0m10-90h0m-26 119h0m35-172h0m-18 3h0m27 186h0m59-97h0m-102 84h0m64-59h0m-14-144h0m40 121h0m-46-88h0m-29 108h0m-3 21h0m57-50h0m3-36h0m24 4h0m-81 153h0m46-219h0m-41 41h0m73 88h0m-95-33h0m85-92h0m-69 95h0m13 32h0m-32-111h0m93 4h0m10 24h0m-81 52h0m26-34h0m20 127h0m-20 1h0m-21-212h0m6-8h0m-7 97h0m40 145h0m-12-24h0m-41-188h0m73 182h0m-46-7h0m-21-94h0m41-66h0m-19 97h0m61-28h0m-101-6h0m54-125h0m2 79h0m-23 27h0m50 140h0m8-58h0m3-53h0m-92-28h0m26 165h0m24-83h0m-52-82h0m-6-8h0m27 52h0m48-14h0m-26 13h0m44 79h0m-61-206h0m1 104h0m-35 34h0m4 7h0m23 41h0m16-134h0m34 18h0m-38 136h0m-32 4h0m40 23h0m-27-200h0m-4 7h0m0 94h0m74-117h0m-39 224h0m8-2h0m-28-14h0m9-7h0m21-231h0m-41 25h0m28 199h0m7-233h0m46 185h0m-59-86h0m-15 11h0m29 173h0m-33-46h0m77-56h0m2-3h0m-59 33h0m25-75h0m-42 6h0m30-119h0m22 142h0m-4-100h0m-77 89h0m116 12h0m-91 24h0m83-23h0m-30-55h0m-71 71h0m28-127h0m51 48h0m27 52h0m-67 80h0m19-139h0m47-11h0m-19-35h0m-75 20h0m15 21h0m65 89h0m-81 43h0m57-48h0m-44 68h0m34-128h0m-19-112h0m11 131h0m-14-80h0m25 73h0m-44-65h0m60-13h0m-4 56h0m-70-46h0m75 31h0m-20-69h0m47 107h0m-18-68h0m-14 196h0m-6-228h0m28 195h0m-22-47h0m-75-93h0m33-19h0m56-31h0m-65 14h0m-10 203h0m71-167h0m-57-39h0m38-16h0m-22 153h0m-45-58h0m79 38h0m31-41h0m-10-48h0m-55 99h0m-7 97h0m0-206h0m-14 178h0m38-133h0m-45-33h0m7 65h0m-23 12h0m65 62h0m-6 4h0m-46 20h0m6-141h0m46-69h0m26 204h0m-12-139h0m-64-40h0m5 127h0m1-19h0m64 92h0m-2-161h0m-12-71h0m-14 113h0m39 0h0m-46 18h0m-35 34h0m-4-33h0m40 46h0m27 66h0m-67-139h0m66-7h0m-64-56h0m7 52h0m63 58h0m-42-66h0m7-10h0m51 15h0m-16 46h0m-37 10h0m41-33h0m-14-55h0m1-16h0m-47 204h0m49-85h0m-47-20h0m0-103h0m41-24h0m-73 153h0m39-93h0m33 156h0m3-219h0m12 122h0m-49-134h0m-6 110h0m18-33h0m35 169h0m-20-137h0m27 45h0m-22-105h0m-7 128h0m-52-30h0m57-5h0m12 103h0m16-223h0m-14 162h0m-23-77h0m-18-22h0m4-50h0m48 111h0m19-21h0m-104 5h0m63 111h0m-25-44h0m-20-118h0m19 70h0m-17-126h0m5 84h0m11 32h0m19 116h0m33-101h0m-86-57h0m45 165h0m15-79h0m-17 9h0m57-21h0m-65 53h0m25-9h0m-41-37h0m28 30h0m44-99h0m-77-34h0m16 179h0m-22-228h0m23 74h0m46-48h0m-8-62h0m-41 78h0m-25 60h0m25-69h0m-9 142h0m13-27h0m38 39h0m15-39h0m-38-100h0m-13 159h0m64-59h0m-46-100h0m0 158h0m-47-107h0m23-3h0m-7-42h0m21-59h0m33 167h0m-64 19h0m-7-187h0m2 76h0m92-39h0m-59 74h0m49-95h0m-62-18h0m20 61h0m10 1h0m-27 95h0m-24-76h0m30 13h0m33 76h0m19-152h0m16 128h0m-33-92h0m-16-91h0m35 105h0m-24 52h0m-9-84h0m15-18h0m22 77h0m-47-111h0m5 14h0m-53 142h0m97 21h0m-102-47h0m86 18h0m-51-141h0m65 181h0m-57 37h0m14-52h0m-31-92h0m13 28h0m34-57h0m-10 59h0m-42 99h0m-13-68h0m17 56h0m-1-35h0m20-14h0m14-45h0m23 103h0m-27-12h0m28-16h0m-48-52h0m27-124h0m11-21h0m-17 121h0m-4 117h0m28-72h0m-29 23h0m21-123h0m-25-26h0m59 79h0m-44 129h0m-16-136h0m-46 17h0m38 24h0m39-4h0m-51 97h0m57-195h0m15 64h0m-93 45h0m55 6h0m16-82h0m-66 77h0m5-68h0m20 50h0m-25 34h0m59-110h0m44 60h0m-69 30h0m42 75h0m-7 26h0m-18-173h0m-26 95h0m45-5h0m-78-102h0m41 137h0m22-11h0m43-11h0m-23-114h0m-4 170h0m-4-168h0m28 28h0m-41-5h0m-14 136h0m16 17h0m-45-28h0m54-46h0m-37-50h0m70-51h0m-27 43h0m-14 11h0m-38 48h0m-16-107h0m-9 108h0m71 31h0m15-41h0m-73 60h0m69-138h0m-47-9h0m41-65h0m8 117h0m-41-16h0m-7-24h0m11-71h0m-25 127h0m22-147h0m4 121h0m-19-117h0m15 240h0m-31-129h0m46 1h0m24 65h0m13-130h0m-84 147h0m70-139h0m-34 101h0m23 2h0m-1-115h0m-23 77h0m21-3h0m-24 138h0m52-110h0m-32 69h0m43-53h0m-60-151h0m-22 30h0m68 127h0m-34-180h0m-53 108h0m18-70h0m-19 177h0m41-136h0m40 49h0m-18-89h0m-29-8h0m43 42h0m3 103h0m2-146h0m-4 26h0m17 107h0m-60 16h0m-39-34h0m39-33h0m13 106h0m-41-30h0m47-165h0m-7 144h0m-3-111h0m-9 29h0m37-31h0m-73 16h0m58-60h0m-61 89h0m21 141h0m51-73h0m-29-113h0m-10 220h0m61-116h0m-9 0h0m-11 79h0m-14-198h0m-41 73h0m40 4h0m-11-15h0m14 71h0m10 27h0m4-125h0m-43 74h0m-39 48h0m22-136h0m3 99h0m-27 18h0m92-96h0m-17-12h0m5 28h0m-51 106h0m64-159h0m7 90h0m-73 106h0m65-121h0m-50 81h0m1 71h0m68-101h0m-62-58h0m-6-21h0m53-36h0m-22-48h0m33 166h0m-83-62h0m37 24h0m0 108h0m-34-87h0m-10-16h0m46 71h0m0-206h0m11 233h0m9-106h0m-78-36h0m22 115h0m14-91h0m46 15h0m-7 9h0m-80-44h0m116 31h0m-100-25h0m73 0h0m-77 60h0m41-28h0m-49 65h0m43-164h0m46 85h0m-20-104h0m-41 142h0m35 83h0m-30-71h0m-7 18h0m32-86h0m-14 134h0m-17-117h0m43-30h0m-19 161h0m3-137h0m9 88h0m-8-132h0m-33 184h0m11-208h0m-17 23h0m15 128h0m-31-25h0m68 11h0m-6-182h0m-7 83h0m0 108h0m-6-28h0m9 107h0m19-92h0m-16-154h0m-59 151h0m30-91h0m-7-18h0m17-39h0m-12 72h0m81 68h0m-29-90h0m11 144h0m-67-172h0m19 90h0m13-15h0m-40 43h0m43 54h0m3-31h0m-25 9h0m10-169h0m56 125h0m-54-152h0m-28 199h0m82-14h0m-8 44h0m-29-134h0m-20-52h0m40 40h0m5-28h0m-27 115h0m-68 21h0m50-135h0m-38 51h0m29-49h0m-20 166h0m-1-103h0m-13 117h0m11-40h0m61-16h0m-44-217h0m-15 156h0m-22-74h0m69 92h0m27 36h0m10-14h0m-55-7h0m39 61h0m-9-113h0m-65 117h0m81-160h0m-39 3h0m2 246h0m-17-202h0m11-3h0m17-89h0m14 65h0m19 76h0m-53 23h0m82 78h0m-108 0h0m25-102h0m-7-42h0m36 43h0m6-56h0m-62 8h0m23 62h0m81-18h0m0 61h0m-32-213h0m-52 139h0m14-153h0m11 299h0m42-122h0m-33-22h0m-103 43h0m119-158h0m54 177h0m-70 53h0m-57-122h0m-20 83h0m75 107h0m11-216h0m-108 7h0m66 22h0m-7-22h0m25-22h0m-37 30h0m-27-165h0m57 104h0m-56 67h0m58 113h0m-22-103h0m14-48h0m-44-106h0m-20 68h0m36 45h0m-37 63h0m86-120h0m-42 63h0m52 130h0m-1-38h0m26-2h0m-40-11h0m29-30h0m2-56h0m-82 40h0m64 167h0m-29-246h0m-62 9h0m56 40h0m26 35h0m-35-24h0m-26-29h0m59-87h0m-23 77h0m15 109h0m-7 28h0m-17-49h0m-15-158h0m-4 107h0m60 171h0m-4-97h0m-49 85h0m8-145h0m100 84h0m10-122h0m-69-50h0m-1 47h0m37 94h0m-118-73h0m36 37h0m70-103h0m-49 150h0m-26-88h0m9 117h0m56-174h0m12 221h0m-54-103h0m35 29h0m63-47h0m-97 9h0m8-164h0m37 170h0m-66-94h0m-29 83h0m73 0h0m26-33h0m-82 25h0m105 105h0m-61 42h0m-36-197h0m22 209h0m-99-140h0m116-97h0m14-86h0m-7 81h0m-38 100h0m24-64h0m5-17h0m50 87h0m-39 85h0m61-234h0m-67 23h0m19 51h0m-51 25h0m71-56h0m-30 56h0m-27 32h0m81-45h0m-60 66h0m-68-53h0m81 51h0m-18-109h0m-17 126h0m-14 29h0m43 54h0m-77-131h0m1-88h0m137 148h0m-62-143h0m-13 124h0m50-201h0m-55 68h0m88 222h0m-83-153h0m55 158h0m-72-57h0m28-57h0m-69 149h0m53-254h0m-49 208h0m64-45h0m-7-188h0m-12 47h0m-34 76h0m14 14h0m33-67h0m-40 20h0m75 107h0m6-155h0m-81 87h0m33 35h0m18-168h0m-7 236h0m-13-126h0m6-122h0m25 161h0m6-78h0m-61-41h0m22 82h0m28-74h0m-51-17h0m9 163h0m54-67h0m9 33h0m-61 18h0m-31-111h0m57 59h0m-34-28h0m-16-37h0m147 112h0m-68 49h0m-97-37h0m31-175h0m7 124h0m63 79h0m-36 12h0m-83-110h0m16-193h0m54 181h0m28 4h0m-57-19h0m-75-61h0m104 59h0m-51-1h0m36 50h0m44-44h0m2-29h0m-46 88h0m7 31h0m47-107h0m51 106h0m-106-152h0m17 99h0m31 24h0m0-148h0m-47 115h0m53-4h0m-21-71h0m35 87h0m-96-29h0m42 35h0m85-109h0m-24-3h0m-55 8h0m1 181h0m69-16h0m-72-6h0m-53-80h0m31-159h0m16 67h0m57 31h0m0 54h0m-4 71h0m11-125h0m-103 88h0m143 85h0m-90-11h0m-3-72h0m49 10h0m-53-17h0m50 96h0m14-66h0m-97 32h0m26-136h0m8 6h0m-64 57h0m18 76h0m67-204h0m6 158h0m-85 38h0m41-104h0m59-179h0m-67 273h0m49 71h0m10-130h0m32-22h0m-20-232h0m-120 349h0m136-52h0m-3-216h0m-31 38h0m-52 51h0m85-1h0m-6 150h0m-32-33h0m46-17h0m-26 27h0m-128 134h0m118-190h0m5-83h0m-43-23h0m2 217h0m-62-202h0m98 36h0m111-23h0m-78 88h0m-37 98h0m80 30h0m-68-142h0m6 94h0m-45-166h0m-47-54h0m69 243h0m10-127h0m-88 65h0m209 107h0m-154-13h0m4-138h0m6-127h0m80 84h0m-79 68h0m25-100h0m-69 49h0m-14-55h0m91 53h0m-6 2h0m-14-36h0m62 5h0m-56 231h0m57-238h0m-119 90h0m51 97h0m-38-66h0m14-113h0m88 199h0m-85-425h0m-31 50h0m-16-22h0m8-18h0m25-33h0m-11 20h0m-8-32h0m57-2h0m-40-12h0m-42 21h0m107 23h0m-45 22h0m-55-60h0m29 66h0m8-74h0m-8-14h0m12 8h0m-38-17h0m4 42h0m51 6h0m-34-3h0m10 4h0m-40 5h0m56-47h0m-79 82h0m56-55h0m-43 19h0m81-12h0m-28 98h0m16-81h0m-58 46h0m68-53h0m-7 31h0m27 11h0m-48-4h0m-10-62h0m-4 21h0m48 17h0m-20-29h0m6 7h0m-71 41h0m55 26h0m46-48h0m-95-73h0m43 28h0m41 63h0m-79-83h0m84 103h0m-15 14h0m-16-76h0m-10 26h0m-25-6h0m-69-35h0m80-38h0m14 55h0m71 71h0m-48-55h0m-92-32h0m51 71h0m-55-39h0m105 26h0m-70-25h0m44 41h0m-27-44h0m9-31h0m-14 64h0m5-43h0m-9-10h0m46 38h0m-9-4h0m-12 17h0m-24-35h0m-14 55h0m60-40h0m-10 21h0m9-3h0m-22-24h0m31 28h0m-19 14h0m-37-38h0m-10 37h0m56-36h0m-35-6h0m-68 32h0m102-9h0m-46-32h0m10 11h0m-6-28h0m80 8h0m-52 36h0m34 29h0m-51-21h0m38-9h0m-92-75h0m41 121h0m55-64h0m-28 14h0m-4 16h0m-24-40h0m17-29h0m-15 115h0m0 49h0m67-11h0m-62-4h0m35-50h0m30 53h0m-13-75h0m-48 124h0m1-13h0m40-66h0m-36-9h0m9-43h0m56 144h0m-36-73h0m-24-6h0m2 37h0m-7-37h0m67 46h0m-64-94h0m74 27h0m-64 26h0m33-15h0m-34 2h0m-24 42h0m21-25h0m-7 20h0m78-44h0m-56 18h0m43-14h0m-10 24h0m360 223h0m-46-19h0m-50 75h0m55 11h0m5-78h0m23 31h0m-37-34h0m28 62h0m-46-79h0m26 58h0m-9 35h0m-14-50h0m-15-1h0m65 14h0m-65 59h0m-16-52h0m61-86h0m19 6h0m-84 23h0m67 112h0m-6-144h0m-24 107h0m-49-16h0m56 2h0m-14-6h0m-36-32h0m17-19h0m91 33h0m-77 59h0m-6-98h0m-22 3h0m-10 29h0m124 15h0m-85 34h0m-14-83h0m29 16h0m-56 29h0m17-25h0m73 60h0m-25 10h0m-6-70h0m33 92h0m-84-75h0m73 40h0m-82-12h0m89-36h0m-50 54h0m24-81h0m8-23h0m-25 108h0m-18-84h0m38 26h0m22 41h0m-39-58h0m33-3h0m-65 88h0m62-108h0m-5 108h0m-38 19h0m28-75h0m-40-62h0m40 132h0m1-63h0m2 55h0m22-56h0m17 18h0m-44-6h0m33-68h0m-32 93h0m49-19h0m-10-4h0m1 13h0m22-48h0m-6 15h0m-44 47h0m-17-56h0m-9-20h0m39-27h0m-16 8h0m-49 64h0m39-73h0m-46 99h0m65-10h0m-42-15h0m1-29h0m-3-40h0m24 7h0m3 65h0m43 11h0m-56-13h0m-3 33h0m67-38h0m-88-15h0m34 33h0m-44 23h0m32-57h0m-19 60h0m34-88h0m-62 26h0m107-30h0m-53 109h0m41-21h0m17-8h0m-9-90h0m-29 78h0m-51 30h0m15-42h0m75-4h0m-75-84h0m39 137h0m-40-45h0m-6 12h0m33 10h0m-43-46h0m-6 13h0m26-21h0m46 46h0m-53-13h0m29 51h0m-51-103h0m48 62h0m-37-42h0m72-42h0m-36 45h0m2-60h0m-36 21h0m44 47h0m43-44h0m-33 73h0m-7 12h0m-42-95h0m28 63h0m-32 49h0m1 1h0m63-47h0m-15-84h0m10-2h0m-22-6h0m-35 66h0m0-13h0m27 7h0m15 33h0m-16 21h0m71-31h0m-60 18h0m40 30h0m-51-124h0m-4 13h0m-37 72h0m59 39h0m-20-129h0m44 70h0m-55 69h0m-12-46h0m62 2h0m-14 24h0m38-36h0m-52-8h0m-9 24h0m64-24h0m-15 51h0m-85 7h0m27-60h0m13-12h0m50-30h0m-46 38h0m-30-62h0m61 109h0m-89-42h0m58 30h0m24-87h0m38 62h0m-32 27h0m-40-35h0m30-64h0m-6 106h0m-56 19h0m64-84h0m-19 66h0m39 14h0m-71-46h0m-15-65h0m57-16h0m-44 142h0m-3-77h0m11 52h0m-41-55h0m55 82h0m41-123h0m-44 54h0m-36 18h0m76-87h0m-18 109h0m37 10h0m-22-114h0m-5 85h0m-40-72h0m1-15h0m37 69h0m-43-58h0m77 46h0m-5 60h0m-47-93h0m9 118h0m-52-76h0m35-35h0m-25 42h0m59 12h0m12-72h0m-25 124h0m-55-101h0m41-23h0m46 9h0m-19-18h0m-33 46h0m13-20h0m-5 46h0m-53-25h0m95-2h0m-28-52h0m-35 139h0m14-108h0m40 28h0m-47-33h0m-19-18h0m32 47h0m-2-6h0m13-13h0m-55 36h0m51-12h0m-30 27h0m97-132h0m-25 190h0m-26-101h0m8-66h0m-95 95h0m34 33h0m-13-151h0m33 142h0m-60-29h0m71 20h0m32-9h0m-67-93h0m59 62h0m13 86h0m-69-103h0m85 44h0m-107-22h0m32 83h0m-39-111h0m94 88h0m-27-80h0m-52-121h0m73 168h0m-28-92h0m-83 51h0m60 95h0m125-150h0m-139 128h0m78-2h0m-50-76h0m-14-51h0m-11 35h0m82 128h0m-38-174h0m-21 61h0m62-28h0m-36 55h0m20-30h0m36 53h0m-82-32h0m-13 76h0m58-78h0m89 42h0m-83 66h0m7-67h0m-94-80h0m80 48h0m-48 79h0m45 11h0m-46-142h0m8 109h0m-43-54h0m76 15h0m-7-158h0m3 203h0m-65-38h0m40-21h0m150-17h0m-205-27h0m26 49h0m48-32h0m91 56h0m-107-49h0m8-29h0m-18 19h0m44-15h0m-87 21h0m101 48h0m-69-29h0m-17-42h0m50 8h0m-53 20h0m42 52h0m-25-20h0m41 90h0m-13-232h0m8 69h0m3 70h0m-64-147h0m70 90h0m24-35h0m-105-4h0m69 173h0m-2-157h0m17-14h0m-24 173h0m-5-173h0m3 106h0m-70 7h0m73-163h0m20 72h0m-44 130h0m50-101h0m4 153h0m36-151h0m13 16h0m-133-41h0m-36 21h0m81 140h0m-8-162h0m33 61h0m33-67h0m-19 2h0m-54 118h0m-4-28h0m5 27h0m35-28h0m60-96h0m-40 81h0m-82-16h0m62-64h0m-37 143h0m7-157h0m123 182h0m-129-76h0m8-1h0m45 108h0m10-12h0m-31-161h0m4 30h0m-131 94h0m85 27h0m-31-135h0m139-17h0m-72 133h0m-49-33h0m55-102h0m-9 79h0m81 107h0m-68-170h0m2 46h0m-64-96h0m13 74h0m31 49h0m-9-49h0m66-69h0m-134 157h0m126-131h0m11 67h0m-87 79h0m-40-144h0m76 91h0m-1 11h0m-53-70h0m112-4h0m-89-17h0m25 21h0m-104-92h0m174 184h0m-97 4h0m-43-22h0m121-87h0m-88 61h0m95-62h0m-27 35h0m-93 92h0m145-186h0m-89 71h0m-96 34h0m79-56h0m-90 109h0m171-56h0m-224 47h0m263-58h0m-231-93h0m108 67h0m-16 30h0m72 125h0m-18-140h0m-69-108h0m138 97h0m-110-81h0m38 102h0m-84 43h0m220-58h0m-178 69h0m-35-71h0m156 4h0m-95-52h0m-102 48h0m81-71h0m-29 122h0m52 106h0m-68-226h0m83 63h0m13-29h0m-172 204h0m97-97h0m142-85h0m-209 57h0m146 21h0m-166-65h0m273-75h0m-63-19h0m956 108h0m-79 29h0m92-77h0m-114-7h0m23-12h0m75 26h0m-40 108h0m-33-45h0m38-117h0m3-2h0m16 95h0m21-43h0m-4 55h0m-8 53h0m-28-128h0m14 91h0m-14-52h0m-31-23h0m11 11h0m59 32h0m-49 64h0m47-49h0m16-19h0m2 38h0m-101 7h0m91-108h0m-38 130h0m-1-74h0m-2-55h0m3 127h0m-20 6h0m68-135h0m-104 69h0m27 14h0m43-93h0m48 45h0m-106 66h0m34-81h0m-16 67h0m46-103h0m-70 67h0m39 7h0m-37 66h0m52-119h0m-18 141h0m36-137h0m-66 114h0m-26-108h0m102 49h0m-23-87h0m13 49h0m-68-34h0m14 98h0m8 15h0m65 8h0m-20-6h0m-30-113h0m-36 52h0m70 69h0m18-88h0m-6-16h0m-16 79h0m19 3h0m-23-87h0m46 83h0m-25-84h0m-61 29h0m74 16h0m-13 71h0m-56-53h0m7-43h0m17 50h0m-63 14h0m21-79h0m78 106h0m1-3h0m-94-58h0m57-68h0m43 61h0m-40 79h0m-17 8h0m47-54h0m7-33h0m-55 52h0m-27 13h0m90-109h0m-68 96h0m79-61h0m-72 24h0m40 32h0m-3-117h0m-50 125h0m-24-22h0m36-59h0m-49 67h0m13 31h0m71-50h0m-23-51h0m16-43h0m-68 71h0m20-55h0m95 89h0m-100-35h0m-28-22h0m43 115h0m3-160h0m64 31h0m1 94h0m-92-8h0m33-6h0m19-5h0m22 48h0m-1-104h0m15 54h0m-72 20h0m20-107h0m17 68h0m7 53h0m30 7h0m-78 15h0m38-8h0m-18 16h0m86-86h0m-73 5h0m-28-37h0m53 3h0m-35-59h0m-13 140h0m40-6h0m-48 24h0m30-50h0m-4-112h0m15 130h0m-66-39h0m43-57h0m39 0h0m-30 68h0m-33 56h0m81-50h0m3 45h0m-7-17h0m-19-77h0m6-27h0m26 82h0m-25-41h0m11 1h0m-94 67h0m52-49h0m-18 37h0m87-65h0m-33-2h0m-40 32h0m45-46h0m-78-12h0m-37 25h0m73-7h0m0 74h0m-10-62h0m-21 99h0m-36-53h0m90 54h0m-32-42h0m27 21h0m8 26h0m-36-152h0m-61 64h0m100 23h0m-82 22h0m93-10h0m-34-62h0m-59 44h0m77-8h0m-5-36h0m-59 62h0m82-64h0m-90 80h0m31-52h0m61-60h0m-89 0h0m13 70h0m39 75h0m70-56h0m-55 46h0m37-76h0m3 28h0m-60-42h0m-10-26h0m-15 15h0m64-9h0m-38 23h0m33 55h0m-39 55h0m-6-108h0m-46 70h0m85-31h0m-85-16h0m26-90h0m-37 108h0m19 25h0m23 18h0m-7-84h0m22 66h0m43 17h0m-40 17h0m-16-8h0m80-49h0m-116-91h0m32 64h0m50-17h0m-81-42h0m50-33h0m28 32h0m-32 133h0m-26-5h0m-9-118h0m34 79h0m64-23h0m-61-38h0m51 68h0m2-57h0m-10-7h0m-78 63h0m40 44h0m-27-76h0m68 31h0m22-57h0m-47-65h0m31 40h0m-57 50h0m14 4h0m-39-80h0m13 145h0m59-72h0m-12-60h0m-25 58h0m-20 7h0m-26 26h0m74-26h0m36 51h0m-41-67h0m-45-10h0m-31 16h0m20 48h0m114-25h0m-68-14h0m-25 4h0m39-44h0m-79-6h0m-8 75h0m76-95h0m-1 56h0m50 76h0m-85-42h0m17-17h0m-16 3h0m-38-42h0m15 47h0m67-7h0m-40 24h0m31 49h0m-50-143h0m20 28h0m78 64h0m5-52h0m-18 38h0m-85-93h0m13 147h0m18-23h0m27-95h0m-66 9h0m55 73h0m-17-79h0m49 18h0m-44 26h0m4 85h0m-64-95h0m121 62h0m8-26h0m-111-13h0m64 8h0m31-35h0m-24-35h0m-16 91h0m-56-121h0m27 120h0m24-34h0m-51 57h0m52-84h0m16-58h0m-41 158h0m71-71h0m-78 58h0m88-39h0m-74-113h0m-58 94h0m106-35h0m-31-43h0m68 67h0m-126-63h0m8 28h0m60 5h0m-48 24h0m81 80h0m-25-149h0m-29 8h0m-21 128h0m-22-42h0m42-28h0m-43 68h0m57 21h0m46-90h0m-102 34h0m54-18h0m-53-43h0m50 50h0m66 6h0m-48-42h0m-28-22h0m-32 107h0m91-1h0m-78-140h0m31 164h0m-25 1h0m47-43h0m-23 31h0m-24-125h0m51 71h0m-51-62h0m24-17h0m20-14h0m12 61h0m1 78h0m-45-45h0m44 45h0m30-52h0m-70-88h0m-27 27h0m-7 52h0m1-75h0m25 105h0m50 24h0m-25-81h0m30 101h0m-48-93h0m-1-8h0m-31 74h0m88-85h0m-77 91h0m3-125h0m-17 40h0m112 5h0m-142-8h0m116 41h0m-94-29h0m91 61h0m-73 34h0m-2-79h0m33 69h0m-28-53h0m24-7h0m51 54h0m-40-8h0m-34-69h0m-28-3h0m67-34h0m-54-10h0m24 47h0m-28 77h0m79 11h0m2-109h0m-49 13h0m83 25h0m-135-22h0m45 28h0m41 57h0m-34-1h0m49-48h0m12 46h0m3-50h0m-101-16h0m44 16h0m22 23h0m-19 23h0m40-132h0m-8 58h0m21-5h0m-88 58h0m47 57h0m-46-38h0m80 1h0m-43-129h0m41 68h0m-28 80h0m32-26h0m-40-62h0m-16 34h0m-36-55h0m68-37h0m-20 103h0m18-35h0m-58-67h0m65 101h0m8 34h0m-14-42h0m32 19h0m-51-98h0m62 104h0m-128-92h0m126 72h0m-33 17h0m-12 35h0m9-105h0m-55 55h0m18-69h0m70-9h0m-29 66h0m24 18h0m-25-7h0m29-33h0m-33-12h0m-71-12h0m88 15h0m-55 14h0m-52-32h0m114 79h0m-113-37h0m49-58h0m42 114h0m-71-22h0m24-97h0m-2 17h0m-29 1h0m-3-27h0m25 52h0m14-12h0m-46-14h0m104-34h0m29 109h0m-8-41h0m-98-12h0m14-65h0m56 42h0m23 102h0m-59-112h0m13 68h0m14-63h0m-36 65h0m-19 18h0m-16-66h0m44 49h0m-11-47h0m-22 105h0m64-22h0m8-140h0m-125 101h0m52-102h0m17 49h0m-22 38h0m13-3h0m100 27h0m-30 49h0m-35-75h0m-36-120h0m8 26h0m102 85h0m-101 74h0m7-134h0m78 94h0m-10 45h0m-141-129h0m73 62h0m-43-36h0m125 176h0m-62-255h0m52 118h0m-53-58h0m-71-8h0m173 91h0m-158-29h0m-20-38h0m114 150h0m-90 3h0m67-226h0m-41 198h0m134-68h0m-90 6h0m-67-67h0m-6 29h0m30 18h0m18 69h0m-41-8h0m74 1h0m-4 42h0m-15 5h0m-47-69h0m46-73h0m1 8h0m11 29h0m-88-2h0m80-93h0m18 107h0m14-41h0m-101-17h0m45 103h0m73-60h0m-71 65h0m-30 18h0m22-85h0m-18 63h0m84 4h0m-32 73h0m-135-113h0m149 4h0m-62-21h0m13 25h0m9-106h0m21-65h0m-21 167h0m-112-97h0m221 100h0m-155-35h0m71 33h0m-14-83h0m-10 30h0m-7 10h0m-38-56h0m71 95h0m98 86h0m-132-125h0m40 31h0m-58-59h0m171-12h0m-229 18h0m114 14h0m-85-29h0m150-81h0m-32 111h0m12 4h0m-28-26h0m-37 106h0m-84-178h0m112 107h0m-50 27h0m1-100h0m18 124h0m-31-132h0m94 66h0m-15 121h0m-49-119h0m96-12h0m-128 15h0m86 82h0m-95-117h0m67 69h0m-44-58h0m-39 98h0m22-175h0m80 95h0m-86 76h0m109-38h0m49-91h0m-157 99h0m75 30h0m-58-134h0m3 163h0m19-101h0m34-63h0m-29-45h0m-11 77h0m63 81h0m-54-41h0m-93-19h0m160 169h0m46-61h0m-134-152h0m-43 54h0m25 100h0m-13-204h0m29 236h0m67-112h0m-101-58h0m141 86h0m-85-138h0m62 200h0m-126-221h0m4 119h0m-5 36h0m60-1h0m-17-27h0m82 93h0m33-112h0m-171-113h0m31 44h0m66 107h0m9-146h0m49 273h0m-149-248h0m59 28h0m-10 100h0m76 26h0m-92 42h0m37-75h0m61-27h0m34-51h0m-166-38h0m160 81h0m-123-16h0m112 21h0m-16 18h0m11-21h0m55 8h0m-131-30h0m127 1h0m-112-93h0m-94 155h0m43-164h0m44 153h0m-63 4h0m97-92h0m-32 74h0m88 115h0m-23-146h0m-28-29h0m-17-37h0m-55 129h0m64-39h0m44 15h0m-80-24h0m-9 13h0m-33-39h0m14 10h0m77-50h0m-85-61h0m25 140h0m-57-38h0m47-61h0m-12 88h0m51 25h0m-37 76h0m76-87h0m-78-28h0m164 106h0m-148-130h0m56 16h0m15 144h0m-84-84h0m-115-29h0m159 81h0m-36-91h0m53 26h0m-67-132h0m95 145h0m-70-80h0m-64 53h0m29-31h0m-9-56h0m74 57h0m-15 52h0m-57-88h0m-36 46h0m137 80h0m16-21h0m-65-88h0m-38 24h0m1-54h0m59 119h0m-88-165h0m65 217h0m-43-25h0m0-74h0m40 2h0m23-37h0m-107-79h0m34 201h0m78 5h0m-95-134h0m62 7h0m-42 114h0m24-111h0m12 41h0m-8-10h0m58-69h0m-39 38h0m-24 54h0m-18 41h0m55-245h0m-41 290h0m40-258h0m14 262h0m36-98h0m-44-55h0m-43 120h0m1 9h0m39-79h0m13-5h0m-72-13h0m9 135h0m-30-276h0m93 90h0m28 129h0m-64-135h0m-8 79h0m16-96h0m-81 134h0m141-54h0m-88 152h0m113-133h0m-137-39h0m79-173h0m-128 148h0m69 73h0m116-33h0m-145 35h0m-44 24h0m182 68h0m-139-120h0m1 98h0m-8-119h0m90 98h0m-88-120h0m21 103h0m-47-37h0m95 42h0m-1-47h0m-16-112h0m136 162h0m-115-38h0m-134-156h0m97 129h0m1-92h0m-7-75h0m86 137h0m-53-135h0m35 311h0m-46-61h0m-35-93h0m1-3h0m-5 99h0m46-9h0m-23-104h0m-32-62h0m43 36h0m25 84h0m-10 118h0m-3-230h0m1 125h0m7-79h0m-125-148h0m105 305h0m2-72h0m7-19h0m-2-43h0m40-140h0m-4 79h0m-47 53h0m1-135h0m16-82h0m7-28h0m-9 32h0m-85-5h0m94 7h0m-14 18h0m-4 36h0m-11-115h0m-4 125h0m-51-32h0m66 36h0m-36-103h0m43-11h0m18 95h0m-24 8h0m43-2h0m-60 8h0m-5-103h0m4 49h0m-3 80h0m-40-132h0m19 81h0m87 9h0m-9-61h0m-24 40h0m-99-27h0m92 48h0m-4-73h0m19 39h0m-40-66h0m-36 96h0m50-9h0m-45 1h0m70-89h0m0 13h0m4 37h0m-17-36h0m12 80h0m11 32h0m-13-58h0m-23 0h0m-24 2h0m7-28h0m32 55h0m6-49h0m1 7h0m-9 10h0m-60 61h0m59 13h0m32-66h0m-43-13h0m48-44h0m-64 20h0m9-1h0m5 42h0m-27 27h0m22-38h0m-17 42h0m77-39h0m-46-61h0m52 59h0m-41 2h0m-77-33h0m35 20h0m92 39h0m-70-61h0m27 11h0m-69 33h0m59-6h0m-40 1h0m37-78h0m34 88h0m-27-33h0m-58 29h0m83-15h0m-87 22h0m63-9h0m-21 27h0m-1 28h0m-10-133h0m19 91h0m56-70h0m-67 68h0m-31-30h0m0 92h0m3-118h0m29 2h0m13 47h0m22 6h0m-27-17h0m-40-14h0m-1 16h0m65 27h0m19-26h0m-55 41h0m-35-20h0m27-35h0m38 52h0m-59-60h0m55-45h0m-38 69h0m-5 75h0m83-49h0m-89-30h0m1-2h0m9-20h0m22 45h0m-26 32h0m12-52h0m-7-62h0m44 90h0m-25-37h0m12-18h0m-56 84h0m64-36h0m1-31h0m-66-2h0m56-17h0m21 49h0m250 253h0m34-46h0m100 86h0m-78 23h0m24-106h0m-29 81h0m13 11h0m-51-84h0m65 29h0m12-14h0m-49-31h0m79 62h0m-91-16h0m47-53h0m-21 96h0m49 3h0m-60 19h0m36-112h0m-80 34h0m55 79h0m34-21h0m-68 12h0m1-17h0m111-13h0m-59 3h0m-44-35h0m40-41h0m-4-9h0m-30 37h0m3 61h0m96 0h0m-7-31h0m-127 4h0m105 18h0m-44 45h0m-8-83h0m-20 33h0m36-13h0m-2-13h0m41 0h0m-74 29h0m17-50h0m-31 64h0m11-74h0m46-23h0m-24 10h0m30-9h0m-21 93h0m26-80h0m22 106h0m-29-66h0m17-26h0m-11-10h0m4-7h0m-80 20h0m47-46h0m-17 26h0m45 75h0m-85-13h0m68 49h0m-5-110h0m-27-22h0m-2 129h0m14-79h0m-4 50h0m40-95h0m-51 112h0m26-108h0m29 2h0m-20 101h0m-16-112h0m-23 20h0m29-16h0m74 63h0m-58 59h0m-70-43h0m63-55h0m15 91h0m26-25h0m-62-15h0m7-57h0m13 109h0m-47-62h0m35-37h0m45 9h0m19 90h0m-76-114h0m26 74h0m4-62h0m-41-28h0m-16 44h0m83 87h0m-103-58h0m8-7h0m119 12h0m-20 25h0m-73 19h0m73 17h0m-59-5h0m32-43h0m-35 25h0m32 6h0m32-100h0m-65-2h0m60 40h0m-83 20h0m-19-9h0m39 9h0m32 33h0m-1 10h0m-15-92h0m-51 2h0m53 81h0m64-62h0m-35-51h0m2 74h0m-71-25h0m111 64h0m-34-31h0m-70 16h0m20 23h0m30-51h0m-32 16h0m83 19h0m5-44h0m-71-37h0m-1 57h0m30-58h0m-11 95h0m-16-103h0m21 60h0m20 58h0m-45-30h0m3-50h0m48 87h0m-54-129h0m-35-7h0m91 36h0m-94 62h0m62-23h0m16 18h0m21 24h0m-50 17h0m-35-79h0m51 27h0m38 47h0m-96-72h0m61 64h0m-74-43h0m8-65h0m35 93h0m6-63h0m15 46h0m2-77h0m-57 72h0m65-76h0m-12 33h0m-13-35h0m-19 70h0m21-19h0m22-50h0m-66 18h0m28 80h0m-12-45h0m90 60h0m-51-78h0m19-31h0m21 114h0m-60-53h0m-37-55h0m42 34h0m10-53h0m9 65h0m-49 20h0m76-23h0m-4-26h0m37 39h0m-53 53h0m-47-60h0m-5 12h0m-11 29h0m73-49h0m-54-39h0m-26 61h0m16-11h0m-21-24h0m22 3h0m12 73h0m-27-40h0m-3-57h0m50-16h0m-31 55h0m9 15h0m-33-19h0m63-10h0m-35 60h0m61-39h0m-35 4h0m25 58h0m-3-35h0m-3-56h0m-61 33h0m57-45h0m-53 53h0m110 28h0m-70-111h0m-8 107h0m-29-49h0m104 17h0m-87-52h0m-13 21h0m14-26h0m52 1h0m14 109h0m-5-48h0m-89-78h0m91 135h0m-46-54h0m43 53h0m-7-88h0m-90-5h0m75 96h0m-8-22h0m49-59h0m-28 51h0m33-54h0m-8 40h0m-117-15h0m88-39h0m-47-9h0m80 46h0m-126-11h0m53-4h0m73 21h0m-59-92h0m-49 70h0m40-75h0m-37 78h0m-16-25h0m71 4h0m-91-80h0m172 87h0m15 0h0m-222 13h0m152-31h0m1 34h0m-121-59h0m107 37h0m33 9h0m-138 19h0m75 11h0m-124-101h0m108-8h0m78 127h0m11-24h0m-75-120h0m8 146h0m44-104h0m-106 81h0m140-40h0m-156 28h0m137 27h0m26 26h0m-56-40h0m23 22h0m-16 3h0m-23-91h0m12 34h0m-20 3h0m16 15h0m-99-19h0m55-29h0m-27-21h0m94 51h0m-22 2h0m-16 37h0m-44 27h0m106-38h0m-35-30h0m43 22h0m-167 14h0m24-13h0m115-93h0m-49 6h0m-93 66h0m66-16h0m-82 49h0m99-44h0m-89-25h0m102 104h0m121 27h0m-148-114h0m14 95h0m-21-71h0m-18 37h0m44-92h0m12 33h0m-18-34h0m-42 35h0m36-1h0m-34 52h0m114-11h0m-68-27h0m21-70h0m110 66h0m-95 26h0m-13-127h0m-43 145h0m45 17h0m-34-97h0m-56 15h0m25 36h0m64-20h0m44-16h0m-107 104h0m58-85h0m86 78h0m-108-61h0m28 7h0m32 78h0m35-48h0m-112 28h0m-43-138h0m75-38h0m-126 33h0m92 129h0m120-38h0m-45 27h0m-60-31h0m-20-47h0m33-70h0m15 111h0m-117-24h0m91-29h0m4 26h0m-7 1h0m39 74h0m-116-57h0m124 18h0m5-17h0m-66 21h0m7 57h0m-11-133h0m92 99h0m-101-151h0m92 125h0m66-36h0m-38-11h0m-210-12h0m199 46h0m-9 66h0m-53-54h0m11-15h0m-33 17h0m82 40h0m-48-32h0m-25-80h0m-23 91h0m-13-71h0m-34-30h0m139 66h0m-94-143h0m43 161h0m-5 49h0m11-41h0m-25-35h0m-5 27h0m62-55h0m-96 28h0m132 62h0m-43-44h0m-48-77h0m10 109h0m81 51h0m-69-31h0m15-145h0m-9 125h0m9-30h0m73 15h0m-161-32h0m20 22h0m75-22h0m22 16h0m-147-89h0m29 36h0m0 64h0m115-93h0m-2 89h0m-81-58h0m99-4h0m15 11h0m-88 41h0m-38-25h0m36-33h0m-6-18h0m-65 105h0m92-98h0m100 76h0m-77 54h0m-50-59h0m26-19h0m-8-75h0m-101 37h0m75 48h0m-1 63h0m-67-71h0m136-86h0m-165-75h0m106 175h0m13 42h0m-30-33h0m-37 8h0m87 37h0m-120-91h0m36 15h0m82 104h0m35-132h0m-72 59h0m-24 55h0m42-104h0m-23 87h0m-93-29h0m-27-81h0m92 134h0m70-178h0m-45 161h0m-9-102h0m24 134h0m-167-97h0m174 27h0m-102-39h0m161-16h0m-127 106h0m87 9h0m-17-169h0m-234-98h0m9 1h0m12 7h0m-36-16h0m17 0h0m0-1h0m-4 15h0m18-19h0m-32 28h0m70-48h0m-29 32h0m-4-2h0m-17-9h0m45-33h0m-5 34h0m-38 1263h0m-104-112h0m85 131h0m11-118h0m-65 103h0m-32 24h0m-43-14h0m33 15h0m51 0h0m-16-68h0m-27 31h0m-16-26h0m44 98h0m-5-18h0m73-87h0m-54-23h0m47-37h0m-101 92h0m51-102h0m8 18h0m26 37h0m43-16h0m-60 24h0m-13 3h0m35-15h0m-121 10h0m139 67h0m-92-62h0m19-43h0m42 142h0m-52 4h0m90-102h0m-107 3h0m98-5h0m-95 47h0m-12-103h0m47 119h0m53 1h0m-84-110h0m-26 26h0m26 89h0m42-71h0m-24 66h0m22-133h0m-28 160h0m-6-62h0m71-65h0m-104 23h0m103-2h0m-3 53h0m-56-12h0m33-72h0m-95 37h0m96-30h0m44-2h0m-46 50h0m23 35h0m-52-48h0m-3 113h0m29-2h0m31-28h0m-62-129h0m15 22h0m28 1h0m-57 78h0m-31 28h0m90-21h0m-16-61h0m-67 74h0m44-2h0m38-112h0m38 124h0m13-32h0m-134-89h0m32 120h0m-14-68h0m81-67h0m-67 28h0m-28 68h0m80 59h0m-100-54h0m49-114h0m62 62h0m26-47h0m-57 86h0m52-36h0m16-9h0m-17 6h0m-98 91h0m10-139h0m-18 103h0m74-111h0m56 87h0m-60-45h0m-67-25h0m106 61h0m-11-28h0m25 76h0m-109-44h0m-17 58h0m3-105h0m56-5h0m41 26h0m-98 70h0m115-73h0m10-1h0m-124 48h0m64-1h0m34 10h0m-114-30h0m123-49h0m-35 71h0m-20 13h0m28 4h0m-21-126h0m47 135h0m-100-109h0m109 37h0m-59-16h0m-45-30h0m49 129h0m49 14h0m-24-132h0m0 41h0m-70-38h0m-1 131h0m29-36h0m-47-76h0m34-15h0m28 29h0m84 26h0m-97-41h0m2 6h0m73 84h0m-85-60h0m-22 64h0m68-13h0m21 4h0m-28-77h0m-17 43h0m28-91h0m24 60h0m-14 78h0m-51-39h0m-7-20h0m39-64h0m44 126h0m-96-11h0m-45-80h0m106-24h0m-6 15h0m-34-20h0m-19 145h0m39-41h0m19-118h0m33 59h0m4-37h0m-138 87h0m109-114h0m7 90h0m18-66h0m-112 134h0m47-48h0m-5-41h0m2 67h0m68-86h0m-134 37h0m28 27h0m33 22h0m55-56h0m-97 34h0m42-79h0m-15 64h0m79-79h0m-90-16h0m115 93h0m-38-12h0m-84 55h0m105-12h0m-6-18h0m-97-34h0m54-79h0m-74 77h0m-2 30h0m78 56h0m-8-53h0m40-37h0m6 79h0m-19-118h0m-54-18h0m86 30h0m-20 23h0m-79 53h0m49-1h0m65-24h0m-98 1h0m83 25h0m-45-30h0m-26 1h0m-6-49h0m66 37h0m20 14h0m-165-6h0m150 53h0m-71-55h0m76 24h0m-59-78h0m30 122h0m-87-144h0m106-5h0m-105 56h0m-30 42h0m24 48h0m75-116h0m53-2h0m-141 59h0m138-34h0m-147 13h0m147-39h0m5 87h0m-145-60h0m11 39h0m-26-13h0m149 20h0m-107-86h0m67 20h0m45-6h0m-93 19h0m67 26h0m-125 33h0m64-87h0m105 42h0m-70-39h0m50 110h0m-40-64h0m-85 71h0m34-113h0m48 99h0m40-53h0m-43 19h0m-15 2h0m-2-25h0m53 30h0m-10-54h0m-25-1h0m13 56h0m-57-95h0m-33 111h0m7-24h0m53-105h0m68 121h0m-33-95h0m-96 24h0m-20 75h0m128-50h0m-72 46h0m33-92h0m54 85h0m-51-69h0m-12 69h0m-84-66h0m-3 31h0m98-68h0m12 46h0m-65 68h0m36 24h0m5-102h0m21-43h0m2 165h0m-94-110h0m67 71h0m-11-26h0m58-77h0m6 137h0m-96-31h0m38-103h0m57 59h0m-113 27h0m111-38h0m-61-35h0m-50 67h0m2-59h0m-22 12h0m69 90h0m-19-11h0m14 5h0m-3 19h0m-54-79h0m147 9h0m-101 57h0m-4-111h0m-3 119h0m-7-10h0m113-48h0m-54-59h0m-3 101h0m-41-83h0m113 0h0m-102 65h0m-24 38h0m-12-91h0m21-76h0m-26 82h0m28-59h0m-33 78h0m120 29h0m11-45h0m-37-66h0m-24 135h0m-49-7h0m79-132h0m-104 52h0m19-41h0m60 110h0m11 29h0m-59-8h0m117-35h0m-30-25h0m-5 38h0m-1-13h0m12-104h0m-93 37h0m-39 74h0m121 38h0m-58-45h0m-52-66h0m106 49h0m37-1h0m-34-60h0m0-8h0m-56 18h0m-2-47h0m49 47h0m-95 24h0m17 51h0m-10-37h0m50 4h0m40 39h0m-52-5h0m-27-8h0m109-73h0m-70 124h0m-6-52h0m63-20h0m-42 31h0m52-13h0m-122-39h0m137-21h0m-75-57h0m-42 46h0m-21 60h0m-19-3h0m54 44h0m62-88h0m-8 3h0m11-2h0m-30 25h0m-67-73h0m-14 59h0m76 94h0m-54-47h0m97 46h0m-119-66h0m86 55h0m32-20h0m-99-57h0m77 5h0m31 0h0m-135-25h0m106 30h0m-7 86h0m-54-112h0m92 90h0m-3-118h0m-99 97h0m71-53h0m-107 30h0m29 56h0m126-110h0m2 9h0m-116 12h0m25 29h0m41-64h0m18 39h0m15 7h0m-40-83h0m-70 141h0m51-49h0m-52-20h0m114-3h0m-121 29h0m103-10h0m-28 20h0m55-5h0m-2 27h0m-79-31h0m77-31h0m-26-33h0m-68 65h0m-58 25h0m127-77h0m-123 22h0m106 71h0m-46-147h0m17 121h0m-4 0h0m12-7h0m5 33h0m7-147h0m-38 137h0m79-14h0m-10-66h0m-25 52h0m52-14h0m-93-32h0m8-46h0m18 97h0m-85 5h0m109 7h0m-79 46h0m40-63h0m18-13h0m41-24h0m-60-63h0m1 144h0m-7-11h0m29-103h0m-57 57h0m65-45h0m37-3h0m-105 2h0m-9-24h0m3 105h0m17-74h0m48 113h0m-72-32h0m30-49h0m36-2h0m76 15h0m-73-22h0m-78 13h0m75 46h0m56-20h0m-82 39h0m-56-86h0m138 9h0m-133 11h0m96-82h0m9 24h0m-98 109h0m93 27h0m-50-140h0m26 13h0m-80 85h0m62-37h0m-25-78h0m-18 10h0m39 54h0m21 68h0m4-56h0m-67 13h0m20 17h0m44-107h0m-1 98h0m-77-40h0m78 75h0m42-35h0m32-31h0m-64-2h0m-101 26h0m170 1h0m-143 18h0m62-26h0m-81-32h0m131 72h0m1-3h0m-54-125h0m15 139h0m-58-45h0m91 59h0m-84-56h0m41 12h0m9 6h0m-98-44h0m58-60h0m49-9h0m-82 33h0m31 118h0m54-71h0m12 23h0m-76-90h0m-37 83h0m-2-25h0m100 74h0m-46-92h0m103 48h0m-122 13h0m-47-38h0m127 69h0m-124-48h0m50-81h0m91 106h0m-12-103h0m-104 78h0m-33-19h0m44 51h0m-14-87h0m57 101h0m77-38h0m-93-90h0m78 74h0m-110-65h0m35 98h0m1 33h0m-45-39h0m59 45h0m-11-164h0m-16 123h0m42-130h0m-3 100h0m-7 59h0m-6-113h0m5 107h0m70-115h0m-33 31h0m-49-49h0m-21 46h0m38 42h0m-67-13h0m52 58h0m9-137h0m-76 58h0m65 82h0m52 5h0m-28-14h0m-93-93h0m121 65h0m-104-85h0m118-14h0m-129 48h0m123-4h0m2-45h0m-101 51h0m83-56h0m33 31h0m-89-43h0m-61 119h0m134-102h0m-56 32h0m-46 46h0m-9 79h0m48-74h0m65 45h0m-28-106h0m-28 36h0m70-46h0m6 71h0m-111-1h0m62-86h0m47 65h0m-11-19h0m-97 81h0m74-48h0m-129 69h0m139-178h0m-139 91h0m120 26h0m-114 8h0m110 19h0m-37-86h0m-36 110h0m61-56h0m9 44h0m2 20h0m-105 9h0m130-118h0m-11-10h0m-18 19h0m-187 85h0m90 2h0m65 65h0m-175-184h0m94 94h0m44-111h0m-1 32h0m75 93h0m78-206h0m-225 60h0m135 72h0m45 59h0m-94-72h0m144-24h0m-174 0h0m89 87h0m20-123h0m-30 36h0m-7-43h0m-61 84h0m55-133h0m21 108h0m-16 95h0m83 35h0m-22-9h0m-151-112h0m80 39h0m80 42h0m-30-13h0m-140 63h0m114-95h0m-101-111h0m121 175h0m-123-178h0m99 68h0m60 87h0m-70-220h0m95 165h0m-169 44h0m43 18h0m132-122h0m-42 15h0m-44 103h0m91-31h0m-84-30h0m-55-18h0m-74-85h0m67 169h0m42 57h0m-93-136h0m74 121h0m-43-50h0m125 43h0m-92-88h0m83-5h0m-20 20h0m23 26h0m-34-55h0m6 15h0m153 37h0m-179-48h0m-129 18h0m147 33h0m-37 52h0m38-127h0m-92 127h0m39-122h0m-47-8h0m113 86h0m-46 18h0m67 1h0m-175-60h0m86 127h0m126-96h0m-154 45h0m46-113h0m79 56h0m-67-68h0m-48 178h0m3-232h0m128 78h0m-94 32h0m142-96h0m-115 111h0m4 7h0m-1 65h0m-21-143h0m-15-65h0m150 16h0m-50 67h0m-103-11h0m-18-22h0m29 80h0m-131-132h0m148 208h0m8-176h0m83 30h0m-117 50h0m-36 141h0m24-115h0m-20-65h0m37 40h0m33-61h0m41 126h0m-39-90h0m50 31h0m-34 34h0m-112-17h0m116-105h0m37 13h0m-190 128h0m158-2h0m-68 42h0m90-20h0m-53-91h0m-31-24h0m0 163h0m-24-37h0m32-6h0m119-195h0m-153 94h0m20-10h0m33 12h0m-8 22h0m14-177h0m85 167h0m-54 129h0m-112-101h0m68 17h0m-101-76h0m183 1h0m-106-44h0m22 106h0m23 123h0m-41-91h0m-69-63h0m50 24h0m109-19h0m-41 53h0m-8-16h0m-69 36h0m44-120h0m-120 202h0m125-101h0m50-59h0m-111 58h0m70 74h0m-30-141h0m-75-17h0m-18-129h0m99 171h0m83-46h0m-50 32h0m-85-15h0m52 0h0m13 51h0m-77-57h0m98-35h0m42 5h0m-56 55h0m-24-42h0m12 41h0m40-158h0m-28 167h0m-63 39h0m22-34h0m110 88h0m-130-37h0m106-105h0m-38 67h0m-12-141h0m-1 54h0m-2 125h0m47-94h0m-70-97h0m61 166h0m-22-78h0m-124 55h0m147 74h0m-37-27h0m-99 28h0m195-139h0m-166 65h0m114-40h0m-190 92h0m210-69h0m-21-53h0m-101-48h0m92 35h0m11 74h0m-78-38h0m-1-122h0m47 132h0m15-67h0m-66 19h0m-6 69h0m47-97h0m-35 215h0m96-86h0m-70-69h0m-20-6h0m-67-50h0m52 184h0m-18-211h0m78 111h0m-41-7h0m-52 97h0m148-120h0m-70 36h0m-5 14h0m-135-68h0m149 73h0m-145 32h0m150-128h0m-37 119h0m-70-3h0m147 101h0m23-176h0m-14-59h0m-42 142h0m-97-52h0m31-32h0m117 53h0m-87 21h0m-5 46h0m-59-127h0m25-17h0m15 52h0m41-5h0m-46-36h0m119 68h0m-82-113h0m-83 87h0m98 49h0m-23-15h0m-13-63h0m-9 16h0m58 118h0m-43-80h0m72-145h0m-58 128h0m-4-34h0m-44 44h0m-18-13h0m80-31h0m-43 16h0m69-17h0m-87 74h0m114-102h0m6-8h0m-3 144h0m-52-9h0m8 22h0m-13-33h0m50-67h0m-198-12h0m83 87h0m133-121h0m-47-10h0m-4 113h0m-51-32h0m48 74h0m1-145h0m-115 20h0m13-52h0m171 142h0m-171-54h0m92-45h0m-95 42h0m104 99h0m-119-169h0m140 87h0m-162-14h0m76 60h0m112-30h0m-75-35h0m13-8h0m-97-30h0m88 99h0m36 61h0m-125-252h0m59 188h0m-165-71h0m286-135h0m-205-7h0m-46 102h0m128 73h0m109 102h0m-168-87h0m52-114h0m73-48h0m-128 163h0m-10-62h0m72 47h0m-133-168h0m211 81h0m-87 190h0m42-59h0m-60-143h0m86 74h0m-123-128h0m4 105h0m34 42h0m-87-109h0m218 171h0m-16 7h0m30-68h0m-59 113h0m79-278h0m-99 214h0m-122-37h0m182 23h0m12-248h0m-141 197h0m16-26h0m159 31h0m-62 56h0m9-21h0m38-47h0m-263-32h0m221 115h0m-128-54h0m136-68h0m2 32h0m8 147h0m-26 17h0m-128-118h0m-50-169h0m210 27h0m-167 91h0m126 54h0m11 44h0m-51-95h0m58 61h0m-50-101h0m43-131h0m-157 179h0m79 84h0m136-208h0m-88 133h0m93 114h0m-5-120h0m-160 137h0m106-115h0m-216-68h0m271 7h0m-90-48h0m44-19h0m-67 130h0m19-88h0m13-20h0m9 21h0m52 15h0m-21-11h0m19-20h0m25 33h0m-30-34h0m-58 36h0m55-1h0m-127-18h0m152-10h0m-47 27h0m7-101h0m-19 95h0m-100-38h0m148-29h0m-115 79h0m63-51h0m-1-92h0m108 187h0m-115-69h0m33 27h0m-22-61h0m29-6h0m-13 31h0m-35 51h0m0-9h0m67 7h0m-112-30h0m86-2h0m14 2h0m-14 69h0m1-109h0m56 86h0m-170-4h0m57-48h0m28 6h0m37 50h0m-55-48h0m62-16h0m-110 47h0m45-1h0m-39 28h0m23-89h0m77 21h0m-47 47h0m96 27h0m-63-86h0m-1 7h0m-39 63h0m-94-31h0m126-9h0m42 35h0m-48 8h0m38-69h0m-4 28h0m-24-62h0m-57-18h0m-6 61h0m60 5h0m-14-56h0m39 113h0m-71-61h0m54-18h0m24-22h0m19-4h0m-17 54h0m-84 10h0m58-55h0m17-19h0m-40 40h0m-95 7h0m111 0h0m-32 61h0m45-47h0m-180-176h0m19 40h0m18-16h0m-63 33h0m14-47h0m34 37h0m-63-45h0m45 44h0m38-9h0m-21-16h0m-20 6h0m49-1h0m-19-29h0m7 7h0m-57 25h0m59-48h0m-63 51h0m68-3h0m-4 22h0m2-17h0m-39 1h0m26-9h0m4-3h0m-12-31h0m-10 10h0m7 1h0m-31 28h0m71-19h0m-62 24h0m34-9h0m9-4h0m9 7h0m-34-1h0m36 21h0m-30 17h0m-8-76h0m-23-1h0m37 22h0m-9-9h0m5 2h0m-9 33h0m4-4h0m-31-53h0m48 37h0m-29-37h0m3 36h0m23-26h0m-55 25h0m36 17h0m4-11h0m-12-29h0m-14 73h0m29-55h0m16 8h0m-21 22h0m5-53h0m-56 16h0m12 21h0m41-16h0m-33 17h0m57-13h0m-11 6h0m-26 22h0m4-30h0m61 19h0m-52 0h0m11 4h0m5 2h0m10-20h0m-51-29h0m-26 126h0m80-53h0m-39 22h0m34-11h0m-72 38h0m19-9h0m37-22h0m11-12h0m-94 14h0m98-12h0m-29 45h0m-35-42h0m-20 12h0m32 27h0m63-8h0m-34-15h0m-80 6h0m-17-13h0m107-6h0m-68 12h0m16 1h0m28 25h0m-43-5h0m45-44h0m-12 6h0m-34 2h0m-4 22h0m122 7h0m-91-28h0m-6 11h0m6-26h0m67 22h0m-56 21h0m-7-27h0m4-20h0m416 125h0m-50 3h0m-31-7h0m8-55h0m13 79h0m34-17h0m-34 40h0m42 16h0m-26-11h0m-37 22h0m30-108h0m17 85h0m8 12h0m-2-3h0m-19 16h0m62 7h0m-54-31h0m-17-21h0m19 51h0m-7-9h0m-45 42h0m15-95h0m3-3h0m35 20h0m-28-7h0m23 31h0m-5 12h0m13-2h0m33-38h0m0 3h0m-55 10h0m78 17h0m-12-20h0m-38-29h0m-11 58h0m-16-20h0m-19-36h0m32 75h0m18-28h0m-23-72h0m-8 76h0m50-59h0m-87 39h0m55-23h0m-78 39h0m142-3h0m-50-26h0m-5 32h0m-12-41h0m-3-5h0m9 1h0m26 67h0m2-46h0m-57 17h0m45-9h0m-40-23h0m58 11h0m-12 21h0m-40-2h0m3 13h0m9-37h0m-9-12h0m-25-2h0m10 91h0m42-57h0m-19-25h0m24-22h0m-34-10h0m17 88h0m-40-77h0m68 17h0m-4 11h0m-32-9h0m3-10h0m11 5h0m-13 39h0m2-63h0m4 59h0m-13 0h0m44-25h0m-30 4h0m3-34h0m-10 61h0m31 21h0m-46-116h0m25 61h0m22-23h0m-29-1h0m-2 83h0m32-31h0m-7-5h0m-28 34h0m34-37h0m-1 5h0m4-61h0m-56 35h0m29 0h0m3-4h0m7 88h0m-32-81h0m-47 71h0m-17 12h0m54-83h0m98 18h0m-46 107h0m-103-112h0m116 44h0m-32 4h0m-12-121h0m-143 6h0m200 124h0m-25 5h0m-37-72h0m13 23h0m19-54h0m23 123h0m-108-145h0m53 60h0m-14-9h0m-64 64h0m-1-14h0m78-61h0m-9 57h0m32 2h0m-213 45h0" stroke="#000" stroke-width="15" stroke-linecap="square" fill="none"/>
<text x="14.90" y="37.90" font-size="18.3" text-anchor="middle" stroke="#000" stroke-width="0.3" transform="rotate(-90 14.90 37.90)">CD1b/c</text>
<text x="149.80" y="38.15" font-size="18.3" text-anchor="middle" stroke="#000" stroke-width="0.3" transform="rotate(-90 149.80 38.15)">CD16</text>
<text x="281.55" y="38.15" font-size="18.3" text-anchor="middle" stroke="#000" stroke-width="0.3" transform="rotate(-90 281.55 38.15)">BDCA-3</text>
<text x="413.40" y="38.60" font-size="18.3" text-anchor="middle" stroke="#000" stroke-width="0.3" transform="rotate(-90 413.40 38.60)">CD34</text>
<text x="71.15" y="107.05" font-size="18.3" text-anchor="middle" stroke="#000" stroke-width="0.3">CD123</text>
<text x="197.55" y="213.55" font-size="18.3" text-anchor="middle" stroke="#000" stroke-width="0.3">CD1b/c</text>
<text x="335.25" y="325.80" font-size="18.3" text-anchor="middle" stroke="#000" stroke-width="0.3">CD16</text>
<text x="464.40" y="428.85" font-size="18.3" text-anchor="middle" stroke="#000" stroke-width="0.3">BDCA-3</text>
<path d="M103.5 96.8H465.6M231.5 208H461M365.8 316H456" stroke="#000" stroke-width="1.9"/>
<path d="M144 74.2V143" stroke="#000" stroke-width="1.6" stroke-dasharray="4.9 4.75"/>
<path d="M275.5 77.7V248" stroke="#000" stroke-width="1.6" stroke-dasharray="5.2 4.36"/>
<path d="M407.1 74.2V356" stroke="#000" stroke-width="1.6" stroke-dasharray="4.9 4.71"/>
<path d="M140.0 142.0L148.2 142.0L144.1 150.6zM271.6 247.0L279.8 247.0L275.7 255.6zM403.2 354.4L411.4 354.4L407.3 363.0z" fill="#000"/>
</svg></body></html>
